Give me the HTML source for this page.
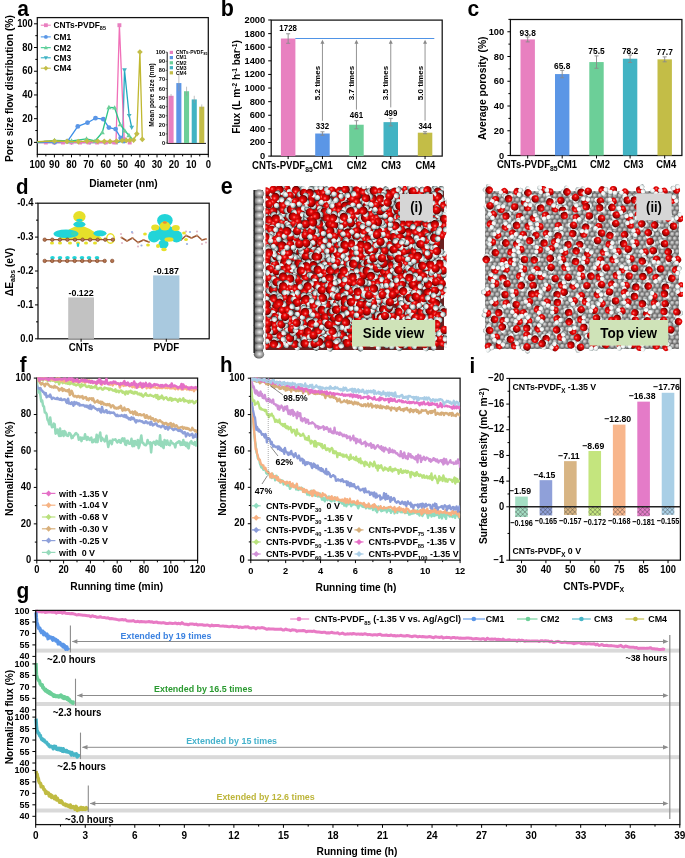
<!DOCTYPE html>
<html><head><meta charset="utf-8"><style>
html,body{margin:0;padding:0;background:#fff;}
svg{display:block;will-change:transform;}
text{font-family:"Liberation Sans",sans-serif;}
</style></head><body>
<svg width="685" height="858" viewBox="0 0 685 858">
<rect width="685" height="858" fill="#fff"/>
<text transform="translate(17.20,15.80) scale(1.0,1.07)" font-size="21" text-anchor="start" font-weight="bold" fill="#000" >a</text>
<rect x="37.30" y="17.60" width="171.00" height="136.80" fill="none" stroke="#111" stroke-width="1.25"/>
<line x1="34.00" y1="142.40" x2="37.30" y2="142.40" stroke="#000" stroke-width="1" />
<text transform="translate(32.80,145.60) scale(1.0,1.07)" font-size="9.4" text-anchor="end" font-weight="bold" fill="#000" >0</text>
<line x1="34.00" y1="118.68" x2="37.30" y2="118.68" stroke="#000" stroke-width="1" />
<text transform="translate(32.80,121.88) scale(1.0,1.07)" font-size="9.4" text-anchor="end" font-weight="bold" fill="#000" >20</text>
<line x1="34.00" y1="94.96" x2="37.30" y2="94.96" stroke="#000" stroke-width="1" />
<text transform="translate(32.80,98.16) scale(1.0,1.07)" font-size="9.4" text-anchor="end" font-weight="bold" fill="#000" >40</text>
<line x1="34.00" y1="71.24" x2="37.30" y2="71.24" stroke="#000" stroke-width="1" />
<text transform="translate(32.80,74.44) scale(1.0,1.07)" font-size="9.4" text-anchor="end" font-weight="bold" fill="#000" >60</text>
<line x1="34.00" y1="47.52" x2="37.30" y2="47.52" stroke="#000" stroke-width="1" />
<text transform="translate(32.80,50.72) scale(1.0,1.07)" font-size="9.4" text-anchor="end" font-weight="bold" fill="#000" >80</text>
<line x1="34.00" y1="23.80" x2="37.30" y2="23.80" stroke="#000" stroke-width="1" />
<text transform="translate(32.80,27.00) scale(1.0,1.07)" font-size="9.4" text-anchor="end" font-weight="bold" fill="#000" >100</text>
<line x1="35.30" y1="130.54" x2="37.30" y2="130.54" stroke="#000" stroke-width="1" />
<line x1="35.30" y1="106.82" x2="37.30" y2="106.82" stroke="#000" stroke-width="1" />
<line x1="35.30" y1="83.10" x2="37.30" y2="83.10" stroke="#000" stroke-width="1" />
<line x1="35.30" y1="59.38" x2="37.30" y2="59.38" stroke="#000" stroke-width="1" />
<line x1="35.30" y1="35.66" x2="37.30" y2="35.66" stroke="#000" stroke-width="1" />
<line x1="37.30" y1="154.40" x2="37.30" y2="157.40" stroke="#000" stroke-width="1" />
<text transform="translate(37.30,168.10) scale(1.0,1.07)" font-size="9.5" text-anchor="middle" font-weight="bold" fill="#000" >100</text>
<line x1="54.40" y1="154.40" x2="54.40" y2="157.40" stroke="#000" stroke-width="1" />
<text transform="translate(54.40,168.10) scale(1.0,1.07)" font-size="9.5" text-anchor="middle" font-weight="bold" fill="#000" >90</text>
<line x1="71.50" y1="154.40" x2="71.50" y2="157.40" stroke="#000" stroke-width="1" />
<text transform="translate(71.50,168.10) scale(1.0,1.07)" font-size="9.5" text-anchor="middle" font-weight="bold" fill="#000" >80</text>
<line x1="88.60" y1="154.40" x2="88.60" y2="157.40" stroke="#000" stroke-width="1" />
<text transform="translate(88.60,168.10) scale(1.0,1.07)" font-size="9.5" text-anchor="middle" font-weight="bold" fill="#000" >70</text>
<line x1="105.70" y1="154.40" x2="105.70" y2="157.40" stroke="#000" stroke-width="1" />
<text transform="translate(105.70,168.10) scale(1.0,1.07)" font-size="9.5" text-anchor="middle" font-weight="bold" fill="#000" >60</text>
<line x1="122.80" y1="154.40" x2="122.80" y2="157.40" stroke="#000" stroke-width="1" />
<text transform="translate(122.80,168.10) scale(1.0,1.07)" font-size="9.5" text-anchor="middle" font-weight="bold" fill="#000" >50</text>
<line x1="139.90" y1="154.40" x2="139.90" y2="157.40" stroke="#000" stroke-width="1" />
<text transform="translate(139.90,168.10) scale(1.0,1.07)" font-size="9.5" text-anchor="middle" font-weight="bold" fill="#000" >40</text>
<line x1="157.00" y1="154.40" x2="157.00" y2="157.40" stroke="#000" stroke-width="1" />
<text transform="translate(157.00,168.10) scale(1.0,1.07)" font-size="9.5" text-anchor="middle" font-weight="bold" fill="#000" >30</text>
<line x1="174.10" y1="154.40" x2="174.10" y2="157.40" stroke="#000" stroke-width="1" />
<text transform="translate(174.10,168.10) scale(1.0,1.07)" font-size="9.5" text-anchor="middle" font-weight="bold" fill="#000" >20</text>
<line x1="191.20" y1="154.40" x2="191.20" y2="157.40" stroke="#000" stroke-width="1" />
<text transform="translate(191.20,168.10) scale(1.0,1.07)" font-size="9.5" text-anchor="middle" font-weight="bold" fill="#000" >10</text>
<line x1="208.30" y1="154.40" x2="208.30" y2="157.40" stroke="#000" stroke-width="1" />
<text transform="translate(208.30,168.10) scale(1.0,1.07)" font-size="9.5" text-anchor="middle" font-weight="bold" fill="#000" >0</text>
<line x1="45.85" y1="154.40" x2="45.85" y2="156.40" stroke="#000" stroke-width="1" />
<line x1="62.95" y1="154.40" x2="62.95" y2="156.40" stroke="#000" stroke-width="1" />
<line x1="80.05" y1="154.40" x2="80.05" y2="156.40" stroke="#000" stroke-width="1" />
<line x1="97.15" y1="154.40" x2="97.15" y2="156.40" stroke="#000" stroke-width="1" />
<line x1="114.25" y1="154.40" x2="114.25" y2="156.40" stroke="#000" stroke-width="1" />
<line x1="131.35" y1="154.40" x2="131.35" y2="156.40" stroke="#000" stroke-width="1" />
<line x1="148.45" y1="154.40" x2="148.45" y2="156.40" stroke="#000" stroke-width="1" />
<line x1="165.55" y1="154.40" x2="165.55" y2="156.40" stroke="#000" stroke-width="1" />
<line x1="182.65" y1="154.40" x2="182.65" y2="156.40" stroke="#000" stroke-width="1" />
<line x1="199.75" y1="154.40" x2="199.75" y2="156.40" stroke="#000" stroke-width="1" />
<text transform="translate(123.40,187.10) scale(1.0,1.07)" font-size="10.2" text-anchor="middle" font-weight="bold" fill="#000" >Diameter (nm)</text>
<text x="0" y="0" font-size="10.3" text-anchor="middle" font-weight="bold" fill="#000" transform="translate(12.90,88.60) rotate(-90)">Pore size flow distribution (%)</text>
<line x1="40.80" y1="25.20" x2="50.80" y2="25.20" stroke="#f070b8" stroke-width="1" />
<rect x="44.00" y="23.30" width="3.80" height="3.80" fill="#e880c0" />
<text transform="translate(53.40,28.20) scale(1.0,1.07)" font-size="8.4" text-anchor="start" font-weight="bold" fill="#000" >CNTs-PVDF<tspan dy="2" font-size="5.5">85</tspan></text>
<line x1="40.80" y1="36.90" x2="50.80" y2="36.90" stroke="#3b8ee8" stroke-width="1" />
<circle cx="45.90" cy="36.90" r="1.90" fill="#5b96e6"/>
<text transform="translate(53.40,39.90) scale(1.0,1.07)" font-size="8.4" text-anchor="start" font-weight="bold" fill="#000" >CM1</text>
<line x1="40.80" y1="47.70" x2="50.80" y2="47.70" stroke="#2bc589" stroke-width="1" />
<polygon points="45.90,45.61 43.81,49.22 47.99,49.22" fill="#6ccf98"/>
<text transform="translate(53.40,50.70) scale(1.0,1.07)" font-size="8.4" text-anchor="start" font-weight="bold" fill="#000" >CM2</text>
<line x1="40.80" y1="57.80" x2="50.80" y2="57.80" stroke="#22a8c0" stroke-width="1" />
<polygon points="45.90,59.89 43.81,56.28 47.99,56.28" fill="#42b3c3"/>
<text transform="translate(53.40,60.80) scale(1.0,1.07)" font-size="8.4" text-anchor="start" font-weight="bold" fill="#000" >CM3</text>
<line x1="40.80" y1="68.20" x2="50.80" y2="68.20" stroke="#c0b830" stroke-width="1" />
<polygon points="45.90,65.73 43.43,68.20 45.90,70.67 48.37,68.20" fill="#c3bd47"/>
<text transform="translate(53.40,71.20) scale(1.0,1.07)" font-size="8.4" text-anchor="start" font-weight="bold" fill="#000" >CM4</text>
<polyline points="37.30,142.70 54.50,142.70 71.60,142.70 90.00,142.70 105.00,142.70 117.00,142.50 122.60,141.00 124.50,70.10 129.20,115.70 131.70,127.50" fill="none" stroke="#22a8c0" stroke-width="1.3" stroke-linejoin="round" />
<polygon points="54.50,145.10 52.10,140.95 56.90,140.95" fill="#42b3c3"/>
<polygon points="71.60,145.10 69.20,140.95 74.00,140.95" fill="#42b3c3"/>
<polygon points="90.00,145.10 87.60,140.95 92.40,140.95" fill="#42b3c3"/>
<polygon points="105.00,145.10 102.60,140.95 107.40,140.95" fill="#42b3c3"/>
<polygon points="117.00,144.90 114.60,140.75 119.40,140.75" fill="#42b3c3"/>
<polygon points="122.60,143.40 120.20,139.25 125.00,139.25" fill="#42b3c3"/>
<polygon points="124.50,72.50 122.10,68.35 126.90,68.35" fill="#42b3c3"/>
<polygon points="129.20,118.10 126.80,113.95 131.60,113.95" fill="#42b3c3"/>
<polygon points="131.70,129.90 129.30,125.75 134.10,125.75" fill="#42b3c3"/>
<polyline points="37.30,142.50 45.85,142.50 54.40,142.50 62.95,142.50 71.50,142.50 80.05,142.50 88.60,142.50 97.15,142.50 105.70,142.50 114.25,142.50 116.00,142.20 119.40,25.20 124.20,139.30 129.70,142.50" fill="none" stroke="#f070b8" stroke-width="1.3" stroke-linejoin="round" />
<rect x="43.89" y="140.54" width="3.91" height="3.91" fill="#e880c0" />
<rect x="52.45" y="140.54" width="3.91" height="3.91" fill="#e880c0" />
<rect x="60.99" y="140.54" width="3.91" height="3.91" fill="#e880c0" />
<rect x="69.55" y="140.54" width="3.91" height="3.91" fill="#e880c0" />
<rect x="78.09" y="140.54" width="3.91" height="3.91" fill="#e880c0" />
<rect x="86.64" y="140.54" width="3.91" height="3.91" fill="#e880c0" />
<rect x="95.20" y="140.54" width="3.91" height="3.91" fill="#e880c0" />
<rect x="103.75" y="140.54" width="3.91" height="3.91" fill="#e880c0" />
<rect x="112.30" y="140.54" width="3.91" height="3.91" fill="#e880c0" />
<rect x="114.05" y="140.24" width="3.91" height="3.91" fill="#e880c0" />
<rect x="117.45" y="23.25" width="3.91" height="3.91" fill="#e880c0" />
<rect x="122.25" y="137.34" width="3.91" height="3.91" fill="#e880c0" />
<rect x="127.74" y="140.54" width="3.91" height="3.91" fill="#e880c0" />
<polyline points="37.30,142.20 54.50,142.20 67.60,141.20 77.80,126.40 87.50,122.70 95.50,118.20 103.30,119.20 108.90,127.60 115.60,129.10 120.70,138.00 124.00,141.20" fill="none" stroke="#3b8ee8" stroke-width="1.3" stroke-linejoin="round" />
<circle cx="54.50" cy="142.20" r="2.42" fill="#5b96e6"/>
<circle cx="67.60" cy="141.20" r="2.42" fill="#5b96e6"/>
<circle cx="77.80" cy="126.40" r="2.42" fill="#5b96e6"/>
<circle cx="87.50" cy="122.70" r="2.42" fill="#5b96e6"/>
<circle cx="95.50" cy="118.20" r="2.42" fill="#5b96e6"/>
<circle cx="103.30" cy="119.20" r="2.42" fill="#5b96e6"/>
<circle cx="108.90" cy="127.60" r="2.42" fill="#5b96e6"/>
<circle cx="115.60" cy="129.10" r="2.42" fill="#5b96e6"/>
<circle cx="120.70" cy="138.00" r="2.42" fill="#5b96e6"/>
<circle cx="124.00" cy="141.20" r="2.42" fill="#5b96e6"/>
<polyline points="37.30,142.20 54.50,140.30 71.60,140.80 86.50,138.80 95.00,141.00 102.30,132.50 108.90,107.40 114.60,107.70 120.20,124.50 124.80,130.70 128.90,135.30 131.50,139.00" fill="none" stroke="#2bc589" stroke-width="1.3" stroke-linejoin="round" />
<polygon points="54.50,137.77 51.97,142.14 57.03,142.14" fill="#6ccf98"/>
<polygon points="71.60,138.27 69.07,142.64 74.13,142.64" fill="#6ccf98"/>
<polygon points="86.50,136.27 83.97,140.64 89.03,140.64" fill="#6ccf98"/>
<polygon points="95.00,138.47 92.47,142.84 97.53,142.84" fill="#6ccf98"/>
<polygon points="102.30,129.97 99.77,134.34 104.83,134.34" fill="#6ccf98"/>
<polygon points="108.90,104.87 106.37,109.24 111.43,109.24" fill="#6ccf98"/>
<polygon points="114.60,105.17 112.07,109.54 117.13,109.54" fill="#6ccf98"/>
<polygon points="120.20,121.97 117.67,126.34 122.73,126.34" fill="#6ccf98"/>
<polygon points="124.80,128.17 122.27,132.54 127.33,132.54" fill="#6ccf98"/>
<polygon points="128.90,132.77 126.37,137.14 131.43,137.14" fill="#6ccf98"/>
<polygon points="131.50,136.47 128.97,140.84 134.03,140.84" fill="#6ccf98"/>
<polyline points="37.30,141.60 54.50,141.00 67.00,141.40 78.30,141.60 87.00,141.20 97.70,141.20 104.30,141.40 110.00,141.40 116.60,141.20 122.20,140.60 126.30,140.40 129.90,140.20 133.60,140.10 136.80,133.80 139.90,52.00 142.30,139.30" fill="none" stroke="#c0b830" stroke-width="1.3" stroke-linejoin="round" />
<polygon points="54.50,138.16 51.66,141.00 54.50,143.84 57.34,141.00" fill="#c3bd47"/>
<polygon points="67.00,138.56 64.16,141.40 67.00,144.24 69.84,141.40" fill="#c3bd47"/>
<polygon points="78.30,138.76 75.46,141.60 78.30,144.44 81.14,141.60" fill="#c3bd47"/>
<polygon points="87.00,138.36 84.16,141.20 87.00,144.04 89.84,141.20" fill="#c3bd47"/>
<polygon points="97.70,138.36 94.86,141.20 97.70,144.04 100.54,141.20" fill="#c3bd47"/>
<polygon points="104.30,138.56 101.46,141.40 104.30,144.24 107.14,141.40" fill="#c3bd47"/>
<polygon points="110.00,138.56 107.16,141.40 110.00,144.24 112.84,141.40" fill="#c3bd47"/>
<polygon points="116.60,138.36 113.76,141.20 116.60,144.04 119.44,141.20" fill="#c3bd47"/>
<polygon points="122.20,137.76 119.36,140.60 122.20,143.44 125.04,140.60" fill="#c3bd47"/>
<polygon points="126.30,137.56 123.46,140.40 126.30,143.24 129.14,140.40" fill="#c3bd47"/>
<polygon points="129.90,137.36 127.06,140.20 129.90,143.04 132.74,140.20" fill="#c3bd47"/>
<polygon points="133.60,137.26 130.76,140.10 133.60,142.94 136.44,140.10" fill="#c3bd47"/>
<polygon points="136.80,130.96 133.96,133.80 136.80,136.64 139.64,133.80" fill="#c3bd47"/>
<polygon points="139.90,49.16 137.06,52.00 139.90,54.84 142.74,52.00" fill="#c3bd47"/>
<polygon points="142.30,136.46 139.46,139.30 142.30,142.14 145.14,139.30" fill="#c3bd47"/>
<line x1="167.20" y1="52.20" x2="167.20" y2="143.40" stroke="#1a1a1a" stroke-width="1.0" />
<line x1="167.20" y1="143.40" x2="206.00" y2="143.40" stroke="#1a1a1a" stroke-width="1.0" />
<line x1="165.60" y1="143.00" x2="167.20" y2="143.00" stroke="#111" stroke-width="0.6" />
<text transform="translate(165.00,145.00) scale(1.0,1.07)" font-size="5.6" text-anchor="end" font-weight="bold" fill="#000" >0</text>
<line x1="165.60" y1="133.92" x2="167.20" y2="133.92" stroke="#111" stroke-width="0.6" />
<text transform="translate(165.00,135.92) scale(1.0,1.07)" font-size="5.6" text-anchor="end" font-weight="bold" fill="#000" >10</text>
<line x1="165.60" y1="124.84" x2="167.20" y2="124.84" stroke="#111" stroke-width="0.6" />
<text transform="translate(165.00,126.84) scale(1.0,1.07)" font-size="5.6" text-anchor="end" font-weight="bold" fill="#000" >20</text>
<line x1="165.60" y1="115.76" x2="167.20" y2="115.76" stroke="#111" stroke-width="0.6" />
<text transform="translate(165.00,117.76) scale(1.0,1.07)" font-size="5.6" text-anchor="end" font-weight="bold" fill="#000" >30</text>
<line x1="165.60" y1="106.68" x2="167.20" y2="106.68" stroke="#111" stroke-width="0.6" />
<text transform="translate(165.00,108.68) scale(1.0,1.07)" font-size="5.6" text-anchor="end" font-weight="bold" fill="#000" >40</text>
<line x1="165.60" y1="97.60" x2="167.20" y2="97.60" stroke="#111" stroke-width="0.6" />
<text transform="translate(165.00,99.60) scale(1.0,1.07)" font-size="5.6" text-anchor="end" font-weight="bold" fill="#000" >50</text>
<line x1="165.60" y1="88.52" x2="167.20" y2="88.52" stroke="#111" stroke-width="0.6" />
<text transform="translate(165.00,90.52) scale(1.0,1.07)" font-size="5.6" text-anchor="end" font-weight="bold" fill="#000" >60</text>
<line x1="165.60" y1="79.44" x2="167.20" y2="79.44" stroke="#111" stroke-width="0.6" />
<text transform="translate(165.00,81.44) scale(1.0,1.07)" font-size="5.6" text-anchor="end" font-weight="bold" fill="#000" >70</text>
<line x1="165.60" y1="70.36" x2="167.20" y2="70.36" stroke="#111" stroke-width="0.6" />
<text transform="translate(165.00,72.36) scale(1.0,1.07)" font-size="5.6" text-anchor="end" font-weight="bold" fill="#000" >80</text>
<line x1="165.60" y1="61.28" x2="167.20" y2="61.28" stroke="#111" stroke-width="0.6" />
<text transform="translate(165.00,63.28) scale(1.0,1.07)" font-size="5.6" text-anchor="end" font-weight="bold" fill="#000" >90</text>
<line x1="165.60" y1="52.20" x2="167.20" y2="52.20" stroke="#111" stroke-width="0.6" />
<text transform="translate(165.00,54.20) scale(1.0,1.07)" font-size="5.6" text-anchor="end" font-weight="bold" fill="#000" >100</text>
<text x="0" y="0" font-size="6.6" text-anchor="middle" font-weight="bold" fill="#000" transform="translate(154.30,95.00) rotate(-90)">Mean pore size (nm)</text>
<rect x="168.50" y="95.78" width="5.10" height="47.22" fill="#e880c0" />
<line x1="171.05" y1="93.97" x2="171.05" y2="97.60" stroke="#999" stroke-width="0.6" />
<rect x="176.30" y="83.07" width="5.10" height="59.93" fill="#5b96e6" />
<line x1="178.85" y1="74.90" x2="178.85" y2="91.24" stroke="#999" stroke-width="0.6" />
<rect x="184.00" y="91.24" width="5.10" height="51.76" fill="#6ccf98" />
<line x1="186.55" y1="86.70" x2="186.55" y2="95.78" stroke="#999" stroke-width="0.6" />
<rect x="191.70" y="99.42" width="5.10" height="43.58" fill="#42b3c3" />
<line x1="194.25" y1="95.78" x2="194.25" y2="103.05" stroke="#999" stroke-width="0.6" />
<rect x="199.20" y="106.68" width="5.10" height="36.32" fill="#c3bd47" />
<line x1="201.75" y1="104.41" x2="201.75" y2="108.95" stroke="#999" stroke-width="0.6" />
<rect x="169.70" y="50.80" width="3.30" height="3.20" fill="#e880c0" />
<text transform="translate(175.90,54.20) scale(1.0,1.07)" font-size="5.0" text-anchor="start" font-weight="bold" fill="#000" >CNTs-PVDF<tspan dy="1" font-size="3.5">85</tspan></text>
<rect x="169.70" y="56.00" width="3.30" height="3.20" fill="#5b96e6" />
<text transform="translate(175.90,59.40) scale(1.0,1.07)" font-size="5.0" text-anchor="start" font-weight="bold" fill="#000" >CM1</text>
<rect x="169.70" y="61.20" width="3.30" height="3.20" fill="#6ccf98" />
<text transform="translate(175.90,64.60) scale(1.0,1.07)" font-size="5.0" text-anchor="start" font-weight="bold" fill="#000" >CM2</text>
<rect x="169.70" y="66.10" width="3.30" height="3.20" fill="#42b3c3" />
<text transform="translate(175.90,69.50) scale(1.0,1.07)" font-size="5.0" text-anchor="start" font-weight="bold" fill="#000" >CM3</text>
<rect x="169.70" y="71.20" width="3.30" height="3.20" fill="#c3bd47" />
<text transform="translate(175.90,74.60) scale(1.0,1.07)" font-size="5.0" text-anchor="start" font-weight="bold" fill="#000" >CM4</text>
<text transform="translate(220.80,15.80) scale(1.0,1.07)" font-size="21.5" text-anchor="start" font-weight="bold" fill="#000" >b</text>
<rect x="271.20" y="20.10" width="171.00" height="136.00" fill="none" stroke="#111" stroke-width="1.25"/>
<line x1="268.20" y1="156.10" x2="271.20" y2="156.10" stroke="#000" stroke-width="1" />
<text transform="translate(265.20,159.10) scale(1.0,1.07)" font-size="9.3" text-anchor="end" font-weight="bold" fill="#000" >0</text>
<line x1="268.20" y1="142.49" x2="271.20" y2="142.49" stroke="#000" stroke-width="1" />
<text transform="translate(265.20,145.49) scale(1.0,1.07)" font-size="9.3" text-anchor="end" font-weight="bold" fill="#000" >200</text>
<line x1="268.20" y1="128.88" x2="271.20" y2="128.88" stroke="#000" stroke-width="1" />
<text transform="translate(265.20,131.88) scale(1.0,1.07)" font-size="9.3" text-anchor="end" font-weight="bold" fill="#000" >400</text>
<line x1="268.20" y1="115.27" x2="271.20" y2="115.27" stroke="#000" stroke-width="1" />
<text transform="translate(265.20,118.27) scale(1.0,1.07)" font-size="9.3" text-anchor="end" font-weight="bold" fill="#000" >600</text>
<line x1="268.20" y1="101.66" x2="271.20" y2="101.66" stroke="#000" stroke-width="1" />
<text transform="translate(265.20,104.66) scale(1.0,1.07)" font-size="9.3" text-anchor="end" font-weight="bold" fill="#000" >800</text>
<line x1="268.20" y1="88.05" x2="271.20" y2="88.05" stroke="#000" stroke-width="1" />
<text transform="translate(265.20,91.05) scale(1.0,1.07)" font-size="9.3" text-anchor="end" font-weight="bold" fill="#000" >1000</text>
<line x1="268.20" y1="74.44" x2="271.20" y2="74.44" stroke="#000" stroke-width="1" />
<text transform="translate(265.20,77.44) scale(1.0,1.07)" font-size="9.3" text-anchor="end" font-weight="bold" fill="#000" >1200</text>
<line x1="268.20" y1="60.83" x2="271.20" y2="60.83" stroke="#000" stroke-width="1" />
<text transform="translate(265.20,63.83) scale(1.0,1.07)" font-size="9.3" text-anchor="end" font-weight="bold" fill="#000" >1400</text>
<line x1="268.20" y1="47.22" x2="271.20" y2="47.22" stroke="#000" stroke-width="1" />
<text transform="translate(265.20,50.22) scale(1.0,1.07)" font-size="9.3" text-anchor="end" font-weight="bold" fill="#000" >1600</text>
<line x1="268.20" y1="33.61" x2="271.20" y2="33.61" stroke="#000" stroke-width="1" />
<text transform="translate(265.20,36.61) scale(1.0,1.07)" font-size="9.3" text-anchor="end" font-weight="bold" fill="#000" >1800</text>
<line x1="268.20" y1="20.00" x2="271.20" y2="20.00" stroke="#000" stroke-width="1" />
<text transform="translate(265.20,23.00) scale(1.0,1.07)" font-size="9.3" text-anchor="end" font-weight="bold" fill="#000" >2000</text>
<rect x="280.90" y="38.51" width="14.50" height="117.59" fill="#e880c0" />
<line x1="288.15" y1="33.75" x2="288.15" y2="43.27" stroke="#8a8a8a" stroke-width="0.9" />
<line x1="286.15" y1="33.75" x2="290.15" y2="33.75" stroke="#8a8a8a" stroke-width="0.9" />
<line x1="286.15" y1="43.27" x2="290.15" y2="43.27" stroke="#8a8a8a" stroke-width="0.9" />
<text transform="translate(288.15,31.15) scale(1.0,1.07)" font-size="7.9" text-anchor="middle" font-weight="bold" fill="#000" >1728</text>
<line x1="288.15" y1="156.10" x2="288.15" y2="159.10" stroke="#000" stroke-width="1" />
<rect x="315.20" y="133.51" width="14.50" height="22.59" fill="#5b96e6" />
<line x1="322.45" y1="131.81" x2="322.45" y2="135.21" stroke="#8a8a8a" stroke-width="0.9" />
<line x1="320.45" y1="131.81" x2="324.45" y2="131.81" stroke="#8a8a8a" stroke-width="0.9" />
<line x1="320.45" y1="135.21" x2="324.45" y2="135.21" stroke="#8a8a8a" stroke-width="0.9" />
<text transform="translate(322.45,129.21) scale(1.0,1.07)" font-size="7.9" text-anchor="middle" font-weight="bold" fill="#000" >332</text>
<line x1="322.45" y1="156.10" x2="322.45" y2="159.10" stroke="#000" stroke-width="1" />
<rect x="349.20" y="124.73" width="14.50" height="31.37" fill="#6ccf98" />
<line x1="356.45" y1="120.65" x2="356.45" y2="128.81" stroke="#8a8a8a" stroke-width="0.9" />
<line x1="354.45" y1="120.65" x2="358.45" y2="120.65" stroke="#8a8a8a" stroke-width="0.9" />
<line x1="354.45" y1="128.81" x2="358.45" y2="128.81" stroke="#8a8a8a" stroke-width="0.9" />
<text transform="translate(356.45,118.05) scale(1.0,1.07)" font-size="7.9" text-anchor="middle" font-weight="bold" fill="#000" >461</text>
<line x1="356.45" y1="156.10" x2="356.45" y2="159.10" stroke="#000" stroke-width="1" />
<rect x="383.50" y="122.14" width="14.50" height="33.96" fill="#42b3c3" />
<line x1="390.75" y1="118.40" x2="390.75" y2="125.89" stroke="#8a8a8a" stroke-width="0.9" />
<line x1="388.75" y1="118.40" x2="392.75" y2="118.40" stroke="#8a8a8a" stroke-width="0.9" />
<line x1="388.75" y1="125.89" x2="392.75" y2="125.89" stroke="#8a8a8a" stroke-width="0.9" />
<text transform="translate(390.75,115.80) scale(1.0,1.07)" font-size="7.9" text-anchor="middle" font-weight="bold" fill="#000" >499</text>
<line x1="390.75" y1="156.10" x2="390.75" y2="159.10" stroke="#000" stroke-width="1" />
<rect x="417.80" y="132.69" width="14.50" height="23.41" fill="#c3bd47" />
<line x1="425.05" y1="131.67" x2="425.05" y2="133.71" stroke="#8a8a8a" stroke-width="0.9" />
<line x1="423.05" y1="131.67" x2="427.05" y2="131.67" stroke="#8a8a8a" stroke-width="0.9" />
<line x1="423.05" y1="133.71" x2="427.05" y2="133.71" stroke="#8a8a8a" stroke-width="0.9" />
<text transform="translate(425.05,129.07) scale(1.0,1.07)" font-size="7.9" text-anchor="middle" font-weight="bold" fill="#000" >344</text>
<line x1="425.05" y1="156.10" x2="425.05" y2="159.10" stroke="#000" stroke-width="1" />
<line x1="295.30" y1="38.51" x2="434.30" y2="38.51" stroke="#4f93e6" stroke-width="1" />
<line x1="322.45" y1="42.71" x2="322.45" y2="120.81" stroke="#888" stroke-width="0.9" />
<polygon points="322.45,39.71 320.45,43.71 324.45,43.71" fill="#888"/>
<text x="0" y="0" font-size="8.0" text-anchor="middle" font-weight="bold" fill="#000" transform="translate(319.95,83.00) rotate(-90)">5.2 times</text>
<line x1="356.45" y1="42.71" x2="356.45" y2="109.65" stroke="#888" stroke-width="0.9" />
<polygon points="356.45,39.71 354.45,43.71 358.45,43.71" fill="#888"/>
<text x="0" y="0" font-size="8.0" text-anchor="middle" font-weight="bold" fill="#000" transform="translate(353.95,83.00) rotate(-90)">3.7 times</text>
<line x1="390.75" y1="42.71" x2="390.75" y2="107.40" stroke="#888" stroke-width="0.9" />
<polygon points="390.75,39.71 388.75,43.71 392.75,43.71" fill="#888"/>
<text x="0" y="0" font-size="8.0" text-anchor="middle" font-weight="bold" fill="#000" transform="translate(388.25,83.00) rotate(-90)">3.5 times</text>
<line x1="425.05" y1="42.71" x2="425.05" y2="120.67" stroke="#888" stroke-width="0.9" />
<polygon points="425.05,39.71 423.05,43.71 427.05,43.71" fill="#888"/>
<text x="0" y="0" font-size="8.0" text-anchor="middle" font-weight="bold" fill="#000" transform="translate(422.55,83.00) rotate(-90)">5.0 times</text>
<text transform="translate(312.80,169.00) scale(1.0,1.07)" font-size="9.6" text-anchor="end" font-weight="bold" fill="#000" >CNTs-PVDF<tspan dy="2.5" font-size="6.8">85</tspan></text>
<text transform="translate(322.75,169.00) scale(1.0,1.07)" font-size="9.4" text-anchor="middle" font-weight="bold" fill="#000" >CM1</text>
<text transform="translate(356.75,169.00) scale(1.0,1.07)" font-size="9.4" text-anchor="middle" font-weight="bold" fill="#000" >CM2</text>
<text transform="translate(391.05,169.00) scale(1.0,1.07)" font-size="9.4" text-anchor="middle" font-weight="bold" fill="#000" >CM3</text>
<text transform="translate(425.35,169.00) scale(1.0,1.07)" font-size="9.4" text-anchor="middle" font-weight="bold" fill="#000" >CM4</text>
<text x="0" y="0" font-size="10.2" text-anchor="middle" font-weight="bold" fill="#000" transform="translate(240.40,87.00) rotate(-90)">Flux (L m<tspan dy="-3" font-size="6.5">-2</tspan><tspan dy="3"> h</tspan><tspan dy="-3" font-size="6.5">-1</tspan><tspan dy="3"> bar</tspan><tspan dy="-3" font-size="6.5">-1</tspan><tspan dy="3">)</tspan></text>
<text transform="translate(467.60,15.90) scale(1.0,1.07)" font-size="21" text-anchor="start" font-weight="bold" fill="#000" >c</text>
<rect x="510.40" y="19.50" width="171.50" height="136.00" fill="none" stroke="#111" stroke-width="1.25"/>
<line x1="507.40" y1="155.50" x2="510.40" y2="155.50" stroke="#000" stroke-width="1" />
<text transform="translate(504.20,158.50) scale(1.0,1.07)" font-size="9.3" text-anchor="end" font-weight="bold" fill="#000" >0</text>
<line x1="507.40" y1="130.75" x2="510.40" y2="130.75" stroke="#000" stroke-width="1" />
<text transform="translate(504.20,133.75) scale(1.0,1.07)" font-size="9.3" text-anchor="end" font-weight="bold" fill="#000" >20</text>
<line x1="507.40" y1="106.00" x2="510.40" y2="106.00" stroke="#000" stroke-width="1" />
<text transform="translate(504.20,109.00) scale(1.0,1.07)" font-size="9.3" text-anchor="end" font-weight="bold" fill="#000" >40</text>
<line x1="507.40" y1="81.25" x2="510.40" y2="81.25" stroke="#000" stroke-width="1" />
<text transform="translate(504.20,84.25) scale(1.0,1.07)" font-size="9.3" text-anchor="end" font-weight="bold" fill="#000" >60</text>
<line x1="507.40" y1="56.50" x2="510.40" y2="56.50" stroke="#000" stroke-width="1" />
<text transform="translate(504.20,59.50) scale(1.0,1.07)" font-size="9.3" text-anchor="end" font-weight="bold" fill="#000" >80</text>
<line x1="507.40" y1="31.75" x2="510.40" y2="31.75" stroke="#000" stroke-width="1" />
<text transform="translate(504.20,34.75) scale(1.0,1.07)" font-size="9.3" text-anchor="end" font-weight="bold" fill="#000" >100</text>
<line x1="508.40" y1="143.12" x2="510.40" y2="143.12" stroke="#000" stroke-width="1" />
<line x1="508.40" y1="118.38" x2="510.40" y2="118.38" stroke="#000" stroke-width="1" />
<line x1="508.40" y1="93.62" x2="510.40" y2="93.62" stroke="#000" stroke-width="1" />
<line x1="508.40" y1="68.88" x2="510.40" y2="68.88" stroke="#000" stroke-width="1" />
<line x1="508.40" y1="44.12" x2="510.40" y2="44.12" stroke="#000" stroke-width="1" />
<line x1="508.40" y1="19.38" x2="510.40" y2="19.38" stroke="#000" stroke-width="1" />
<rect x="520.50" y="39.42" width="14.40" height="116.08" fill="#e880c0" />
<line x1="527.70" y1="36.95" x2="527.70" y2="41.90" stroke="#8a8a8a" stroke-width="0.9" />
<line x1="525.70" y1="36.95" x2="529.70" y2="36.95" stroke="#8a8a8a" stroke-width="0.9" />
<line x1="525.70" y1="41.90" x2="529.70" y2="41.90" stroke="#8a8a8a" stroke-width="0.9" />
<text transform="translate(527.70,35.55) scale(1.0,1.07)" font-size="8.4" text-anchor="middle" font-weight="bold" fill="#000" >93.8</text>
<line x1="527.70" y1="155.50" x2="527.70" y2="158.50" stroke="#000" stroke-width="1" />
<rect x="555.00" y="74.07" width="14.40" height="81.43" fill="#5b96e6" />
<line x1="562.20" y1="70.36" x2="562.20" y2="77.78" stroke="#8a8a8a" stroke-width="0.9" />
<line x1="560.20" y1="70.36" x2="564.20" y2="70.36" stroke="#8a8a8a" stroke-width="0.9" />
<line x1="560.20" y1="77.78" x2="564.20" y2="77.78" stroke="#8a8a8a" stroke-width="0.9" />
<text transform="translate(562.20,68.96) scale(1.0,1.07)" font-size="8.4" text-anchor="middle" font-weight="bold" fill="#000" >65.8</text>
<line x1="562.20" y1="155.50" x2="562.20" y2="158.50" stroke="#000" stroke-width="1" />
<rect x="589.30" y="62.07" width="14.40" height="93.43" fill="#6ccf98" />
<line x1="596.50" y1="55.88" x2="596.50" y2="68.26" stroke="#8a8a8a" stroke-width="0.9" />
<line x1="594.50" y1="55.88" x2="598.50" y2="55.88" stroke="#8a8a8a" stroke-width="0.9" />
<line x1="594.50" y1="68.26" x2="598.50" y2="68.26" stroke="#8a8a8a" stroke-width="0.9" />
<text transform="translate(596.50,54.48) scale(1.0,1.07)" font-size="8.4" text-anchor="middle" font-weight="bold" fill="#000" >75.5</text>
<line x1="596.50" y1="155.50" x2="596.50" y2="158.50" stroke="#000" stroke-width="1" />
<rect x="622.90" y="58.73" width="14.40" height="96.77" fill="#42b3c3" />
<line x1="630.10" y1="55.01" x2="630.10" y2="62.44" stroke="#8a8a8a" stroke-width="0.9" />
<line x1="628.10" y1="55.01" x2="632.10" y2="55.01" stroke="#8a8a8a" stroke-width="0.9" />
<line x1="628.10" y1="62.44" x2="632.10" y2="62.44" stroke="#8a8a8a" stroke-width="0.9" />
<text transform="translate(630.10,53.61) scale(1.0,1.07)" font-size="8.4" text-anchor="middle" font-weight="bold" fill="#000" >78.2</text>
<line x1="630.10" y1="155.50" x2="630.10" y2="158.50" stroke="#000" stroke-width="1" />
<rect x="657.50" y="59.35" width="14.40" height="96.15" fill="#c3bd47" />
<line x1="664.70" y1="56.87" x2="664.70" y2="61.82" stroke="#8a8a8a" stroke-width="0.9" />
<line x1="662.70" y1="56.87" x2="666.70" y2="56.87" stroke="#8a8a8a" stroke-width="0.9" />
<line x1="662.70" y1="61.82" x2="666.70" y2="61.82" stroke="#8a8a8a" stroke-width="0.9" />
<text transform="translate(664.70,55.47) scale(1.0,1.07)" font-size="8.4" text-anchor="middle" font-weight="bold" fill="#000" >77.7</text>
<line x1="664.70" y1="155.50" x2="664.70" y2="158.50" stroke="#000" stroke-width="1" />
<text transform="translate(557.60,168.40) scale(1.0,1.07)" font-size="9.6" text-anchor="end" font-weight="bold" fill="#000" >CNTs-PVDF<tspan dy="2.5" font-size="6.8">85</tspan></text>
<text transform="translate(567.10,168.40) scale(1.0,1.07)" font-size="9.4" text-anchor="middle" font-weight="bold" fill="#000" >CM1</text>
<text transform="translate(600.00,168.40) scale(1.0,1.07)" font-size="9.4" text-anchor="middle" font-weight="bold" fill="#000" >CM2</text>
<text transform="translate(633.50,168.40) scale(1.0,1.07)" font-size="9.4" text-anchor="middle" font-weight="bold" fill="#000" >CM3</text>
<text transform="translate(666.20,168.40) scale(1.0,1.07)" font-size="9.4" text-anchor="middle" font-weight="bold" fill="#000" >CM4</text>
<text x="0" y="0" font-size="10.4" text-anchor="middle" font-weight="bold" fill="#000" transform="translate(485.80,88.20) rotate(-90)">Average porosity (%)</text>
<text transform="translate(16.00,193.50) scale(1.0,1.07)" font-size="20.5" text-anchor="start" font-weight="bold" fill="#000" >d</text>
<rect x="38.00" y="203.20" width="171.20" height="135.60" fill="none" stroke="#111" stroke-width="1.25"/>
<line x1="35.00" y1="203.20" x2="38.00" y2="203.20" stroke="#000" stroke-width="1" />
<text transform="translate(33.40,206.20) scale(1.0,1.07)" font-size="9.4" text-anchor="end" font-weight="bold" fill="#000" >-0.4</text>
<line x1="35.00" y1="237.10" x2="38.00" y2="237.10" stroke="#000" stroke-width="1" />
<text transform="translate(33.40,240.10) scale(1.0,1.07)" font-size="9.4" text-anchor="end" font-weight="bold" fill="#000" >-0.3</text>
<line x1="35.00" y1="271.00" x2="38.00" y2="271.00" stroke="#000" stroke-width="1" />
<text transform="translate(33.40,274.00) scale(1.0,1.07)" font-size="9.4" text-anchor="end" font-weight="bold" fill="#000" >-0.2</text>
<line x1="35.00" y1="304.90" x2="38.00" y2="304.90" stroke="#000" stroke-width="1" />
<text transform="translate(33.40,307.90) scale(1.0,1.07)" font-size="9.4" text-anchor="end" font-weight="bold" fill="#000" >-0.1</text>
<line x1="35.00" y1="338.80" x2="38.00" y2="338.80" stroke="#000" stroke-width="1" />
<text transform="translate(33.40,341.80) scale(1.0,1.07)" font-size="9.4" text-anchor="end" font-weight="bold" fill="#000" >0.0</text>
<line x1="36.00" y1="220.15" x2="38.00" y2="220.15" stroke="#000" stroke-width="1" />
<line x1="36.00" y1="254.05" x2="38.00" y2="254.05" stroke="#000" stroke-width="1" />
<line x1="36.00" y1="287.95" x2="38.00" y2="287.95" stroke="#000" stroke-width="1" />
<line x1="36.00" y1="321.85" x2="38.00" y2="321.85" stroke="#000" stroke-width="1" />
<rect x="68.20" y="297.44" width="25.80" height="41.36" fill="#c2c2c2" />
<rect x="153.10" y="275.41" width="26.30" height="63.39" fill="#a9c9df" />
<text transform="translate(81.10,296.24) scale(1.0,1.07)" font-size="8.9" text-anchor="middle" font-weight="bold" fill="#000" >-0.122</text>
<text transform="translate(166.30,274.21) scale(1.0,1.07)" font-size="8.9" text-anchor="middle" font-weight="bold" fill="#000" >-0.187</text>
<line x1="81.10" y1="338.80" x2="81.10" y2="341.80" stroke="#000" stroke-width="1" />
<line x1="166.30" y1="338.80" x2="166.30" y2="341.80" stroke="#000" stroke-width="1" />
<text transform="translate(81.10,351.20) scale(1.0,1.07)" font-size="9.7" text-anchor="middle" font-weight="bold" fill="#000" >CNTs</text>
<text transform="translate(166.30,351.20) scale(1.0,1.07)" font-size="9.7" text-anchor="middle" font-weight="bold" fill="#000" >PVDF</text>
<text x="0" y="0" font-size="10.2" text-anchor="middle" font-weight="bold" fill="#000" transform="translate(12.50,272.00) rotate(-90)">ΔE<tspan dy="2.5" font-size="7">abs</tspan><tspan dy="-2.5"> (eV)</tspan></text>
<path d="M58,239.5 Q66,230 75,226.5 L84,226.5 Q94,230 103,239.5 Z" fill="#e6e02a"/>
<ellipse cx="66" cy="233.8" rx="12.5" ry="4.3" fill="#22d4d8"/>
<ellipse cx="74" cy="233.5" rx="3" ry="2.2" fill="#3ad8b0"/>
<ellipse cx="100" cy="233.3" rx="6.5" ry="3" fill="#22d4d8"/>
<ellipse cx="79.4" cy="224.3" rx="6" ry="3" fill="#22d4d8"/>
<ellipse cx="79.4" cy="216.6" rx="6.2" ry="5.6" fill="#e6e02a"/>
<ellipse cx="79.4" cy="220.3" rx="3.2" ry="1.6" fill="#22d4d8"/>
<ellipse cx="110.5" cy="238.5" rx="3.8" ry="4.8" fill="none" stroke="#e6e02a" stroke-width="1.5"/>
<ellipse cx="52" cy="243" rx="2" ry="1.6" fill="#e6e02a"/>
<ellipse cx="60" cy="243" rx="2" ry="1.6" fill="#e6e02a"/>
<ellipse cx="70" cy="243" rx="2" ry="1.6" fill="#e6e02a"/>
<ellipse cx="78" cy="243" rx="2" ry="1.6" fill="#e6e02a"/>
<ellipse cx="86" cy="243" rx="2" ry="1.6" fill="#e6e02a"/>
<ellipse cx="95" cy="243" rx="2" ry="1.6" fill="#e6e02a"/>
<ellipse cx="78" cy="245" rx="1.3" ry="2" fill="#22d4d8"/>
<line x1="44.70" y1="239.70" x2="112.80" y2="239.70" stroke="#9a5530" stroke-width="1.2" />
<circle cx="44.70" cy="239.7" r="1.75" fill="#b27350" stroke="#7a3a1a" stroke-width="0.6"/>
<circle cx="52.27" cy="239.7" r="1.75" fill="#b27350" stroke="#7a3a1a" stroke-width="0.6"/>
<circle cx="59.84" cy="239.7" r="1.75" fill="#b27350" stroke="#7a3a1a" stroke-width="0.6"/>
<circle cx="67.41" cy="239.7" r="1.75" fill="#b27350" stroke="#7a3a1a" stroke-width="0.6"/>
<circle cx="74.98" cy="239.7" r="1.75" fill="#b27350" stroke="#7a3a1a" stroke-width="0.6"/>
<circle cx="82.55" cy="239.7" r="1.75" fill="#b27350" stroke="#7a3a1a" stroke-width="0.6"/>
<circle cx="90.12" cy="239.7" r="1.75" fill="#b27350" stroke="#7a3a1a" stroke-width="0.6"/>
<circle cx="97.69" cy="239.7" r="1.75" fill="#b27350" stroke="#7a3a1a" stroke-width="0.6"/>
<circle cx="105.26" cy="239.7" r="1.75" fill="#b27350" stroke="#7a3a1a" stroke-width="0.6"/>
<circle cx="112.83" cy="239.7" r="1.75" fill="#b27350" stroke="#7a3a1a" stroke-width="0.6"/>
<ellipse cx="52.5" cy="257.8" rx="2.3" ry="1.8" fill="#22d4d8"/>
<ellipse cx="60" cy="257.8" rx="2.3" ry="1.8" fill="#22d4d8"/>
<ellipse cx="67.5" cy="257.8" rx="2.3" ry="1.8" fill="#22d4d8"/>
<ellipse cx="74.5" cy="257.8" rx="2.3" ry="1.8" fill="#22d4d8"/>
<ellipse cx="82" cy="257.8" rx="2.3" ry="1.8" fill="#22d4d8"/>
<ellipse cx="89" cy="257.8" rx="2.3" ry="1.8" fill="#22d4d8"/>
<ellipse cx="97" cy="257.8" rx="2.3" ry="1.8" fill="#22d4d8"/>
<line x1="44.70" y1="260.90" x2="104.70" y2="260.90" stroke="#9a5530" stroke-width="1.2" />
<circle cx="44.70" cy="260.9" r="1.75" fill="#b27350" stroke="#7a3a1a" stroke-width="0.6"/>
<circle cx="52.20" cy="260.9" r="1.75" fill="#b27350" stroke="#7a3a1a" stroke-width="0.6"/>
<circle cx="59.70" cy="260.9" r="1.75" fill="#b27350" stroke="#7a3a1a" stroke-width="0.6"/>
<circle cx="67.20" cy="260.9" r="1.75" fill="#b27350" stroke="#7a3a1a" stroke-width="0.6"/>
<circle cx="74.70" cy="260.9" r="1.75" fill="#b27350" stroke="#7a3a1a" stroke-width="0.6"/>
<circle cx="82.20" cy="260.9" r="1.75" fill="#b27350" stroke="#7a3a1a" stroke-width="0.6"/>
<circle cx="89.70" cy="260.9" r="1.75" fill="#b27350" stroke="#7a3a1a" stroke-width="0.6"/>
<circle cx="97.20" cy="260.9" r="1.75" fill="#b27350" stroke="#7a3a1a" stroke-width="0.6"/>
<circle cx="104.70" cy="260.9" r="1.75" fill="#b27350" stroke="#7a3a1a" stroke-width="0.6"/>
<circle cx="112.20" cy="260.9" r="1.75" fill="#b27350" stroke="#7a3a1a" stroke-width="0.6"/>
<polyline points="121.50,237.50 127.00,241.00 132.50,238.00 138.00,242.50 143.50,240.00 149.00,242.00" fill="none" stroke="#9a5530" stroke-width="1.5" stroke-linejoin="round" />
<polyline points="181.00,240.00 186.00,235.50 191.50,238.00 197.00,235.50 202.00,240.00 206.00,239.00" fill="none" stroke="#9a5530" stroke-width="1.5" stroke-linejoin="round" />
<circle cx="121.5" cy="237.5" r="1.1" fill="#c48a6a"/>
<circle cx="127" cy="241" r="1.1" fill="#c48a6a"/>
<circle cx="132.5" cy="238" r="1.1" fill="#c48a6a"/>
<circle cx="138" cy="242.5" r="1.1" fill="#c48a6a"/>
<circle cx="143.5" cy="240" r="1.1" fill="#c48a6a"/>
<circle cx="149" cy="242" r="1.1" fill="#c48a6a"/>
<circle cx="181" cy="240" r="1.1" fill="#c48a6a"/>
<circle cx="186" cy="235.5" r="1.1" fill="#c48a6a"/>
<circle cx="191.5" cy="238" r="1.1" fill="#c48a6a"/>
<circle cx="197" cy="235.5" r="1.1" fill="#c48a6a"/>
<circle cx="202" cy="240" r="1.1" fill="#c48a6a"/>
<circle cx="206" cy="239" r="1.1" fill="#c48a6a"/>
<circle cx="121" cy="234" r="1.1" fill="#e0b8c8"/>
<circle cx="122" cy="243" r="1.1" fill="#e0b8c8"/>
<circle cx="132.5" cy="233" r="1.1" fill="#e0b8c8"/>
<circle cx="138" cy="246.5" r="1.1" fill="#e0b8c8"/>
<circle cx="186" cy="231.5" r="1.1" fill="#e0b8c8"/>
<circle cx="197" cy="231.5" r="1.1" fill="#e0b8c8"/>
<circle cx="202" cy="244" r="1.1" fill="#e0b8c8"/>
<circle cx="206" cy="242.5" r="1.1" fill="#e0b8c8"/>
<circle cx="132" cy="232" r="1.1" fill="#9ab0e0"/>
<circle cx="141.5" cy="245.5" r="1.1" fill="#9ab0e0"/>
<circle cx="190" cy="232" r="1.1" fill="#9ab0e0"/>
<circle cx="187" cy="244" r="1.1" fill="#9ab0e0"/>
<ellipse cx="154" cy="236.5" rx="6" ry="6" fill="#22d4d8"/>
<ellipse cx="176.5" cy="236.5" rx="6" ry="6" fill="#22d4d8"/>
<ellipse cx="165" cy="233" rx="10" ry="8" fill="#22d4d8"/>
<ellipse cx="163.5" cy="244" rx="5" ry="4.5" fill="#22d4d8"/>
<ellipse cx="164.9" cy="220.5" rx="7.8" ry="6.6" fill="#22d4d8"/>
<ellipse cx="164.9" cy="226" rx="5.3" ry="4.6" fill="#e6e02a"/>
<ellipse cx="164.9" cy="222.5" rx="2" ry="1.2" fill="#f08a30"/>
<ellipse cx="155.2" cy="227.5" rx="4" ry="3" fill="#e6e02a"/>
<ellipse cx="175.8" cy="227.9" rx="4" ry="3" fill="#e6e02a"/>
<ellipse cx="169" cy="239.5" rx="4.5" ry="2.2" fill="#e6e02a"/>
<ellipse cx="164" cy="249.5" rx="2.8" ry="1.8" fill="#e6e02a"/>
<ellipse cx="158" cy="246" rx="2" ry="2" fill="#e6e02a"/>
<ellipse cx="145" cy="234" rx="1.9" ry="1.6" fill="#e6e02a"/>
<ellipse cx="148" cy="245" rx="1.9" ry="1.6" fill="#e6e02a"/>
<ellipse cx="184" cy="233" rx="1.9" ry="1.6" fill="#e6e02a"/>
<ellipse cx="186" cy="239.5" rx="1.9" ry="1.6" fill="#e6e02a"/>
<text transform="translate(220.80,194.40) scale(1.0,1.07)" font-size="21.5" text-anchor="start" font-weight="bold" fill="#000" >e</text>
<defs>
<radialGradient id="gO" cx="38%" cy="35%" r="65%"><stop offset="0" stop-color="#ff8080"/><stop offset="0.3" stop-color="#ea0808"/><stop offset="0.75" stop-color="#b00000"/><stop offset="1" stop-color="#500000"/></radialGradient>
<radialGradient id="gH" cx="38%" cy="35%" r="65%"><stop offset="0" stop-color="#ffffff"/><stop offset="0.4" stop-color="#e4ecec"/><stop offset="0.8" stop-color="#98a8a8"/><stop offset="1" stop-color="#3a4848"/></radialGradient>
<radialGradient id="gC" cx="55%" cy="45%" r="62%"><stop offset="0" stop-color="#f2f2f2"/><stop offset="0.35" stop-color="#b4b4b4"/><stop offset="0.8" stop-color="#6a6a6a"/><stop offset="1" stop-color="#2a2a2a"/></radialGradient>
<radialGradient id="gG" cx="40%" cy="38%" r="65%"><stop offset="0" stop-color="#e2e2e2"/><stop offset="0.5" stop-color="#a6a6a6"/><stop offset="1" stop-color="#5e5e5e"/></radialGradient>
<g id="w1"><circle cx="-3.2" cy="2.3" r="2.9" fill="url(#gH)"/><circle cx="3.2" cy="2.3" r="2.9" fill="url(#gH)"/><circle cx="0" cy="-0.7" r="4.2" fill="url(#gO)"/></g>
<g id="w2"><circle cx="0" cy="-0.7" r="4.2" fill="url(#gO)"/><circle cx="-3.2" cy="2.3" r="2.8" fill="url(#gH)"/><circle cx="3.2" cy="2.3" r="2.8" fill="url(#gH)"/></g>
<g id="w3"><circle cx="0" cy="-0.6" r="3.7" fill="url(#gO)"/><circle cx="-2.3" cy="2.3" r="2.4" fill="url(#gH2)"/><circle cx="2.3" cy="2.3" r="2.4" fill="url(#gH2)"/></g>
<g id="w4"><circle cx="-2.5" cy="2.4" r="2.5" fill="url(#gH2)"/><circle cx="2.5" cy="2.4" r="2.5" fill="url(#gH2)"/><circle cx="0" cy="-0.6" r="3.7" fill="url(#gO)"/></g>
<radialGradient id="gH2" cx="40%" cy="38%" r="65%"><stop offset="0" stop-color="#ffffff"/><stop offset="0.55" stop-color="#eef2f2"/><stop offset="0.9" stop-color="#b0bcbc"/><stop offset="1" stop-color="#6a7878"/></radialGradient>
<pattern id="pG" width="5.0" height="8.6" patternUnits="userSpaceOnUse"><rect width="5.0" height="8.6" fill="#6a6a6a"/><circle cx="2.5" cy="2.15" r="2.45" fill="url(#gG)"/><circle cx="0" cy="6.45" r="2.45" fill="url(#gG)"/><circle cx="5.0" cy="6.45" r="2.45" fill="url(#gG)"/></pattern>
<clipPath id="cE1"><rect x="265.6" y="186" width="181" height="168"/></clipPath>
<clipPath id="cE2"><rect x="481" y="184" width="202" height="170"/></clipPath>
</defs>
<rect x="253.50" y="190.00" width="9.50" height="163.00" fill="#555" />
<ellipse cx="259" cy="193.8" rx="5.2" ry="4.2" fill="url(#gC)"/>
<ellipse cx="259" cy="201.1" rx="5.2" ry="4.2" fill="url(#gC)"/>
<ellipse cx="259" cy="208.4" rx="5.2" ry="4.2" fill="url(#gC)"/>
<ellipse cx="259" cy="215.7" rx="5.2" ry="4.2" fill="url(#gC)"/>
<ellipse cx="259" cy="223.0" rx="5.2" ry="4.2" fill="url(#gC)"/>
<ellipse cx="259" cy="230.3" rx="5.2" ry="4.2" fill="url(#gC)"/>
<ellipse cx="259" cy="237.6" rx="5.2" ry="4.2" fill="url(#gC)"/>
<ellipse cx="259" cy="244.9" rx="5.2" ry="4.2" fill="url(#gC)"/>
<ellipse cx="259" cy="252.2" rx="5.2" ry="4.2" fill="url(#gC)"/>
<ellipse cx="259" cy="259.5" rx="5.2" ry="4.2" fill="url(#gC)"/>
<ellipse cx="259" cy="266.8" rx="5.2" ry="4.2" fill="url(#gC)"/>
<ellipse cx="259" cy="274.1" rx="5.2" ry="4.2" fill="url(#gC)"/>
<ellipse cx="259" cy="281.4" rx="5.2" ry="4.2" fill="url(#gC)"/>
<ellipse cx="259" cy="288.7" rx="5.2" ry="4.2" fill="url(#gC)"/>
<ellipse cx="259" cy="296.0" rx="5.2" ry="4.2" fill="url(#gC)"/>
<ellipse cx="259" cy="303.3" rx="5.2" ry="4.2" fill="url(#gC)"/>
<ellipse cx="259" cy="310.6" rx="5.2" ry="4.2" fill="url(#gC)"/>
<ellipse cx="259" cy="317.9" rx="5.2" ry="4.2" fill="url(#gC)"/>
<ellipse cx="259" cy="325.2" rx="5.2" ry="4.2" fill="url(#gC)"/>
<ellipse cx="259" cy="332.5" rx="5.2" ry="4.2" fill="url(#gC)"/>
<ellipse cx="259" cy="339.8" rx="5.2" ry="4.2" fill="url(#gC)"/>
<ellipse cx="259" cy="347.1" rx="5.2" ry="4.2" fill="url(#gC)"/>
<ellipse cx="259" cy="354.4" rx="5.2" ry="4.2" fill="url(#gC)"/>
<line x1="254.20" y1="190.00" x2="254.20" y2="353.00" stroke="#111" stroke-width="1.0" />
<g clip-path="url(#cE1)">
<rect x="265.50" y="190.00" width="178.50" height="160.00" fill="#6a2020" />
<use href="#w1" transform="translate(370.4,218.0) rotate(105)"/>
<use href="#w1" transform="translate(316.8,210.0) rotate(200)"/>
<use href="#w2" transform="translate(346.4,277.3) rotate(116)"/>
<use href="#w1" transform="translate(265.8,284.7) rotate(306)"/>
<use href="#w1" transform="translate(300.0,282.7) rotate(160)"/>
<use href="#w1" transform="translate(323.6,317.1) rotate(109)"/>
<use href="#w1" transform="translate(323.8,283.3) rotate(207)"/>
<use href="#w2" transform="translate(304.2,230.2) rotate(32)"/>
<use href="#w2" transform="translate(444.4,257.7) rotate(117)"/>
<use href="#w2" transform="translate(319.8,204.4) rotate(302)"/>
<use href="#w1" transform="translate(417.8,272.0) rotate(74)"/>
<use href="#w1" transform="translate(426.1,331.7) rotate(328)"/>
<use href="#w1" transform="translate(354.8,321.9) rotate(17)"/>
<use href="#w2" transform="translate(330.4,258.1) rotate(179)"/>
<use href="#w1" transform="translate(297.2,257.9) rotate(278)"/>
<use href="#w1" transform="translate(290.3,238.1) rotate(359)"/>
<use href="#w2" transform="translate(392.9,218.5) rotate(186)"/>
<use href="#w1" transform="translate(360.1,336.5) rotate(140)"/>
<use href="#w1" transform="translate(437.3,296.0) rotate(214)"/>
<use href="#w2" transform="translate(385.7,231.4) rotate(341)"/>
<use href="#w1" transform="translate(266.8,198.2) rotate(189)"/>
<use href="#w1" transform="translate(377.7,277.5) rotate(135)"/>
<use href="#w1" transform="translate(306.8,317.5) rotate(202)"/>
<use href="#w2" transform="translate(313.7,290.8) rotate(317)"/>
<use href="#w1" transform="translate(383.4,270.2) rotate(175)"/>
<use href="#w2" transform="translate(391.2,231.9) rotate(225)"/>
<use href="#w1" transform="translate(297.8,263.0) rotate(124)"/>
<use href="#w1" transform="translate(297.3,338.0) rotate(294)"/>
<use href="#w2" transform="translate(342.3,331.5) rotate(115)"/>
<use href="#w1" transform="translate(362.1,270.7) rotate(297)"/>
<use href="#w2" transform="translate(366.7,331.4) rotate(40)"/>
<use href="#w2" transform="translate(387.5,276.5) rotate(248)"/>
<use href="#w2" transform="translate(273.4,203.7) rotate(356)"/>
<use href="#w1" transform="translate(424.0,231.6) rotate(152)"/>
<use href="#w1" transform="translate(355.7,190.3) rotate(104)"/>
<use href="#w1" transform="translate(265.5,344.3) rotate(182)"/>
<use href="#w2" transform="translate(415.2,196.2) rotate(66)"/>
<use href="#w1" transform="translate(319.4,223.3) rotate(217)"/>
<use href="#w2" transform="translate(314.2,252.3) rotate(358)"/>
<use href="#w1" transform="translate(382.4,302.8) rotate(15)"/>
<use href="#w1" transform="translate(390.4,335.5) rotate(284)"/>
<use href="#w1" transform="translate(367.6,335.8) rotate(249)"/>
<use href="#w2" transform="translate(383.9,324.7) rotate(110)"/>
<use href="#w2" transform="translate(371.1,212.0) rotate(211)"/>
<use href="#w1" transform="translate(288.8,303.1) rotate(71)"/>
<use href="#w1" transform="translate(428.0,291.2) rotate(199)"/>
<use href="#w1" transform="translate(338.9,271.1) rotate(233)"/>
<use href="#w1" transform="translate(350.3,282.8) rotate(359)"/>
<use href="#w1" transform="translate(357.4,317.0) rotate(148)"/>
<use href="#w2" transform="translate(322.4,251.6) rotate(56)"/>
<use href="#w1" transform="translate(346.6,258.2) rotate(38)"/>
<use href="#w1" transform="translate(434.0,230.4) rotate(61)"/>
<use href="#w2" transform="translate(356.1,283.2) rotate(296)"/>
<use href="#w1" transform="translate(297.2,237.5) rotate(290)"/>
<use href="#w2" transform="translate(430.4,243.0) rotate(4)"/>
<use href="#w2" transform="translate(362.6,238.8) rotate(116)"/>
<use href="#w1" transform="translate(387.5,244.3) rotate(127)"/>
<use href="#w1" transform="translate(328.7,224.3) rotate(96)"/>
<use href="#w1" transform="translate(371.6,317.9) rotate(325)"/>
<use href="#w1" transform="translate(353.7,297.8) rotate(126)"/>
<use href="#w1" transform="translate(283.8,262.2) rotate(139)"/>
<use href="#w1" transform="translate(404.7,258.7) rotate(321)"/>
<use href="#w1" transform="translate(374.6,250.0) rotate(345)"/>
<use href="#w1" transform="translate(352.3,256.9) rotate(223)"/>
<use href="#w2" transform="translate(357.0,218.3) rotate(16)"/>
<use href="#w1" transform="translate(401.2,196.6) rotate(308)"/>
<use href="#w2" transform="translate(298.8,317.6) rotate(324)"/>
<use href="#w2" transform="translate(357.8,330.0) rotate(109)"/>
<use href="#w1" transform="translate(283.2,251.0) rotate(346)"/>
<use href="#w1" transform="translate(273.6,190.5) rotate(342)"/>
<use href="#w2" transform="translate(290.4,204.4) rotate(140)"/>
<use href="#w1" transform="translate(348.8,317.0) rotate(80)"/>
<use href="#w1" transform="translate(298.1,218.1) rotate(315)"/>
<use href="#w1" transform="translate(343.5,335.1) rotate(285)"/>
<use href="#w1" transform="translate(299.8,252.4) rotate(62)"/>
<use href="#w2" transform="translate(428.7,210.9) rotate(67)"/>
<use href="#w1" transform="translate(406.3,272.3) rotate(105)"/>
<use href="#w1" transform="translate(297.2,297.6) rotate(41)"/>
<use href="#w1" transform="translate(340.8,276.0) rotate(139)"/>
<use href="#w1" transform="translate(314.3,344.5) rotate(24)"/>
<use href="#w1" transform="translate(275.1,336.7) rotate(297)"/>
<use href="#w1" transform="translate(338.0,239.0) rotate(88)"/>
<use href="#w1" transform="translate(295.4,278.8) rotate(102)"/>
<use href="#w2" transform="translate(375.7,298.6) rotate(13)"/>
<use href="#w1" transform="translate(396.8,209.5) rotate(123)"/>
<use href="#w1" transform="translate(392.7,265.2) rotate(254)"/>
<use href="#w2" transform="translate(321.2,302.0) rotate(97)"/>
<use href="#w1" transform="translate(376.2,269.1) rotate(46)"/>
<use href="#w2" transform="translate(407.5,263.5) rotate(301)"/>
<use href="#w1" transform="translate(405.6,250.7) rotate(57)"/>
<use href="#w1" transform="translate(409.1,238.9) rotate(260)"/>
<use href="#w1" transform="translate(398.6,265.2) rotate(345)"/>
<use href="#w1" transform="translate(273.5,212.1) rotate(342)"/>
<use href="#w1" transform="translate(333.3,318.6) rotate(82)"/>
<use href="#w2" transform="translate(267.8,289.8) rotate(47)"/>
<use href="#w2" transform="translate(283.6,330.8) rotate(94)"/>
<use href="#w1" transform="translate(361.0,244.0) rotate(212)"/>
<use href="#w2" transform="translate(288.2,342.2) rotate(89)"/>
<use href="#w2" transform="translate(428.3,270.2) rotate(77)"/>
<use href="#w1" transform="translate(390.8,324.0) rotate(44)"/>
<use href="#w1" transform="translate(279.5,343.8) rotate(195)"/>
<use href="#w1" transform="translate(295.6,344.0) rotate(278)"/>
<use href="#w1" transform="translate(362.7,265.7) rotate(237)"/>
<use href="#w1" transform="translate(322.5,264.3) rotate(112)"/>
<use href="#w1" transform="translate(404.7,243.6) rotate(31)"/>
<use href="#w1" transform="translate(305.3,205.6) rotate(306)"/>
<use href="#w1" transform="translate(274.5,343.4) rotate(239)"/>
<use href="#w1" transform="translate(388.0,192.7) rotate(202)"/>
<use href="#w1" transform="translate(307.2,269.7) rotate(180)"/>
<use href="#w1" transform="translate(274.0,310.5) rotate(24)"/>
<use href="#w1" transform="translate(337.6,205.5) rotate(82)"/>
<use href="#w1" transform="translate(377.2,263.7) rotate(258)"/>
<use href="#w2" transform="translate(442.1,224.1) rotate(145)"/>
<use href="#w2" transform="translate(301.0,211.0) rotate(279)"/>
<use href="#w1" transform="translate(330.7,296.5) rotate(310)"/>
<use href="#w1" transform="translate(281.6,290.5) rotate(100)"/>
<use href="#w2" transform="translate(365.1,256.8) rotate(245)"/>
<use href="#w1" transform="translate(443.4,218.6) rotate(127)"/>
<use href="#w2" transform="translate(405.6,205.3) rotate(237)"/>
<use href="#w2" transform="translate(299.2,311.2) rotate(89)"/>
<use href="#w2" transform="translate(412.1,289.3) rotate(127)"/>
<use href="#w1" transform="translate(265.9,259.0) rotate(65)"/>
<use href="#w2" transform="translate(380.5,192.4) rotate(329)"/>
<use href="#w1" transform="translate(306.5,336.0) rotate(257)"/>
<use href="#w1" transform="translate(305.5,236.0) rotate(14)"/>
<use href="#w1" transform="translate(411.4,271.4) rotate(71)"/>
<use href="#w1" transform="translate(275.4,304.2) rotate(137)"/>
<use href="#w2" transform="translate(400.1,316.1) rotate(112)"/>
<use href="#w2" transform="translate(437.9,277.2) rotate(65)"/>
<use href="#w2" transform="translate(305.6,275.6) rotate(205)"/>
<use href="#w1" transform="translate(366.2,205.9) rotate(92)"/>
<use href="#w1" transform="translate(321.5,237.3) rotate(246)"/>
<use href="#w2" transform="translate(286.3,189.5) rotate(0)"/>
<use href="#w1" transform="translate(345.5,249.3) rotate(280)"/>
<use href="#w2" transform="translate(405.2,310.2) rotate(15)"/>
<use href="#w1" transform="translate(290.4,256.2) rotate(219)"/>
<use href="#w1" transform="translate(283.2,195.9) rotate(88)"/>
<use href="#w1" transform="translate(362.6,324.2) rotate(285)"/>
<use href="#w2" transform="translate(289.3,289.5) rotate(329)"/>
<use href="#w2" transform="translate(414.6,263.0) rotate(31)"/>
<use href="#w2" transform="translate(429.9,276.9) rotate(142)"/>
<use href="#w1" transform="translate(340.5,191.2) rotate(298)"/>
<use href="#w2" transform="translate(265.2,295.4) rotate(32)"/>
<use href="#w2" transform="translate(266.2,225.5) rotate(153)"/>
<use href="#w2" transform="translate(291.8,285.6) rotate(249)"/>
<use href="#w2" transform="translate(402.6,277.0) rotate(299)"/>
<use href="#w1" transform="translate(398.0,297.8) rotate(163)"/>
<use href="#w1" transform="translate(436.5,302.9) rotate(251)"/>
<use href="#w2" transform="translate(436.9,256.7) rotate(184)"/>
<use href="#w2" transform="translate(366.0,224.9) rotate(46)"/>
<use href="#w2" transform="translate(376.0,310.1) rotate(16)"/>
<use href="#w1" transform="translate(400.5,217.2) rotate(290)"/>
<use href="#w2" transform="translate(417.6,278.2) rotate(197)"/>
<use href="#w1" transform="translate(428.6,322.3) rotate(230)"/>
<use href="#w1" transform="translate(267.9,204.2) rotate(90)"/>
<use href="#w1" transform="translate(390.2,255.7) rotate(129)"/>
<use href="#w1" transform="translate(298.1,196.3) rotate(73)"/>
<use href="#w2" transform="translate(392.1,316.7) rotate(49)"/>
<use href="#w1" transform="translate(375.0,329.9) rotate(241)"/>
<use href="#w1" transform="translate(411.6,284.9) rotate(87)"/>
<use href="#w2" transform="translate(398.3,302.3) rotate(160)"/>
<use href="#w1" transform="translate(422.1,210.7) rotate(127)"/>
<use href="#w1" transform="translate(314.3,243.3) rotate(318)"/>
<use href="#w1" transform="translate(444.3,311.6) rotate(203)"/>
<use href="#w1" transform="translate(267.3,304.8) rotate(294)"/>
<use href="#w1" transform="translate(369.8,238.8) rotate(274)"/>
<use href="#w1" transform="translate(418.9,329.5) rotate(240)"/>
<use href="#w2" transform="translate(360.9,297.9) rotate(166)"/>
<use href="#w1" transform="translate(358.0,211.0) rotate(299)"/>
<use href="#w1" transform="translate(282.2,269.8) rotate(104)"/>
<use href="#w1" transform="translate(314.0,278.6) rotate(74)"/>
<use href="#w1" transform="translate(329.0,289.5) rotate(101)"/>
<use href="#w1" transform="translate(413.4,331.6) rotate(253)"/>
<use href="#w1" transform="translate(350.3,330.3) rotate(41)"/>
<use href="#w1" transform="translate(365.2,303.7) rotate(169)"/>
<use href="#w1" transform="translate(272.7,276.4) rotate(61)"/>
<use href="#w2" transform="translate(367.5,291.3) rotate(4)"/>
<use href="#w1" transform="translate(283.0,245.4) rotate(270)"/>
<use href="#w2" transform="translate(443.6,342.4) rotate(258)"/>
<use href="#w1" transform="translate(402.3,223.2) rotate(203)"/>
<use href="#w1" transform="translate(378.3,231.0) rotate(176)"/>
<use href="#w1" transform="translate(312.3,310.2) rotate(68)"/>
<use href="#w2" transform="translate(377.3,219.3) rotate(3)"/>
<use href="#w2" transform="translate(441.3,337.4) rotate(232)"/>
<use href="#w2" transform="translate(305.6,303.2) rotate(337)"/>
<use href="#w1" transform="translate(321.8,338.4) rotate(91)"/>
<use href="#w1" transform="translate(359.6,305.4) rotate(50)"/>
<use href="#w2" transform="translate(376.9,343.8) rotate(279)"/>
<use href="#w1" transform="translate(273.9,316.7) rotate(107)"/>
<use href="#w2" transform="translate(353.9,251.4) rotate(230)"/>
<use href="#w1" transform="translate(364.0,275.5) rotate(334)"/>
<use href="#w2" transform="translate(289.6,272.3) rotate(282)"/>
<use href="#w1" transform="translate(373.5,198.3) rotate(267)"/>
<use href="#w2" transform="translate(435.8,331.3) rotate(66)"/>
<use href="#w1" transform="translate(272.1,289.2) rotate(115)"/>
<use href="#w1" transform="translate(344.1,290.1) rotate(198)"/>
<use href="#w1" transform="translate(425.6,344.4) rotate(299)"/>
<use href="#w1" transform="translate(356.9,197.2) rotate(15)"/>
<use href="#w2" transform="translate(352.8,269.9) rotate(226)"/>
<use href="#w2" transform="translate(373.0,242.9) rotate(254)"/>
<use href="#w1" transform="translate(402.4,285.6) rotate(340)"/>
<use href="#w1" transform="translate(423.6,323.8) rotate(180)"/>
<use href="#w1" transform="translate(394.9,276.9) rotate(108)"/>
<use href="#w2" transform="translate(372.6,303.7) rotate(29)"/>
<use href="#w1" transform="translate(358.1,225.9) rotate(59)"/>
<use href="#w1" transform="translate(266.8,263.1) rotate(349)"/>
<use href="#w1" transform="translate(276.2,271.8) rotate(14)"/>
<use href="#w2" transform="translate(434.5,343.9) rotate(69)"/>
<use href="#w2" transform="translate(275.0,265.4) rotate(1)"/>
<use href="#w2" transform="translate(437.5,203.9) rotate(308)"/>
<use href="#w1" transform="translate(398.0,311.0) rotate(153)"/>
<use href="#w1" transform="translate(422.1,315.6) rotate(238)"/>
<use href="#w1" transform="translate(425.9,239.2) rotate(152)"/>
<use href="#w2" transform="translate(429.8,250.4) rotate(158)"/>
<use href="#w2" transform="translate(389.3,272.2) rotate(297)"/>
<use href="#w1" transform="translate(305.1,256.9) rotate(59)"/>
<use href="#w1" transform="translate(289.9,298.1) rotate(160)"/>
<use href="#w1" transform="translate(392.8,236.7) rotate(125)"/>
<use href="#w1" transform="translate(441.4,284.3) rotate(31)"/>
<use href="#w2" transform="translate(342.1,282.5) rotate(166)"/>
<use href="#w2" transform="translate(283.4,222.8) rotate(327)"/>
<use href="#w2" transform="translate(320.1,232.0) rotate(351)"/>
<use href="#w2" transform="translate(275.1,322.9) rotate(223)"/>
<use href="#w2" transform="translate(368.9,230.3) rotate(22)"/>
<use href="#w1" transform="translate(397.3,289.2) rotate(219)"/>
<use href="#w2" transform="translate(442.2,290.3) rotate(206)"/>
<use href="#w2" transform="translate(412.4,205.7) rotate(173)"/>
<use href="#w1" transform="translate(315.3,284.9) rotate(108)"/>
<use href="#w1" transform="translate(365.4,315.9) rotate(319)"/>
<use href="#w2" transform="translate(386.2,236.7) rotate(68)"/>
<use href="#w1" transform="translate(267.1,316.3) rotate(161)"/>
<use href="#w1" transform="translate(296.7,189.6) rotate(238)"/>
<use href="#w1" transform="translate(439.8,263.0) rotate(209)"/>
<use href="#w1" transform="translate(430.2,263.6) rotate(191)"/>
<use href="#w1" transform="translate(278.7,230.1) rotate(143)"/>
<use href="#w2" transform="translate(387.1,341.8) rotate(65)"/>
<use href="#w1" transform="translate(421.5,310.1) rotate(197)"/>
<use href="#w1" transform="translate(330.3,344.7) rotate(310)"/>
<use href="#w1" transform="translate(273.9,331.5) rotate(34)"/>
<use href="#w1" transform="translate(269.1,269.1) rotate(91)"/>
<use href="#w1" transform="translate(408.0,231.6) rotate(199)"/>
<use href="#w1" transform="translate(345.5,205.1) rotate(206)"/>
<use href="#w1" transform="translate(437.8,190.9) rotate(185)"/>
<use href="#w1" transform="translate(381.5,203.3) rotate(29)"/>
<use href="#w1" transform="translate(267.2,324.7) rotate(26)"/>
<use href="#w1" transform="translate(290.6,338.4) rotate(311)"/>
<use href="#w2" transform="translate(427.2,223.2) rotate(257)"/>
<use href="#w2" transform="translate(410.5,243.2) rotate(41)"/>
<use href="#w1" transform="translate(410.3,222.9) rotate(260)"/>
<use href="#w1" transform="translate(328.2,304.7) rotate(299)"/>
<use href="#w2" transform="translate(372.2,285.2) rotate(62)"/>
<use href="#w2" transform="translate(433.8,216.0) rotate(203)"/>
<use href="#w2" transform="translate(380.7,289.5) rotate(49)"/>
<use href="#w1" transform="translate(383.3,264.4) rotate(21)"/>
<use href="#w1" transform="translate(421.6,265.3) rotate(134)"/>
<use href="#w1" transform="translate(304.8,289.9) rotate(214)"/>
<use href="#w2" transform="translate(337.6,230.9) rotate(108)"/>
<use href="#w2" transform="translate(328.3,335.2) rotate(153)"/>
<use href="#w2" transform="translate(338.4,243.2) rotate(224)"/>
<use href="#w2" transform="translate(275.4,236.7) rotate(203)"/>
<use href="#w1" transform="translate(334.8,225.7) rotate(313)"/>
<use href="#w1" transform="translate(319.9,341.9) rotate(268)"/>
<use href="#w2" transform="translate(379.6,282.4) rotate(275)"/>
<use href="#w1" transform="translate(366.8,198.3) rotate(297)"/>
<use href="#w2" transform="translate(328.2,263.4) rotate(134)"/>
<use href="#w2" transform="translate(380.8,330.3) rotate(341)"/>
<use href="#w2" transform="translate(420.3,236.7) rotate(16)"/>
<use href="#w1" transform="translate(344.1,309.1) rotate(36)"/>
<use href="#w1" transform="translate(421.8,303.3) rotate(289)"/>
<use href="#w2" transform="translate(432.7,317.5) rotate(333)"/>
<use href="#w1" transform="translate(295.8,302.8) rotate(92)"/>
<use href="#w2" transform="translate(312.7,296.1) rotate(161)"/>
<use href="#w1" transform="translate(352.9,276.3) rotate(209)"/>
<use href="#w1" transform="translate(350.8,223.8) rotate(8)"/>
<use href="#w1" transform="translate(346.8,322.3) rotate(288)"/>
<use href="#w1" transform="translate(428.4,203.7) rotate(200)"/>
<use href="#w1" transform="translate(421.0,284.1) rotate(247)"/>
<use href="#w2" transform="translate(323.7,276.0) rotate(52)"/>
<use href="#w2" transform="translate(318.6,190.2) rotate(194)"/>
<use href="#w2" transform="translate(291.9,322.8) rotate(291)"/>
<use href="#w1" transform="translate(403.0,335.2) rotate(5)"/>
<use href="#w1" transform="translate(296.5,231.6) rotate(54)"/>
<use href="#w2" transform="translate(333.0,290.9) rotate(314)"/>
<use href="#w1" transform="translate(376.9,235.6) rotate(13)"/>
<use href="#w2" transform="translate(354.6,343.0) rotate(295)"/>
<use href="#w1" transform="translate(382.7,308.9) rotate(141)"/>
<use href="#w2" transform="translate(435.4,243.7) rotate(57)"/>
<use href="#w2" transform="translate(344.8,262.4) rotate(142)"/>
<use href="#w1" transform="translate(341.9,196.7) rotate(220)"/>
<use href="#w1" transform="translate(303.1,192.6) rotate(119)"/>
<use href="#w1" transform="translate(361.6,282.6) rotate(322)"/>
<use href="#w1" transform="translate(401.4,230.9) rotate(16)"/>
<use href="#w1" transform="translate(309.6,216.3) rotate(130)"/>
<use href="#w1" transform="translate(283.4,275.8) rotate(208)"/>
<use href="#w1" transform="translate(364.5,217.3) rotate(127)"/>
<use href="#w1" transform="translate(305.4,311.3) rotate(208)"/>
<use href="#w1" transform="translate(266.4,229.0) rotate(7)"/>
<use href="#w1" transform="translate(428.6,256.4) rotate(355)"/>
<use href="#w2" transform="translate(422.2,199.0) rotate(52)"/>
<use href="#w1" transform="translate(394.6,198.1) rotate(98)"/>
<use href="#w1" transform="translate(326.8,216.5) rotate(180)"/>
<use href="#w1" transform="translate(411.4,345.0) rotate(205)"/>
<use href="#w2" transform="translate(274.8,224.3) rotate(345)"/>
<use href="#w1" transform="translate(444.4,330.7) rotate(12)"/>
<use href="#w2" transform="translate(335.4,324.8) rotate(278)"/>
<use href="#w2" transform="translate(445.0,205.1) rotate(279)"/>
<use href="#w1" transform="translate(274.5,297.8) rotate(228)"/>
<use href="#w2" transform="translate(348.6,291.0) rotate(101)"/>
<use href="#w2" transform="translate(272.2,230.4) rotate(314)"/>
<use href="#w1" transform="translate(411.7,216.7) rotate(245)"/>
<use href="#w2" transform="translate(281.5,335.7) rotate(275)"/>
<use href="#w2" transform="translate(418.9,191.7) rotate(183)"/>
<use href="#w1" transform="translate(367.9,249.7) rotate(126)"/>
<use href="#w1" transform="translate(433.8,237.2) rotate(146)"/>
<use href="#w1" transform="translate(286.8,216.2) rotate(121)"/>
<use href="#w1" transform="translate(387.0,283.3) rotate(356)"/>
<use href="#w1" transform="translate(367.1,262.5) rotate(132)"/>
<use href="#w1" transform="translate(265.4,191.5) rotate(85)"/>
<use href="#w1" transform="translate(336.6,303.8) rotate(49)"/>
<use href="#w1" transform="translate(424.3,298.5) rotate(314)"/>
<use href="#w1" transform="translate(305.8,265.5) rotate(160)"/>
<use href="#w1" transform="translate(355.6,236.1) rotate(109)"/>
<use href="#w1" transform="translate(408.6,318.6) rotate(24)"/>
<use href="#w2" transform="translate(401.6,251.4) rotate(111)"/>
<use href="#w2" transform="translate(322.9,190.3) rotate(198)"/>
<use href="#w2" transform="translate(412.1,310.0) rotate(123)"/>
<use href="#w1" transform="translate(348.0,231.9) rotate(210)"/>
<use href="#w1" transform="translate(434.6,282.2) rotate(64)"/>
<use href="#w1" transform="translate(351.6,338.4) rotate(355)"/>
<use href="#w1" transform="translate(289.6,252.2) rotate(279)"/>
<use href="#w1" transform="translate(330.9,231.6) rotate(313)"/>
<use href="#w2" transform="translate(404.9,304.7) rotate(174)"/>
<use href="#w1" transform="translate(408.5,297.9) rotate(99)"/>
<use href="#w1" transform="translate(305.7,225.1) rotate(8)"/>
<use href="#w2" transform="translate(416.7,343.7) rotate(96)"/>
<use href="#w1" transform="translate(320.9,290.4) rotate(79)"/>
<use href="#w2" transform="translate(358.8,250.8) rotate(72)"/>
<use href="#w2" transform="translate(268.1,243.1) rotate(311)"/>
<use href="#w2" transform="translate(350.6,216.9) rotate(71)"/>
<use href="#w2" transform="translate(415.7,304.2) rotate(347)"/>
<use href="#w2" transform="translate(303.4,324.4) rotate(29)"/>
<use href="#w1" transform="translate(312.3,231.6) rotate(315)"/>
<use href="#w1" transform="translate(338.0,297.6) rotate(49)"/>
<use href="#w2" transform="translate(324.3,269.5) rotate(193)"/>
<use href="#w2" transform="translate(372.3,335.1) rotate(230)"/>
<use href="#w1" transform="translate(414.6,318.1) rotate(76)"/>
<use href="#w2" transform="translate(336.0,337.1) rotate(270)"/>
<use href="#w2" transform="translate(283.0,296.2) rotate(146)"/>
<use href="#w1" transform="translate(428.9,310.1) rotate(122)"/>
<use href="#w1" transform="translate(324.3,211.2) rotate(149)"/>
<use href="#w1" transform="translate(351.6,203.7) rotate(225)"/>
<use href="#w1" transform="translate(380.7,316.4) rotate(178)"/>
<use href="#w1" transform="translate(275.5,256.3) rotate(93)"/>
<use href="#w2" transform="translate(326.1,330.2) rotate(5)"/>
<use href="#w2" transform="translate(326.7,203.3) rotate(203)"/>
<use href="#w2" transform="translate(411.6,258.4) rotate(20)"/>
<use href="#w1" transform="translate(396.1,225.5) rotate(261)"/>
<use href="#w1" transform="translate(379.8,211.7) rotate(34)"/>
<use href="#w2" transform="translate(333.4,237.2) rotate(51)"/>
<use href="#w2" transform="translate(355.6,232.2) rotate(32)"/>
<use href="#w1" transform="translate(366.3,270.2) rotate(152)"/>
<use href="#w1" transform="translate(435.2,223.6) rotate(212)"/>
<use href="#w2" transform="translate(363.8,190.3) rotate(237)"/>
<use href="#w2" transform="translate(332.1,209.6) rotate(119)"/>
<use href="#w2" transform="translate(343.0,223.9) rotate(93)"/>
<use href="#w2" transform="translate(272.9,251.4) rotate(275)"/>
<use href="#w2" transform="translate(304.3,249.4) rotate(111)"/>
<use href="#w1" transform="translate(417.2,225.8) rotate(352)"/>
<use href="#w1" transform="translate(309.1,212.2) rotate(100)"/>
<use href="#w1" transform="translate(385.7,251.2) rotate(339)"/>
<use href="#w1" transform="translate(376.4,323.0) rotate(3)"/>
<use href="#w2" transform="translate(290.8,316.8) rotate(236)"/>
<use href="#w2" transform="translate(350.3,312.1) rotate(130)"/>
<use href="#w2" transform="translate(388.8,288.7) rotate(82)"/>
<use href="#w1" transform="translate(291.5,329.9) rotate(32)"/>
<use href="#w1" transform="translate(310.9,197.8) rotate(48)"/>
<use href="#w1" transform="translate(338.7,317.2) rotate(181)"/>
<use href="#w2" transform="translate(313.3,239.1) rotate(65)"/>
<use href="#w1" transform="translate(344.3,302.2) rotate(132)"/>
<use href="#w2" transform="translate(273.9,242.9) rotate(64)"/>
<use href="#w1" transform="translate(283.5,310.9) rotate(332)"/>
<use href="#w2" transform="translate(356.5,203.5) rotate(10)"/>
<use href="#w2" transform="translate(358.6,256.1) rotate(87)"/>
<use href="#w2" transform="translate(366.8,322.3) rotate(180)"/>
<use href="#w2" transform="translate(429.4,305.1) rotate(124)"/>
<use href="#w1" transform="translate(307.3,330.6) rotate(166)"/>
<use href="#w1" transform="translate(437.5,251.7) rotate(325)"/>
<use href="#w1" transform="translate(381.2,198.6) rotate(264)"/>
<use href="#w1" transform="translate(409.9,277.2) rotate(232)"/>
<use href="#w1" transform="translate(346.2,189.9) rotate(311)"/>
<use href="#w1" transform="translate(351.2,242.8) rotate(203)"/>
<use href="#w2" transform="translate(406.4,331.3) rotate(331)"/>
<use href="#w1" transform="translate(391.1,331.3) rotate(226)"/>
<use href="#w1" transform="translate(265.0,212.3) rotate(91)"/>
<use href="#w1" transform="translate(321.4,309.2) rotate(156)"/>
<use href="#w2" transform="translate(361.8,344.9) rotate(73)"/>
<use href="#w1" transform="translate(371.4,275.5) rotate(231)"/>
<use href="#w1" transform="translate(389.5,197.2) rotate(358)"/>
<use href="#w1" transform="translate(419.1,217.8) rotate(205)"/>
<use href="#w2" transform="translate(340.7,210.7) rotate(311)"/>
<use href="#w2" transform="translate(402.6,189.3) rotate(96)"/>
<use href="#w1" transform="translate(317.0,216.2) rotate(296)"/>
<use href="#w1" transform="translate(345.9,342.8) rotate(119)"/>
<use href="#w1" transform="translate(318.7,256.9) rotate(321)"/>
<use href="#w1" transform="translate(310.2,192.7) rotate(246)"/>
<use href="#w1" transform="translate(330.4,311.6) rotate(163)"/>
<use href="#w1" transform="translate(284.3,210.4) rotate(318)"/>
<use href="#w1" transform="translate(313.7,223.0) rotate(318)"/>
<use href="#w2" transform="translate(289.4,309.1) rotate(281)"/>
<use href="#w2" transform="translate(387.2,211.0) rotate(66)"/>
<use href="#w1" transform="translate(327.7,243.3) rotate(358)"/>
<use href="#w1" transform="translate(373.4,259.0) rotate(9)"/>
<use href="#w1" transform="translate(306.3,243.9) rotate(351)"/>
<use href="#w1" transform="translate(388.1,203.2) rotate(328)"/>
<use href="#w1" transform="translate(368.1,245.8) rotate(265)"/>
<use href="#w2" transform="translate(316.0,316.9) rotate(61)"/>
<use href="#w1" transform="translate(298.9,244.8) rotate(32)"/>
<use href="#w2" transform="translate(280.7,235.8) rotate(331)"/>
<use href="#w2" transform="translate(339.5,256.7) rotate(318)"/>
<use href="#w1" transform="translate(311.0,203.8) rotate(12)"/>
<use href="#w2" transform="translate(332.5,285.2) rotate(285)"/>
<use href="#w1" transform="translate(382.5,295.7) rotate(14)"/>
<use href="#w1" transform="translate(392.7,249.7) rotate(83)"/>
<use href="#w1" transform="translate(442.7,271.1) rotate(38)"/>
<use href="#w1" transform="translate(435.7,269.3) rotate(357)"/>
<use href="#w1" transform="translate(413.3,338.1) rotate(316)"/>
<use href="#w1" transform="translate(380.9,338.5) rotate(175)"/>
<use href="#w1" transform="translate(427.6,283.6) rotate(154)"/>
<use href="#w1" transform="translate(333.6,217.5) rotate(247)"/>
<use href="#w1" transform="translate(280.2,189.3) rotate(266)"/>
<use href="#w1" transform="translate(368.4,296.0) rotate(40)"/>
<use href="#w2" transform="translate(442.4,231.7) rotate(179)"/>
<use href="#w1" transform="translate(290.3,209.1) rotate(126)"/>
<use href="#w2" transform="translate(295.9,202.6) rotate(348)"/>
<use href="#w1" transform="translate(303.9,199.0) rotate(263)"/>
<use href="#w1" transform="translate(381.3,258.5) rotate(64)"/>
<use href="#w1" transform="translate(392.4,295.8) rotate(25)"/>
<use href="#w1" transform="translate(307.7,285.5) rotate(183)"/>
<use href="#w1" transform="translate(305.9,298.4) rotate(200)"/>
<use href="#w2" transform="translate(395.4,344.8) rotate(4)"/>
<use href="#w1" transform="translate(314.0,264.8) rotate(235)"/>
<use href="#w2" transform="translate(313.9,303.7) rotate(198)"/>
<use href="#w2" transform="translate(387.2,222.9) rotate(354)"/>
<use href="#w1" transform="translate(276.2,196.9) rotate(258)"/>
<use href="#w1" transform="translate(335.4,309.4) rotate(115)"/>
<use href="#w1" transform="translate(267.0,330.4) rotate(350)"/>
<use href="#w1" transform="translate(300.3,270.1) rotate(139)"/>
<use href="#w2" transform="translate(321.0,198.9) rotate(51)"/>
<use href="#w2" transform="translate(400.1,238.3) rotate(2)"/>
<use href="#w1" transform="translate(281.8,324.8) rotate(333)"/>
<use href="#w1" transform="translate(318.7,329.6) rotate(220)"/>
<use href="#w1" transform="translate(402.8,210.1) rotate(87)"/>
<use href="#w2" transform="translate(424.4,215.9) rotate(42)"/>
<use href="#w2" transform="translate(417.6,288.8) rotate(282)"/>
<use href="#w2" transform="translate(297.5,223.1) rotate(18)"/>
<use href="#w2" transform="translate(414.7,324.5) rotate(117)"/>
<use href="#w1" transform="translate(350.7,210.6) rotate(198)"/>
<use href="#w1" transform="translate(388.9,308.7) rotate(350)"/>
<use href="#w2" transform="translate(425.2,249.7) rotate(269)"/>
<use href="#w1" transform="translate(268.6,218.9) rotate(184)"/>
<use href="#w1" transform="translate(380.6,242.6) rotate(358)"/>
<use href="#w2" transform="translate(289.3,265.6) rotate(227)"/>
<use href="#w2" transform="translate(395.4,284.1) rotate(136)"/>
<use href="#w1" transform="translate(419.4,337.3) rotate(142)"/>
<use href="#w2" transform="translate(337.3,345.2) rotate(221)"/>
<use href="#w2" transform="translate(291.1,222.7) rotate(116)"/>
<use href="#w1" transform="translate(343.9,269.9) rotate(196)"/>
<use href="#w1" transform="translate(265.8,236.1) rotate(221)"/>
<use href="#w1" transform="translate(378.4,222.6) rotate(327)"/>
<use href="#w1" transform="translate(438.9,196.3) rotate(260)"/>
<use href="#w1" transform="translate(398.5,325.0) rotate(172)"/>
<use href="#w2" transform="translate(374.7,206.0) rotate(51)"/>
<use href="#w1" transform="translate(311.6,322.9) rotate(190)"/>
<use href="#w2" transform="translate(398.0,243.7) rotate(190)"/>
<use href="#w1" transform="translate(275.8,282.2) rotate(86)"/>
<use href="#w1" transform="translate(290.7,278.9) rotate(296)"/>
<use href="#w2" transform="translate(436.0,311.7) rotate(231)"/>
<use href="#w2" transform="translate(337.4,196.4) rotate(322)"/>
<use href="#w1" transform="translate(384.9,316.6) rotate(16)"/>
<use href="#w2" transform="translate(439.6,316.0) rotate(300)"/>
<use href="#w1" transform="translate(366.2,312.1) rotate(44)"/>
<use href="#w1" transform="translate(397.7,258.8) rotate(91)"/>
<use href="#w2" transform="translate(282.5,256.6) rotate(128)"/>
<use href="#w1" transform="translate(357.7,291.0) rotate(188)"/>
<use href="#w1" transform="translate(284.6,317.4) rotate(32)"/>
<use href="#w2" transform="translate(290.3,245.5) rotate(359)"/>
<use href="#w1" transform="translate(317.4,269.1) rotate(162)"/>
<use href="#w2" transform="translate(395.4,191.9) rotate(287)"/>
<use href="#w2" transform="translate(289.1,196.3) rotate(54)"/>
<use href="#w1" transform="translate(373.2,190.1) rotate(132)"/>
<use href="#w1" transform="translate(409.2,196.0) rotate(86)"/>
<use href="#w1" transform="translate(303.9,343.1) rotate(122)"/>
<use href="#w1" transform="translate(436.7,211.0) rotate(6)"/>
<use href="#w1" transform="translate(344.1,216.3) rotate(205)"/>
<use href="#w2" transform="translate(346.4,236.1) rotate(64)"/>
<use href="#w1" transform="translate(411.8,191.3) rotate(99)"/>
<use href="#w2" transform="translate(358.4,312.0) rotate(87)"/>
<use href="#w2" transform="translate(372.6,223.6) rotate(33)"/>
<use href="#w1" transform="translate(421.2,204.2) rotate(309)"/>
<use href="#w2" transform="translate(299.3,330.7) rotate(152)"/>
<use href="#w1" transform="translate(330.0,276.8) rotate(222)"/>
<use href="#w1" transform="translate(266.6,311.7) rotate(16)"/>
<use href="#w2" transform="translate(266.6,276.7) rotate(132)"/>
<use href="#w1" transform="translate(414.9,296.6) rotate(106)"/>
<use href="#w2" transform="translate(415.2,249.8) rotate(233)"/>
<use href="#w1" transform="translate(407.6,322.5) rotate(127)"/>
<use href="#w2" transform="translate(283.3,203.0) rotate(208)"/>
<use href="#w2" transform="translate(267.7,337.5) rotate(69)"/>
<use href="#w1" transform="translate(287.9,230.9) rotate(256)"/>
<use href="#w1" transform="translate(280.0,302.3) rotate(240)"/>
<use href="#w2" transform="translate(320.0,324.1) rotate(25)"/>
<use href="#w1" transform="translate(352.6,263.3) rotate(137)"/>
<use href="#w2" transform="translate(337.1,252.2) rotate(179)"/>
<use href="#w1" transform="translate(333.2,331.0) rotate(273)"/>
<use href="#w1" transform="translate(269.2,252.0) rotate(213)"/>
<use href="#w2" transform="translate(350.9,196.8) rotate(166)"/>
<use href="#w1" transform="translate(292.3,216.0) rotate(149)"/>
<use href="#w1" transform="translate(427.9,190.8) rotate(321)"/>
<use href="#w1" transform="translate(330.1,269.5) rotate(177)"/>
<use href="#w2" transform="translate(297.0,288.7) rotate(297)"/>
<use href="#w1" transform="translate(326.8,197.1) rotate(267)"/>
<use href="#w2" transform="translate(423.2,277.1) rotate(15)"/>
<use href="#w2" transform="translate(415.2,229.9) rotate(199)"/>
<use href="#w1" transform="translate(364.1,210.7) rotate(277)"/>
<use href="#w1" transform="translate(327.9,325.1) rotate(79)"/>
<use href="#w1" transform="translate(323.5,298.0) rotate(294)"/>
<use href="#w2" transform="translate(389.0,216.1) rotate(32)"/>
<use href="#w1" transform="translate(345.4,298.8) rotate(203)"/>
<use href="#w2" transform="translate(397.2,329.5) rotate(245)"/>
<use href="#w1" transform="translate(430.7,196.7) rotate(174)"/>
<use href="#w1" transform="translate(418.7,255.6) rotate(249)"/>
<use href="#w2" transform="translate(364.2,229.8) rotate(210)"/>
<use href="#w2" transform="translate(396.5,335.9) rotate(294)"/>
<use href="#w1" transform="translate(389.3,302.7) rotate(52)"/>
<use href="#w1" transform="translate(403.2,290.5) rotate(187)"/>
<use href="#w1" transform="translate(434.9,291.3) rotate(356)"/>
<use href="#w1" transform="translate(397.6,270.0) rotate(94)"/>
<use href="#w2" transform="translate(440.0,236.0) rotate(92)"/>
<use href="#w1" transform="translate(275.9,217.7) rotate(200)"/>
<use href="#w1" transform="translate(344.1,244.2) rotate(151)"/>
<use href="#w2" transform="translate(329.8,249.0) rotate(110)"/>
<use href="#w2" transform="translate(322.1,242.7) rotate(289)"/>
<use href="#w1" transform="translate(419.6,244.1) rotate(93)"/>
<use href="#w1" transform="translate(313.3,336.2) rotate(19)"/>
<use href="#w1" transform="translate(435.7,323.5) rotate(135)"/>
<use href="#w1" transform="translate(283.1,285.4) rotate(176)"/>
<use href="#w2" transform="translate(438.1,337.6) rotate(132)"/>
<use href="#w2" transform="translate(335.8,262.8) rotate(72)"/>
<use href="#w1" transform="translate(429.0,338.4) rotate(200)"/>
<use href="#w1" transform="translate(350.3,301.9) rotate(113)"/>
<use href="#w1" transform="translate(315.2,256.0) rotate(147)"/>
<use href="#w1" transform="translate(398.7,205.5) rotate(116)"/>
<use href="#w1" transform="translate(374.6,288.8) rotate(287)"/>
<use href="#w2" transform="translate(369.1,341.7) rotate(256)"/>
<use href="#w1" transform="translate(412.2,211.1) rotate(213)"/>
<use href="#w1" transform="translate(401.4,344.8) rotate(337)"/>
<use href="#w1" transform="translate(297.2,323.3) rotate(316)"/>
<use href="#w2" transform="translate(431.2,298.6) rotate(156)"/>
<use href="#w2" transform="translate(331.7,191.3) rotate(18)"/>
</g>
<g clip-path="url(#cE2)">
<rect x="485.00" y="191.00" width="194.00" height="158.00" fill="url(#pG)" />
<use href="#w4" transform="translate(488.7,189.7) rotate(132)"/>
<use href="#w3" transform="translate(504.0,192.2) rotate(40)"/>
<use href="#w3" transform="translate(517.7,191.7) rotate(287)"/>
<use href="#w4" transform="translate(527.5,192.4) rotate(137)"/>
<use href="#w3" transform="translate(542.4,189.8) rotate(81)"/>
<use href="#w3" transform="translate(549.4,192.1) rotate(79)"/>
<use href="#w4" transform="translate(566.5,191.6) rotate(132)"/>
<use href="#w4" transform="translate(580.9,191.7) rotate(170)"/>
<use href="#w4" transform="translate(588.0,191.8) rotate(18)"/>
<use href="#w3" transform="translate(602.7,190.2) rotate(301)"/>
<use href="#w3" transform="translate(613.2,190.3) rotate(11)"/>
<use href="#w3" transform="translate(624.6,192.6) rotate(42)"/>
<use href="#w3" transform="translate(640.3,189.6) rotate(256)"/>
<use href="#w3" transform="translate(655.8,190.6) rotate(42)"/>
<use href="#w3" transform="translate(663.5,191.6) rotate(63)"/>
<use href="#w3" transform="translate(676.1,189.4) rotate(158)"/>
<use href="#w3" transform="translate(495.3,200.3) rotate(24)"/>
<use href="#w4" transform="translate(508.5,198.1) rotate(169)"/>
<use href="#w3" transform="translate(524.8,201.4) rotate(200)"/>
<use href="#w4" transform="translate(534.6,199.0) rotate(80)"/>
<use href="#w4" transform="translate(550.1,201.3) rotate(203)"/>
<use href="#w4" transform="translate(561.1,201.1) rotate(346)"/>
<use href="#w4" transform="translate(575.1,198.0) rotate(40)"/>
<use href="#w3" transform="translate(585.1,201.2) rotate(189)"/>
<use href="#w4" transform="translate(599.9,201.3) rotate(61)"/>
<use href="#w3" transform="translate(612.5,201.5) rotate(76)"/>
<use href="#w4" transform="translate(626.6,200.2) rotate(96)"/>
<use href="#w4" transform="translate(634.3,199.4) rotate(166)"/>
<use href="#w3" transform="translate(648.2,198.3) rotate(27)"/>
<use href="#w3" transform="translate(660.7,197.9) rotate(114)"/>
<use href="#w3" transform="translate(673.2,199.8) rotate(239)"/>
<use href="#w4" transform="translate(489.6,206.3) rotate(43)"/>
<use href="#w3" transform="translate(501.0,208.8) rotate(173)"/>
<use href="#w4" transform="translate(514.7,207.6) rotate(4)"/>
<use href="#w3" transform="translate(527.7,206.9) rotate(185)"/>
<use href="#w4" transform="translate(540.5,207.5) rotate(169)"/>
<use href="#w3" transform="translate(555.2,208.1) rotate(193)"/>
<use href="#w4" transform="translate(562.6,209.7) rotate(180)"/>
<use href="#w3" transform="translate(575.8,208.3) rotate(234)"/>
<use href="#w4" transform="translate(586.9,206.9) rotate(289)"/>
<use href="#w4" transform="translate(600.4,207.7) rotate(267)"/>
<use href="#w4" transform="translate(611.5,207.0) rotate(132)"/>
<use href="#w3" transform="translate(621.9,209.7) rotate(65)"/>
<use href="#w4" transform="translate(638.4,206.3) rotate(215)"/>
<use href="#w3" transform="translate(651.9,209.4) rotate(30)"/>
<use href="#w3" transform="translate(666.5,207.1) rotate(13)"/>
<use href="#w3" transform="translate(492.8,214.9) rotate(51)"/>
<use href="#w4" transform="translate(506.7,216.0) rotate(270)"/>
<use href="#w3" transform="translate(519.8,217.1) rotate(338)"/>
<use href="#w3" transform="translate(534.1,217.9) rotate(244)"/>
<use href="#w3" transform="translate(545.8,215.8) rotate(341)"/>
<use href="#w4" transform="translate(564.1,215.0) rotate(172)"/>
<use href="#w3" transform="translate(576.5,218.1) rotate(341)"/>
<use href="#w4" transform="translate(589.4,216.6) rotate(357)"/>
<use href="#w4" transform="translate(600.9,218.6) rotate(78)"/>
<use href="#w4" transform="translate(615.6,215.2) rotate(73)"/>
<use href="#w3" transform="translate(629.1,217.5) rotate(164)"/>
<use href="#w3" transform="translate(638.5,215.4) rotate(346)"/>
<use href="#w3" transform="translate(649.5,216.1) rotate(147)"/>
<use href="#w3" transform="translate(669.1,218.0) rotate(241)"/>
<use href="#w3" transform="translate(679.6,217.9) rotate(135)"/>
<use href="#w3" transform="translate(490.9,224.2) rotate(298)"/>
<use href="#w3" transform="translate(505.8,226.5) rotate(219)"/>
<use href="#w4" transform="translate(516.3,224.8) rotate(163)"/>
<use href="#w3" transform="translate(528.9,226.1) rotate(256)"/>
<use href="#w3" transform="translate(539.3,226.7) rotate(87)"/>
<use href="#w3" transform="translate(558.6,226.4) rotate(346)"/>
<use href="#w4" transform="translate(573.1,225.8) rotate(49)"/>
<use href="#w4" transform="translate(586.0,226.5) rotate(209)"/>
<use href="#w3" transform="translate(598.6,227.2) rotate(20)"/>
<use href="#w4" transform="translate(615.2,223.9) rotate(60)"/>
<use href="#w3" transform="translate(630.0,224.4) rotate(163)"/>
<use href="#w4" transform="translate(642.2,224.2) rotate(320)"/>
<use href="#w4" transform="translate(655.2,225.4) rotate(310)"/>
<use href="#w4" transform="translate(672.8,226.2) rotate(97)"/>
<use href="#w3" transform="translate(497.3,234.7) rotate(147)"/>
<use href="#w3" transform="translate(513.0,233.6) rotate(329)"/>
<use href="#w3" transform="translate(523.2,235.3) rotate(6)"/>
<use href="#w4" transform="translate(535.2,235.3) rotate(104)"/>
<use href="#w3" transform="translate(547.0,234.0) rotate(313)"/>
<use href="#w4" transform="translate(558.2,235.2) rotate(191)"/>
<use href="#w4" transform="translate(573.4,233.8) rotate(291)"/>
<use href="#w3" transform="translate(583.8,233.4) rotate(185)"/>
<use href="#w4" transform="translate(600.9,233.2) rotate(88)"/>
<use href="#w4" transform="translate(610.2,234.8) rotate(211)"/>
<use href="#w4" transform="translate(625.0,235.2) rotate(324)"/>
<use href="#w3" transform="translate(636.3,232.2) rotate(69)"/>
<use href="#w4" transform="translate(648.7,233.1) rotate(323)"/>
<use href="#w4" transform="translate(665.2,232.9) rotate(65)"/>
<use href="#w3" transform="translate(491.8,242.2) rotate(92)"/>
<use href="#w4" transform="translate(505.3,242.6) rotate(132)"/>
<use href="#w3" transform="translate(517.3,243.9) rotate(244)"/>
<use href="#w4" transform="translate(530.4,240.6) rotate(267)"/>
<use href="#w4" transform="translate(543.9,242.4) rotate(170)"/>
<use href="#w3" transform="translate(555.3,242.0) rotate(288)"/>
<use href="#w4" transform="translate(567.9,244.0) rotate(171)"/>
<use href="#w4" transform="translate(580.3,244.3) rotate(255)"/>
<use href="#w4" transform="translate(597.0,240.9) rotate(65)"/>
<use href="#w3" transform="translate(609.8,244.4) rotate(283)"/>
<use href="#w4" transform="translate(623.3,243.1) rotate(155)"/>
<use href="#w3" transform="translate(635.2,243.3) rotate(75)"/>
<use href="#w4" transform="translate(650.4,242.1) rotate(346)"/>
<use href="#w4" transform="translate(663.9,243.9) rotate(84)"/>
<use href="#w4" transform="translate(494.9,252.2) rotate(129)"/>
<use href="#w3" transform="translate(511.6,252.2) rotate(276)"/>
<use href="#w3" transform="translate(520.3,249.7) rotate(80)"/>
<use href="#w3" transform="translate(538.7,249.8) rotate(96)"/>
<use href="#w3" transform="translate(550.8,249.4) rotate(49)"/>
<use href="#w3" transform="translate(564.3,251.8) rotate(151)"/>
<use href="#w4" transform="translate(576.4,250.4) rotate(210)"/>
<use href="#w3" transform="translate(588.1,253.1) rotate(208)"/>
<use href="#w3" transform="translate(604.1,251.9) rotate(254)"/>
<use href="#w3" transform="translate(617.4,252.0) rotate(63)"/>
<use href="#w4" transform="translate(628.2,249.8) rotate(6)"/>
<use href="#w3" transform="translate(644.5,252.4) rotate(58)"/>
<use href="#w4" transform="translate(653.5,251.3) rotate(346)"/>
<use href="#w4" transform="translate(668.8,252.2) rotate(301)"/>
<use href="#w4" transform="translate(486.7,259.0) rotate(228)"/>
<use href="#w3" transform="translate(503.9,261.6) rotate(348)"/>
<use href="#w3" transform="translate(512.1,261.6) rotate(276)"/>
<use href="#w4" transform="translate(523.8,259.6) rotate(92)"/>
<use href="#w4" transform="translate(534.6,259.4) rotate(216)"/>
<use href="#w4" transform="translate(550.7,258.9) rotate(315)"/>
<use href="#w3" transform="translate(562.1,259.6) rotate(71)"/>
<use href="#w4" transform="translate(575.7,260.9) rotate(193)"/>
<use href="#w3" transform="translate(585.5,260.8) rotate(98)"/>
<use href="#w3" transform="translate(600.6,260.5) rotate(2)"/>
<use href="#w3" transform="translate(613.7,259.3) rotate(251)"/>
<use href="#w3" transform="translate(630.4,259.0) rotate(83)"/>
<use href="#w4" transform="translate(642.9,260.9) rotate(256)"/>
<use href="#w3" transform="translate(656.5,260.1) rotate(7)"/>
<use href="#w4" transform="translate(669.5,258.9) rotate(336)"/>
<use href="#w3" transform="translate(677.0,260.0) rotate(54)"/>
<use href="#w3" transform="translate(495.1,269.6) rotate(188)"/>
<use href="#w3" transform="translate(505.7,269.0) rotate(150)"/>
<use href="#w3" transform="translate(523.0,269.2) rotate(93)"/>
<use href="#w3" transform="translate(536.5,270.2) rotate(30)"/>
<use href="#w4" transform="translate(550.7,268.0) rotate(33)"/>
<use href="#w3" transform="translate(565.5,267.1) rotate(251)"/>
<use href="#w4" transform="translate(581.6,268.5) rotate(285)"/>
<use href="#w3" transform="translate(597.6,266.9) rotate(123)"/>
<use href="#w4" transform="translate(605.7,268.1) rotate(68)"/>
<use href="#w3" transform="translate(622.9,269.1) rotate(202)"/>
<use href="#w4" transform="translate(634.2,268.7) rotate(55)"/>
<use href="#w4" transform="translate(648.5,269.6) rotate(139)"/>
<use href="#w4" transform="translate(660.0,269.1) rotate(83)"/>
<use href="#w3" transform="translate(676.3,270.0) rotate(289)"/>
<use href="#w3" transform="translate(491.8,277.6) rotate(211)"/>
<use href="#w4" transform="translate(503.6,277.8) rotate(255)"/>
<use href="#w3" transform="translate(520.3,276.1) rotate(285)"/>
<use href="#w4" transform="translate(531.1,278.3) rotate(34)"/>
<use href="#w3" transform="translate(541.2,275.9) rotate(203)"/>
<use href="#w4" transform="translate(554.6,278.9) rotate(69)"/>
<use href="#w4" transform="translate(567.8,277.8) rotate(39)"/>
<use href="#w3" transform="translate(581.1,276.3) rotate(87)"/>
<use href="#w4" transform="translate(590.6,275.6) rotate(152)"/>
<use href="#w3" transform="translate(599.8,276.8) rotate(261)"/>
<use href="#w3" transform="translate(617.0,275.2) rotate(261)"/>
<use href="#w4" transform="translate(628.5,275.9) rotate(105)"/>
<use href="#w4" transform="translate(643.5,276.3) rotate(249)"/>
<use href="#w3" transform="translate(656.5,278.2) rotate(325)"/>
<use href="#w4" transform="translate(671.2,278.2) rotate(112)"/>
<use href="#w3" transform="translate(495.0,283.7) rotate(94)"/>
<use href="#w4" transform="translate(506.4,283.9) rotate(81)"/>
<use href="#w4" transform="translate(521.8,285.9) rotate(298)"/>
<use href="#w4" transform="translate(533.4,286.0) rotate(345)"/>
<use href="#w3" transform="translate(547.0,287.6) rotate(111)"/>
<use href="#w3" transform="translate(562.2,284.9) rotate(260)"/>
<use href="#w3" transform="translate(573.6,285.5) rotate(219)"/>
<use href="#w4" transform="translate(586.7,286.3) rotate(18)"/>
<use href="#w4" transform="translate(601.0,285.0) rotate(54)"/>
<use href="#w3" transform="translate(612.3,284.7) rotate(316)"/>
<use href="#w3" transform="translate(625.6,285.7) rotate(71)"/>
<use href="#w4" transform="translate(635.8,286.4) rotate(182)"/>
<use href="#w4" transform="translate(647.7,285.8) rotate(131)"/>
<use href="#w4" transform="translate(665.5,286.6) rotate(191)"/>
<use href="#w3" transform="translate(680.8,286.5) rotate(38)"/>
<use href="#w3" transform="translate(486.7,292.3) rotate(139)"/>
<use href="#w4" transform="translate(504.4,294.7) rotate(91)"/>
<use href="#w3" transform="translate(514.5,292.9) rotate(80)"/>
<use href="#w4" transform="translate(531.6,293.4) rotate(172)"/>
<use href="#w3" transform="translate(538.3,293.6) rotate(277)"/>
<use href="#w4" transform="translate(556.8,294.0) rotate(161)"/>
<use href="#w4" transform="translate(564.4,292.8) rotate(336)"/>
<use href="#w3" transform="translate(580.9,296.2) rotate(38)"/>
<use href="#w3" transform="translate(597.9,294.1) rotate(229)"/>
<use href="#w4" transform="translate(609.4,292.6) rotate(13)"/>
<use href="#w3" transform="translate(624.9,293.0) rotate(327)"/>
<use href="#w4" transform="translate(634.3,295.8) rotate(168)"/>
<use href="#w3" transform="translate(653.3,296.1) rotate(108)"/>
<use href="#w4" transform="translate(665.1,293.7) rotate(270)"/>
<use href="#w3" transform="translate(680.5,292.7) rotate(157)"/>
<use href="#w3" transform="translate(494.6,302.3) rotate(142)"/>
<use href="#w3" transform="translate(506.4,303.9) rotate(347)"/>
<use href="#w4" transform="translate(515.5,304.4) rotate(104)"/>
<use href="#w3" transform="translate(529.0,302.1) rotate(49)"/>
<use href="#w3" transform="translate(546.9,302.7) rotate(25)"/>
<use href="#w4" transform="translate(557.5,301.8) rotate(191)"/>
<use href="#w3" transform="translate(573.7,301.2) rotate(61)"/>
<use href="#w3" transform="translate(586.1,301.6) rotate(275)"/>
<use href="#w3" transform="translate(601.4,303.3) rotate(122)"/>
<use href="#w4" transform="translate(614.9,301.1) rotate(87)"/>
<use href="#w3" transform="translate(627.4,302.7) rotate(42)"/>
<use href="#w4" transform="translate(643.1,303.7) rotate(267)"/>
<use href="#w3" transform="translate(654.9,303.6) rotate(326)"/>
<use href="#w4" transform="translate(665.4,304.4) rotate(344)"/>
<use href="#w3" transform="translate(486.9,313.3) rotate(104)"/>
<use href="#w4" transform="translate(499.4,312.6) rotate(258)"/>
<use href="#w3" transform="translate(515.5,312.4) rotate(47)"/>
<use href="#w3" transform="translate(523.6,313.3) rotate(345)"/>
<use href="#w3" transform="translate(538.1,309.6) rotate(293)"/>
<use href="#w3" transform="translate(554.4,310.3) rotate(89)"/>
<use href="#w4" transform="translate(568.5,312.0) rotate(169)"/>
<use href="#w4" transform="translate(580.6,310.0) rotate(53)"/>
<use href="#w3" transform="translate(593.7,309.8) rotate(116)"/>
<use href="#w3" transform="translate(609.2,310.1) rotate(268)"/>
<use href="#w3" transform="translate(621.3,311.4) rotate(68)"/>
<use href="#w4" transform="translate(635.5,313.0) rotate(296)"/>
<use href="#w3" transform="translate(647.0,312.8) rotate(207)"/>
<use href="#w4" transform="translate(664.6,311.4) rotate(275)"/>
<use href="#w4" transform="translate(677.3,312.6) rotate(324)"/>
<use href="#w4" transform="translate(493.9,319.2) rotate(118)"/>
<use href="#w3" transform="translate(503.9,321.0) rotate(295)"/>
<use href="#w3" transform="translate(518.7,321.2) rotate(132)"/>
<use href="#w3" transform="translate(528.1,320.6) rotate(127)"/>
<use href="#w3" transform="translate(541.3,318.4) rotate(40)"/>
<use href="#w3" transform="translate(557.6,319.4) rotate(327)"/>
<use href="#w4" transform="translate(569.6,321.4) rotate(229)"/>
<use href="#w3" transform="translate(581.5,319.5) rotate(272)"/>
<use href="#w4" transform="translate(596.9,318.6) rotate(331)"/>
<use href="#w4" transform="translate(611.8,321.1) rotate(357)"/>
<use href="#w4" transform="translate(617.8,318.5) rotate(272)"/>
<use href="#w4" transform="translate(634.7,320.1) rotate(91)"/>
<use href="#w4" transform="translate(646.7,320.4) rotate(137)"/>
<use href="#w4" transform="translate(663.2,320.9) rotate(48)"/>
<use href="#w4" transform="translate(678.0,321.3) rotate(121)"/>
<use href="#w4" transform="translate(489.0,330.0) rotate(124)"/>
<use href="#w4" transform="translate(502.8,327.3) rotate(305)"/>
<use href="#w4" transform="translate(516.2,329.4) rotate(50)"/>
<use href="#w4" transform="translate(527.4,328.0) rotate(268)"/>
<use href="#w3" transform="translate(538.6,328.4) rotate(235)"/>
<use href="#w4" transform="translate(557.1,330.3) rotate(313)"/>
<use href="#w3" transform="translate(572.6,330.6) rotate(164)"/>
<use href="#w4" transform="translate(584.4,327.6) rotate(282)"/>
<use href="#w3" transform="translate(595.8,327.5) rotate(313)"/>
<use href="#w3" transform="translate(615.6,327.9) rotate(123)"/>
<use href="#w3" transform="translate(629.5,330.2) rotate(36)"/>
<use href="#w4" transform="translate(643.0,327.0) rotate(9)"/>
<use href="#w3" transform="translate(656.8,329.1) rotate(82)"/>
<use href="#w4" transform="translate(670.5,330.5) rotate(24)"/>
<use href="#w3" transform="translate(495.8,337.4) rotate(71)"/>
<use href="#w4" transform="translate(510.1,338.9) rotate(145)"/>
<use href="#w3" transform="translate(527.1,335.6) rotate(343)"/>
<use href="#w4" transform="translate(535.4,338.8) rotate(228)"/>
<use href="#w4" transform="translate(545.9,338.1) rotate(169)"/>
<use href="#w3" transform="translate(561.3,337.0) rotate(264)"/>
<use href="#w4" transform="translate(578.0,338.2) rotate(315)"/>
<use href="#w4" transform="translate(590.4,336.2) rotate(38)"/>
<use href="#w4" transform="translate(603.3,336.0) rotate(299)"/>
<use href="#w3" transform="translate(616.6,337.8) rotate(174)"/>
<use href="#w4" transform="translate(628.7,337.6) rotate(317)"/>
<use href="#w3" transform="translate(641.2,335.5) rotate(75)"/>
<use href="#w4" transform="translate(650.7,336.6) rotate(131)"/>
<use href="#w3" transform="translate(662.5,337.2) rotate(251)"/>
<use href="#w3" transform="translate(488.9,346.9) rotate(329)"/>
<use href="#w3" transform="translate(499.6,345.0) rotate(213)"/>
<use href="#w3" transform="translate(515.2,345.6) rotate(258)"/>
<use href="#w4" transform="translate(526.7,347.5) rotate(33)"/>
<use href="#w4" transform="translate(542.7,343.9) rotate(295)"/>
<use href="#w3" transform="translate(554.6,347.2) rotate(128)"/>
<use href="#w4" transform="translate(571.6,344.9) rotate(268)"/>
<use href="#w4" transform="translate(579.9,347.4) rotate(79)"/>
<use href="#w3" transform="translate(593.6,346.1) rotate(357)"/>
<use href="#w4" transform="translate(605.2,344.4) rotate(137)"/>
<use href="#w3" transform="translate(620.3,345.3) rotate(335)"/>
<use href="#w3" transform="translate(632.3,344.7) rotate(109)"/>
<use href="#w3" transform="translate(640.4,347.2) rotate(264)"/>
<use href="#w4" transform="translate(656.4,345.3) rotate(197)"/>
<use href="#w3" transform="translate(666.6,347.0) rotate(241)"/>
</g>
<rect x="400.00" y="194.00" width="32.90" height="26.70" fill="#d6d6d6" />
<text transform="translate(416.40,212.30) scale(1.0,1.07)" font-size="13" text-anchor="middle" font-weight="bold" fill="#000" >(i)</text>
<rect x="352.00" y="320.00" width="83.20" height="26.60" fill="#cfe3b8" />
<text transform="translate(393.60,337.80) scale(1.0,1.07)" font-size="13.5" text-anchor="middle" font-weight="bold" fill="#000" >Side view</text>
<rect x="636.30" y="193.50" width="35.30" height="26.80" fill="#d6d6d6" />
<text transform="translate(654.00,212.00) scale(1.0,1.07)" font-size="13" text-anchor="middle" font-weight="bold" fill="#000" >(ii)</text>
<rect x="589.30" y="320.00" width="78.90" height="25.60" fill="#cfe3b8" />
<text transform="translate(628.70,337.50) scale(1.0,1.07)" font-size="13.5" text-anchor="middle" font-weight="bold" fill="#000" >Top view</text>
<text transform="translate(19.80,372.00) scale(1.0,1.07)" font-size="20.5" text-anchor="start" font-weight="bold" fill="#000" >f</text>
<rect x="36.80" y="378.10" width="160.80" height="182.20" fill="none" stroke="#111" stroke-width="1.25"/>
<defs><clipPath id="cf"><rect x="37.3" y="377.3" width="159.8" height="183"/></clipPath><clipPath id="ch"><rect x="251.3" y="377.4" width="208.8" height="182.7"/></clipPath></defs>
<g clip-path="url(#cf)">
<polyline points="36.80,378.76 37.69,392.81 38.59,388.74 39.48,388.47 40.37,395.02 41.27,401.52 42.16,400.43 43.05,405.82 43.95,406.30 44.84,412.60 45.73,412.53 46.63,414.18 47.52,419.88 48.41,421.12 49.31,424.29 50.20,417.55 51.09,423.69 51.99,427.28 52.88,426.95 53.77,423.63 54.67,424.06 55.56,433.76 56.45,432.76 57.35,429.48 58.24,433.30 59.13,435.96 60.03,428.46 60.92,435.93 61.81,433.06 62.71,431.36 63.60,436.09 64.49,431.08 65.39,431.86 66.28,435.24 67.17,435.55 68.07,436.01 68.96,432.91 69.85,433.15 70.75,434.42 71.64,438.17 72.53,437.91 73.43,435.80 74.32,435.49 75.21,433.77 76.11,433.08 77.00,434.15 77.89,434.83 78.79,439.78 79.68,437.79 80.57,437.47 81.47,441.13 82.36,437.74 83.25,438.67 84.15,438.73 85.04,434.31 85.93,437.96 86.83,439.88 87.72,437.06 88.61,438.01 89.51,439.89 90.40,438.99 91.29,437.59 92.19,442.17 93.08,441.97 93.97,439.70 94.87,439.43 95.76,442.04 96.65,434.65 97.55,442.12 98.44,435.91 99.33,436.08 100.23,432.46 101.12,440.94 102.01,437.73 102.91,439.10 103.80,439.93 104.69,441.41 105.59,439.29 106.48,435.80 107.37,441.86 108.27,447.03 109.16,443.02 110.05,440.71 110.95,441.69 111.84,444.10 112.73,439.63 113.63,439.84 114.52,439.86 115.41,439.29 116.31,440.87 117.20,442.53 118.09,441.22 118.99,440.06 119.88,442.14 120.77,442.72 121.67,439.50 122.56,438.21 123.45,441.21 124.35,438.51 125.24,444.47 126.13,445.00 127.03,440.83 127.92,440.77 128.81,443.47 129.71,443.80 130.60,443.37 131.49,438.79 132.39,446.22 133.28,441.13 134.17,446.07 135.07,441.00 135.96,444.15 136.85,444.87 137.75,439.96 138.64,448.15 139.53,445.59 140.43,439.71 141.32,435.46 142.21,442.67 143.11,442.68 144.00,444.46 144.89,444.96 145.79,445.29 146.68,443.98 147.57,439.94 148.47,442.91 149.36,443.63 150.25,442.35 151.15,452.43 152.04,443.02 152.93,443.07 153.83,441.76 154.72,443.20 155.61,444.77 156.51,440.74 157.40,441.44 158.29,444.14 159.19,444.67 160.08,435.33 160.97,446.06 161.87,441.75 162.76,446.94 163.65,447.96 164.55,439.90 165.44,443.31 166.33,444.66 167.23,440.42 168.12,443.62 169.01,444.93 169.91,445.21 170.80,440.85 171.69,442.96 172.59,443.06 173.48,443.97 174.37,444.36 175.27,447.40 176.16,443.17 177.05,442.53 177.95,442.65 178.84,441.20 179.73,441.37 180.63,444.98 181.52,442.43 182.41,444.77 183.31,439.92 184.20,444.69 185.09,442.42 185.99,446.05 186.88,442.82 187.77,447.45 188.67,448.40 189.56,443.14 190.45,442.26 191.35,441.16 192.24,443.60 193.13,443.15 194.03,444.55 194.92,442.07 195.81,445.55 196.71,445.14 197.60,437.94" fill="none" stroke="#96dabb" stroke-width="2.5" stroke-linejoin="round" />
<polyline points="36.80,385.25 37.69,388.10 38.59,388.16 39.48,388.87 40.37,387.98 41.27,390.04 42.16,390.74 43.05,391.88 43.95,392.54 44.84,394.46 45.73,392.96 46.63,397.24 47.52,396.14 48.41,395.85 49.31,396.72 50.20,394.63 51.09,396.91 51.99,398.85 52.88,397.66 53.77,397.91 54.67,398.64 55.56,398.79 56.45,398.96 57.35,397.91 58.24,399.20 59.13,398.98 60.03,399.77 60.92,398.57 61.81,400.09 62.71,400.05 63.60,399.38 64.49,399.32 65.39,399.67 66.28,402.12 67.17,402.98 68.07,398.71 68.96,403.50 69.85,402.97 70.75,403.99 71.64,402.32 72.53,402.89 73.43,405.70 74.32,402.06 75.21,404.12 76.11,402.49 77.00,402.89 77.89,404.19 78.79,403.28 79.68,405.54 80.57,404.85 81.47,405.32 82.36,405.19 83.25,404.96 84.15,405.60 85.04,406.52 85.93,405.52 86.83,406.90 87.72,405.81 88.61,407.90 89.51,408.50 90.40,404.91 91.29,409.09 92.19,406.97 93.08,406.27 93.97,407.53 94.87,408.08 95.76,408.90 96.65,409.09 97.55,410.17 98.44,408.90 99.33,408.92 100.23,411.41 101.12,412.52 102.01,406.98 102.91,410.81 103.80,412.04 104.69,412.26 105.59,410.47 106.48,410.18 107.37,412.91 108.27,412.52 109.16,411.78 110.05,413.21 110.95,412.58 111.84,412.75 112.73,412.65 113.63,412.59 114.52,413.83 115.41,414.91 116.31,415.99 117.20,414.85 118.09,416.13 118.99,415.76 119.88,415.79 120.77,415.92 121.67,415.06 122.56,415.99 123.45,416.51 124.35,415.09 125.24,417.08 126.13,415.41 127.03,417.68 127.92,417.49 128.81,419.31 129.71,418.32 130.60,419.65 131.49,417.33 132.39,418.87 133.28,417.77 134.17,418.98 135.07,420.85 135.96,422.52 136.85,420.31 137.75,421.04 138.64,421.13 139.53,420.52 140.43,420.97 141.32,421.61 142.21,421.19 143.11,422.51 144.00,422.97 144.89,422.74 145.79,421.27 146.68,421.96 147.57,423.26 148.47,422.64 149.36,422.62 150.25,424.69 151.15,421.69 152.04,424.37 152.93,425.40 153.83,424.34 154.72,424.44 155.61,423.43 156.51,423.70 157.40,425.78 158.29,426.13 159.19,426.11 160.08,426.34 160.97,427.28 161.87,426.56 162.76,425.30 163.65,425.88 164.55,427.45 165.44,428.69 166.33,426.83 167.23,426.44 168.12,429.55 169.01,427.65 169.91,426.54 170.80,427.46 171.69,428.19 172.59,429.18 173.48,430.00 174.37,429.21 175.27,428.44 176.16,429.21 177.05,429.32 177.95,430.57 178.84,430.92 179.73,429.44 180.63,431.17 181.52,430.58 182.41,432.41 183.31,433.35 184.20,432.34 185.09,432.53 185.99,436.40 186.88,434.38 187.77,433.35 188.67,434.34 189.56,435.67 190.45,434.72 191.35,434.45 192.24,433.78 193.13,437.60 194.03,435.86 194.92,436.89 195.81,434.07 196.71,436.34 197.60,438.27" fill="none" stroke="#8ea0da" stroke-width="2.5" stroke-linejoin="round" />
<polyline points="36.80,380.04 37.69,380.54 38.59,381.04 39.48,381.44 40.37,383.35 41.27,384.51 42.16,383.08 43.05,383.72 43.95,384.35 44.84,386.10 45.73,383.72 46.63,384.08 47.52,383.60 48.41,384.75 49.31,385.66 50.20,386.74 51.09,386.36 51.99,387.25 52.88,386.73 53.77,387.64 54.67,385.88 55.56,387.46 56.45,387.09 57.35,387.81 58.24,388.41 59.13,390.50 60.03,389.02 60.92,389.41 61.81,388.06 62.71,390.86 63.60,389.15 64.49,389.59 65.39,390.69 66.28,391.07 67.17,390.34 68.07,391.40 68.96,389.43 69.85,394.96 70.75,393.70 71.64,390.87 72.53,392.90 73.43,395.87 74.32,396.53 75.21,395.94 76.11,396.40 77.00,397.20 77.89,396.11 78.79,396.09 79.68,397.38 80.57,396.55 81.47,397.23 82.36,396.04 83.25,398.67 84.15,397.58 85.04,397.60 85.93,397.15 86.83,399.59 87.72,398.58 88.61,400.24 89.51,398.31 90.40,398.84 91.29,398.40 92.19,400.21 93.08,398.33 93.97,400.99 94.87,402.54 95.76,401.81 96.65,401.34 97.55,400.35 98.44,402.38 99.33,402.70 100.23,401.69 101.12,404.00 102.01,401.88 102.91,402.61 103.80,404.55 104.69,403.76 105.59,404.70 106.48,405.20 107.37,404.18 108.27,405.11 109.16,404.05 110.05,405.24 110.95,407.34 111.84,405.62 112.73,405.33 113.63,406.03 114.52,408.19 115.41,407.60 116.31,408.56 117.20,407.75 118.09,408.53 118.99,407.02 119.88,407.87 120.77,405.78 121.67,408.23 122.56,410.67 123.45,409.58 124.35,407.67 125.24,410.28 126.13,410.01 127.03,409.42 127.92,409.16 128.81,409.72 129.71,411.33 130.60,412.80 131.49,412.44 132.39,411.52 133.28,414.19 134.17,412.64 135.07,411.40 135.96,414.69 136.85,412.91 137.75,414.88 138.64,415.15 139.53,414.18 140.43,414.25 141.32,415.36 142.21,415.07 143.11,415.12 144.00,414.28 144.89,417.48 145.79,417.83 146.68,415.23 147.57,416.51 148.47,418.44 149.36,417.35 150.25,416.57 151.15,419.03 152.04,418.56 152.93,418.29 153.83,420.24 154.72,421.01 155.61,419.22 156.51,420.37 157.40,420.41 158.29,421.71 159.19,420.47 160.08,420.36 160.97,421.60 161.87,421.87 162.76,423.18 163.65,423.12 164.55,424.11 165.44,422.91 166.33,423.05 167.23,424.20 168.12,425.11 169.01,424.24 169.91,423.60 170.80,423.09 171.69,426.72 172.59,424.94 173.48,423.91 174.37,426.48 175.27,426.31 176.16,425.20 177.05,426.18 177.95,427.58 178.84,428.10 179.73,427.68 180.63,427.35 181.52,427.28 182.41,426.77 183.31,428.78 184.20,427.55 185.09,427.82 185.99,428.77 186.88,427.84 187.77,428.91 188.67,428.52 189.56,429.86 190.45,430.32 191.35,430.16 192.24,427.90 193.13,429.52 194.03,429.85 194.92,431.17 195.81,430.35 196.71,431.98 197.60,430.57" fill="none" stroke="#d9b07c" stroke-width="2.5" stroke-linejoin="round" />
<polyline points="36.80,378.12 37.69,378.72 38.59,377.94 39.48,379.65 40.37,379.79 41.27,378.19 42.16,379.93 43.05,380.35 43.95,378.19 44.84,378.84 45.73,379.11 46.63,379.67 47.52,380.81 48.41,379.58 49.31,380.14 50.20,380.88 51.09,380.26 51.99,380.15 52.88,380.69 53.77,380.11 54.67,380.51 55.56,382.12 56.45,380.83 57.35,381.76 58.24,380.19 59.13,384.27 60.03,382.11 60.92,381.47 61.81,381.19 62.71,383.16 63.60,382.39 64.49,382.17 65.39,383.19 66.28,382.24 67.17,383.60 68.07,383.79 68.96,382.21 69.85,384.12 70.75,383.87 71.64,381.77 72.53,382.72 73.43,384.32 74.32,383.83 75.21,384.92 76.11,385.38 77.00,384.97 77.89,384.02 78.79,384.41 79.68,385.71 80.57,387.15 81.47,384.17 82.36,386.03 83.25,384.87 84.15,385.01 85.04,384.71 85.93,386.49 86.83,386.98 87.72,386.82 88.61,386.03 89.51,386.29 90.40,387.65 91.29,386.38 92.19,387.72 93.08,387.11 93.97,387.45 94.87,386.93 95.76,385.23 96.65,388.21 97.55,389.03 98.44,388.95 99.33,388.04 100.23,388.01 101.12,387.80 102.01,389.33 102.91,389.72 103.80,388.82 104.69,387.58 105.59,388.20 106.48,388.21 107.37,388.78 108.27,388.48 109.16,390.02 110.05,388.65 110.95,389.15 111.84,389.21 112.73,390.49 113.63,390.59 114.52,390.90 115.41,389.26 116.31,391.89 117.20,391.18 118.09,390.73 118.99,392.26 119.88,391.06 120.77,390.40 121.67,390.94 122.56,392.67 123.45,391.76 124.35,392.78 125.24,394.34 126.13,391.43 127.03,391.75 127.92,393.66 128.81,391.62 129.71,391.97 130.60,390.80 131.49,392.58 132.39,391.71 133.28,393.55 134.17,393.62 135.07,391.82 135.96,392.95 136.85,392.31 137.75,394.14 138.64,394.14 139.53,393.50 140.43,395.01 141.32,393.86 142.21,395.88 143.11,396.58 144.00,395.31 144.89,394.51 145.79,393.35 146.68,395.46 147.57,395.31 148.47,395.80 149.36,395.47 150.25,394.75 151.15,395.48 152.04,395.78 152.93,395.94 153.83,396.64 154.72,395.87 155.61,394.99 156.51,397.81 157.40,395.11 158.29,399.14 159.19,398.78 160.08,396.81 160.97,397.95 161.87,395.64 162.76,397.27 163.65,399.33 164.55,398.04 165.44,397.84 166.33,397.34 167.23,399.03 168.12,400.02 169.01,399.95 169.91,398.04 170.80,397.95 171.69,400.72 172.59,398.91 173.48,399.96 174.37,399.33 175.27,398.89 176.16,399.91 177.05,399.87 177.95,401.65 178.84,400.02 179.73,398.74 180.63,400.77 181.52,399.97 182.41,400.01 183.31,398.37 184.20,401.43 185.09,400.00 185.99,401.12 186.88,401.02 187.77,401.10 188.67,402.75 189.56,400.74 190.45,402.06 191.35,401.36 192.24,400.86 193.13,401.94 194.03,403.22 194.92,402.93 195.81,401.50 196.71,401.07 197.60,400.65" fill="none" stroke="#b9e07c" stroke-width="2.5" stroke-linejoin="round" />
<polyline points="36.80,379.17 37.69,377.97 38.59,378.08 39.48,378.87 40.37,378.49 41.27,379.24 42.16,378.31 43.05,378.90 43.95,378.80 44.84,377.37 45.73,379.59 46.63,378.67 47.52,379.39 48.41,379.19 49.31,379.00 50.20,378.99 51.09,378.86 51.99,379.80 52.88,378.63 53.77,380.26 54.67,380.34 55.56,380.14 56.45,378.32 57.35,378.38 58.24,380.03 59.13,377.87 60.03,379.37 60.92,381.08 61.81,379.41 62.71,380.76 63.60,380.96 64.49,381.98 65.39,379.89 66.28,379.71 67.17,381.09 68.07,379.65 68.96,379.90 69.85,379.83 70.75,379.80 71.64,381.14 72.53,380.19 73.43,380.12 74.32,381.17 75.21,380.99 76.11,381.89 77.00,380.66 77.89,381.91 78.79,380.59 79.68,380.98 80.57,381.29 81.47,380.67 82.36,381.56 83.25,379.87 84.15,381.08 85.04,382.56 85.93,382.09 86.83,381.37 87.72,380.21 88.61,382.35 89.51,380.55 90.40,381.84 91.29,380.90 92.19,382.68 93.08,382.94 93.97,382.64 94.87,382.35 95.76,383.34 96.65,383.64 97.55,381.97 98.44,381.76 99.33,382.82 100.23,383.28 101.12,381.96 102.01,384.57 102.91,382.44 103.80,382.95 104.69,382.65 105.59,382.97 106.48,382.50 107.37,382.94 108.27,383.56 109.16,382.87 110.05,384.57 110.95,383.58 111.84,383.52 112.73,385.36 113.63,383.54 114.52,383.68 115.41,383.37 116.31,384.22 117.20,383.24 118.09,383.53 118.99,383.92 119.88,387.53 120.77,384.58 121.67,384.49 122.56,384.76 123.45,385.82 124.35,384.13 125.24,385.42 126.13,385.25 127.03,384.87 127.92,384.24 128.81,385.70 129.71,386.32 130.60,385.11 131.49,385.32 132.39,387.29 133.28,386.20 134.17,385.60 135.07,387.34 135.96,384.73 136.85,386.97 137.75,385.17 138.64,386.91 139.53,386.39 140.43,386.68 141.32,386.44 142.21,387.89 143.11,386.88 144.00,385.53 144.89,385.93 145.79,384.56 146.68,388.17 147.57,385.24 148.47,386.46 149.36,387.80 150.25,387.97 151.15,387.20 152.04,386.69 152.93,387.29 153.83,385.53 154.72,387.03 155.61,387.61 156.51,387.89 157.40,388.15 158.29,387.27 159.19,387.38 160.08,388.03 160.97,387.04 161.87,388.06 162.76,387.92 163.65,386.56 164.55,386.57 165.44,387.98 166.33,386.09 167.23,388.11 168.12,386.70 169.01,387.66 169.91,388.30 170.80,387.98 171.69,388.33 172.59,387.86 173.48,388.18 174.37,388.30 175.27,389.07 176.16,387.87 177.05,387.49 177.95,389.32 178.84,388.44 179.73,387.69 180.63,387.77 181.52,389.33 182.41,386.38 183.31,389.42 184.20,388.10 185.09,388.48 185.99,386.49 186.88,389.49 187.77,387.79 188.67,388.58 189.56,389.88 190.45,389.12 191.35,389.93 192.24,389.04 193.13,389.13 194.03,391.12 194.92,388.83 195.81,389.18 196.71,388.58 197.60,389.52" fill="none" stroke="#f6b384" stroke-width="2.5" stroke-linejoin="round" />
<polyline points="36.80,378.98 37.69,377.40 38.59,377.13 39.48,380.57 40.37,377.16 41.27,377.74 42.16,378.92 43.05,379.55 43.95,378.98 44.84,377.45 45.73,378.42 46.63,377.92 47.52,379.25 48.41,380.31 49.31,379.78 50.20,376.66 51.09,378.05 51.99,378.35 52.88,378.53 53.77,379.22 54.67,379.44 55.56,379.69 56.45,378.95 57.35,379.60 58.24,379.43 59.13,379.07 60.03,378.94 60.92,379.22 61.81,379.45 62.71,379.29 63.60,378.56 64.49,378.53 65.39,378.38 66.28,380.69 67.17,379.61 68.07,379.97 68.96,378.05 69.85,378.47 70.75,379.73 71.64,378.16 72.53,378.85 73.43,381.66 74.32,379.68 75.21,380.21 76.11,380.97 77.00,379.10 77.89,380.05 78.79,382.25 79.68,381.73 80.57,381.10 81.47,379.67 82.36,380.53 83.25,379.96 84.15,381.39 85.04,379.73 85.93,381.48 86.83,380.43 87.72,381.61 88.61,381.74 89.51,381.03 90.40,382.71 91.29,381.48 92.19,381.07 93.08,382.95 93.97,381.79 94.87,381.97 95.76,382.87 96.65,383.85 97.55,380.73 98.44,382.46 99.33,379.01 100.23,379.51 101.12,384.24 102.01,381.43 102.91,382.57 103.80,381.74 104.69,383.77 105.59,381.37 106.48,378.87 107.37,383.75 108.27,384.21 109.16,383.08 110.05,382.88 110.95,382.34 111.84,383.35 112.73,382.98 113.63,381.44 114.52,382.59 115.41,381.92 116.31,383.23 117.20,383.65 118.09,383.50 118.99,383.72 119.88,384.91 120.77,383.16 121.67,383.58 122.56,383.81 123.45,382.56 124.35,381.03 125.24,384.57 126.13,383.01 127.03,384.98 127.92,382.65 128.81,384.00 129.71,385.54 130.60,385.16 131.49,383.23 132.39,384.80 133.28,384.21 134.17,381.50 135.07,385.12 135.96,383.70 136.85,387.71 137.75,386.42 138.64,383.98 139.53,384.37 140.43,382.73 141.32,385.14 142.21,387.14 143.11,383.54 144.00,386.66 144.89,384.98 145.79,382.90 146.68,385.79 147.57,384.76 148.47,386.28 149.36,383.56 150.25,383.89 151.15,386.86 152.04,385.47 152.93,385.78 153.83,384.45 154.72,384.11 155.61,385.10 156.51,384.42 157.40,384.92 158.29,385.10 159.19,385.69 160.08,386.34 160.97,385.06 161.87,386.47 162.76,385.18 163.65,386.52 164.55,385.93 165.44,384.77 166.33,384.74 167.23,385.87 168.12,386.13 169.01,385.93 169.91,385.41 170.80,386.96 171.69,383.42 172.59,386.23 173.48,386.18 174.37,385.51 175.27,385.89 176.16,386.36 177.05,386.84 177.95,387.92 178.84,387.40 179.73,386.64 180.63,387.33 181.52,383.90 182.41,389.06 183.31,384.44 184.20,386.43 185.09,387.28 185.99,386.82 186.88,387.19 187.77,387.53 188.67,389.03 189.56,387.61 190.45,388.49 191.35,387.00 192.24,387.87 193.13,388.17 194.03,387.60 194.92,388.01 195.81,387.06 196.71,387.90 197.60,388.95" fill="none" stroke="#e46fc6" stroke-width="2.5" stroke-linejoin="round" />
</g>
<line x1="33.80" y1="560.30" x2="36.80" y2="560.30" stroke="#000" stroke-width="1" />
<text transform="translate(31.10,563.20) scale(1.0,1.07)" font-size="9.4" text-anchor="end" font-weight="bold" fill="#000" >0</text>
<line x1="33.80" y1="523.86" x2="36.80" y2="523.86" stroke="#000" stroke-width="1" />
<text transform="translate(31.10,526.76) scale(1.0,1.07)" font-size="9.4" text-anchor="end" font-weight="bold" fill="#000" >20</text>
<line x1="33.80" y1="487.42" x2="36.80" y2="487.42" stroke="#000" stroke-width="1" />
<text transform="translate(31.10,490.32) scale(1.0,1.07)" font-size="9.4" text-anchor="end" font-weight="bold" fill="#000" >40</text>
<line x1="33.80" y1="450.98" x2="36.80" y2="450.98" stroke="#000" stroke-width="1" />
<text transform="translate(31.10,453.88) scale(1.0,1.07)" font-size="9.4" text-anchor="end" font-weight="bold" fill="#000" >60</text>
<line x1="33.80" y1="414.54" x2="36.80" y2="414.54" stroke="#000" stroke-width="1" />
<text transform="translate(31.10,417.44) scale(1.0,1.07)" font-size="9.4" text-anchor="end" font-weight="bold" fill="#000" >80</text>
<line x1="33.80" y1="378.10" x2="36.80" y2="378.10" stroke="#000" stroke-width="1" />
<text transform="translate(31.10,381.00) scale(1.0,1.07)" font-size="9.4" text-anchor="end" font-weight="bold" fill="#000" >100</text>
<line x1="34.80" y1="542.08" x2="36.80" y2="542.08" stroke="#000" stroke-width="1" />
<line x1="34.80" y1="505.64" x2="36.80" y2="505.64" stroke="#000" stroke-width="1" />
<line x1="34.80" y1="469.20" x2="36.80" y2="469.20" stroke="#000" stroke-width="1" />
<line x1="34.80" y1="432.76" x2="36.80" y2="432.76" stroke="#000" stroke-width="1" />
<line x1="34.80" y1="396.32" x2="36.80" y2="396.32" stroke="#000" stroke-width="1" />
<line x1="36.80" y1="560.30" x2="36.80" y2="563.50" stroke="#000" stroke-width="1" />
<text transform="translate(36.80,572.80) scale(1.0,1.07)" font-size="9.4" text-anchor="middle" font-weight="bold" fill="#000" >0</text>
<line x1="63.60" y1="560.30" x2="63.60" y2="563.50" stroke="#000" stroke-width="1" />
<text transform="translate(63.60,572.80) scale(1.0,1.07)" font-size="9.4" text-anchor="middle" font-weight="bold" fill="#000" >20</text>
<line x1="90.40" y1="560.30" x2="90.40" y2="563.50" stroke="#000" stroke-width="1" />
<text transform="translate(90.40,572.80) scale(1.0,1.07)" font-size="9.4" text-anchor="middle" font-weight="bold" fill="#000" >40</text>
<line x1="117.20" y1="560.30" x2="117.20" y2="563.50" stroke="#000" stroke-width="1" />
<text transform="translate(117.20,572.80) scale(1.0,1.07)" font-size="9.4" text-anchor="middle" font-weight="bold" fill="#000" >60</text>
<line x1="144.00" y1="560.30" x2="144.00" y2="563.50" stroke="#000" stroke-width="1" />
<text transform="translate(144.00,572.80) scale(1.0,1.07)" font-size="9.4" text-anchor="middle" font-weight="bold" fill="#000" >80</text>
<line x1="170.80" y1="560.30" x2="170.80" y2="563.50" stroke="#000" stroke-width="1" />
<text transform="translate(170.80,572.80) scale(1.0,1.07)" font-size="9.4" text-anchor="middle" font-weight="bold" fill="#000" >100</text>
<line x1="197.60" y1="560.30" x2="197.60" y2="563.50" stroke="#000" stroke-width="1" />
<text transform="translate(197.60,572.80) scale(1.0,1.07)" font-size="9.4" text-anchor="middle" font-weight="bold" fill="#000" >120</text>
<line x1="50.20" y1="560.30" x2="50.20" y2="562.30" stroke="#000" stroke-width="1" />
<line x1="77.00" y1="560.30" x2="77.00" y2="562.30" stroke="#000" stroke-width="1" />
<line x1="103.80" y1="560.30" x2="103.80" y2="562.30" stroke="#000" stroke-width="1" />
<line x1="130.60" y1="560.30" x2="130.60" y2="562.30" stroke="#000" stroke-width="1" />
<line x1="157.40" y1="560.30" x2="157.40" y2="562.30" stroke="#000" stroke-width="1" />
<line x1="184.20" y1="560.30" x2="184.20" y2="562.30" stroke="#000" stroke-width="1" />
<text transform="translate(116.70,589.90) scale(1.0,1.07)" font-size="10.2" text-anchor="middle" font-weight="bold" fill="#000" >Running time (min)</text>
<text x="0" y="0" font-size="10.2" text-anchor="middle" font-weight="bold" fill="#000" transform="translate(12.60,468.70) rotate(-90)">Normalized flux (%)</text>
<line x1="41.90" y1="493.40" x2="55.40" y2="493.40" stroke="#e46fc6" stroke-width="1.2" />
<polygon points="48.60,490.41 45.61,493.40 48.60,496.39 51.59,493.40" fill="#e46fc6"/>
<text transform="translate(59.00,496.60) scale(1.0,1.07)" font-size="8.9" text-anchor="start" font-weight="bold" fill="#000" >with -1.35 V</text>
<line x1="41.90" y1="505.20" x2="55.40" y2="505.20" stroke="#f6b384" stroke-width="1.2" />
<polygon points="48.60,502.21 45.61,505.20 48.60,508.19 51.59,505.20" fill="#f6b384"/>
<text transform="translate(59.00,508.40) scale(1.0,1.07)" font-size="8.9" text-anchor="start" font-weight="bold" fill="#000" >with -1.04 V</text>
<line x1="41.90" y1="517.00" x2="55.40" y2="517.00" stroke="#b9e07c" stroke-width="1.2" />
<polygon points="48.60,514.01 45.61,517.00 48.60,519.99 51.59,517.00" fill="#b9e07c"/>
<text transform="translate(59.00,520.20) scale(1.0,1.07)" font-size="8.9" text-anchor="start" font-weight="bold" fill="#000" >with -0.68 V</text>
<line x1="41.90" y1="528.80" x2="55.40" y2="528.80" stroke="#d9b07c" stroke-width="1.2" />
<polygon points="48.60,525.81 45.61,528.80 48.60,531.79 51.59,528.80" fill="#d9b07c"/>
<text transform="translate(59.00,532.00) scale(1.0,1.07)" font-size="8.9" text-anchor="start" font-weight="bold" fill="#000" >with -0.30 V</text>
<line x1="41.90" y1="540.60" x2="55.40" y2="540.60" stroke="#8ea0da" stroke-width="1.2" />
<polygon points="48.60,537.61 45.61,540.60 48.60,543.59 51.59,540.60" fill="#8ea0da"/>
<text transform="translate(59.00,543.80) scale(1.0,1.07)" font-size="8.9" text-anchor="start" font-weight="bold" fill="#000" >with -0.25 V</text>
<line x1="41.90" y1="552.40" x2="55.40" y2="552.40" stroke="#96dabb" stroke-width="1.2" />
<polygon points="48.60,549.41 45.61,552.40 48.60,555.39 51.59,552.40" fill="#96dabb"/>
<text transform="translate(59.00,555.60) scale(1.0,1.07)" font-size="8.9" text-anchor="start" font-weight="bold" fill="#000" >with&#160; 0 V</text>
<text transform="translate(220.00,372.20) scale(1.0,1.07)" font-size="20.5" text-anchor="start" font-weight="bold" fill="#000" >h</text>
<rect x="250.80" y="378.20" width="209.30" height="181.90" fill="none" stroke="#111" stroke-width="1.25"/>
<g clip-path="url(#ch)">
<polyline points="250.80,390.56 251.50,400.22 252.20,410.20 252.89,419.45 253.59,424.77 254.29,434.51 254.99,441.58 255.68,444.36 256.38,451.82 257.08,453.82 257.78,458.41 258.47,458.25 259.17,459.78 259.87,463.53 260.57,465.40 261.26,467.50 261.96,465.26 262.66,468.06 263.36,469.85 264.05,467.84 264.75,469.66 265.45,469.60 266.15,473.05 266.84,473.80 267.54,472.84 268.24,471.53 268.94,474.01 269.64,475.50 270.33,474.33 271.03,474.59 271.73,478.08 272.43,473.64 273.12,475.54 273.82,477.57 274.52,477.41 275.22,480.36 275.91,477.00 276.61,475.77 277.31,479.37 278.01,479.54 278.70,480.74 279.40,480.78 280.10,482.63 280.80,481.24 281.49,480.26 282.19,482.40 282.89,480.77 283.59,484.59 284.28,483.73 284.98,483.65 285.68,483.95 286.38,482.06 287.08,485.59 287.77,482.93 288.47,485.78 289.17,484.81 289.87,488.89 290.56,488.37 291.26,485.22 291.96,484.63 292.66,485.52 293.35,486.40 294.05,485.29 294.75,486.48 295.45,486.12 296.14,489.49 296.84,485.13 297.54,488.71 298.24,490.05 298.93,489.66 299.63,487.53 300.33,489.12 301.03,489.66 301.72,487.77 302.42,488.41 303.12,489.63 303.82,491.84 304.52,489.72 305.21,491.75 305.91,491.09 306.61,492.05 307.31,494.62 308.00,492.90 308.70,493.01 309.40,495.24 310.10,494.76 310.79,490.80 311.49,493.65 312.19,490.77 312.89,492.99 313.58,494.63 314.28,495.24 314.98,492.04 315.68,495.94 316.37,493.96 317.07,495.69 317.77,496.48 318.47,496.08 319.16,496.32 319.86,493.45 320.56,496.98 321.26,497.08 321.96,499.63 322.65,497.50 323.35,499.74 324.05,498.31 324.75,501.35 325.44,499.22 326.14,496.00 326.84,497.50 327.54,500.21 328.23,498.94 328.93,496.39 329.63,498.98 330.33,500.82 331.02,498.69 331.72,501.40 332.42,499.84 333.12,499.34 333.81,499.85 334.51,501.24 335.21,497.47 335.91,497.97 336.60,499.62 337.30,498.69 338.00,500.55 338.70,500.82 339.40,502.37 340.09,502.31 340.79,501.04 341.49,502.43 342.19,503.78 342.88,503.22 343.58,503.13 344.28,505.57 344.98,504.49 345.67,502.10 346.37,506.41 347.07,503.00 347.77,501.41 348.46,504.31 349.16,502.56 349.86,503.28 350.56,504.57 351.25,506.20 351.95,504.89 352.65,503.87 353.35,504.38 354.04,504.62 354.74,502.86 355.44,503.88 356.14,505.16 356.84,504.16 357.53,506.32 358.23,508.42 358.93,506.36 359.63,504.31 360.32,505.13 361.02,505.35 361.72,505.27 362.42,506.80 363.11,504.06 363.81,506.98 364.51,506.83 365.21,506.06 365.90,508.39 366.60,505.20 367.30,504.91 368.00,506.72 368.69,508.21 369.39,504.97 370.09,508.55 370.79,507.70 371.48,507.78 372.18,506.15 372.88,510.14 373.58,506.23 374.28,506.92 374.97,508.13 375.67,510.56 376.37,506.52 377.07,512.35 377.76,510.08 378.46,506.43 379.16,507.84 379.86,509.64 380.55,510.03 381.25,511.24 381.95,508.21 382.65,510.92 383.34,509.65 384.04,508.47 384.74,510.41 385.44,509.95 386.13,507.89 386.83,512.27 387.53,509.89 388.23,507.84 388.92,510.52 389.62,510.92 390.32,509.91 391.02,512.88 391.72,510.75 392.41,509.99 393.11,511.19 393.81,508.33 394.51,513.48 395.20,510.40 395.90,510.67 396.60,510.55 397.30,512.96 397.99,508.87 398.69,511.09 399.39,510.99 400.09,511.55 400.78,512.29 401.48,512.04 402.18,512.35 402.88,511.87 403.57,509.85 404.27,511.04 404.97,513.24 405.67,512.61 406.36,512.20 407.06,512.94 407.76,511.49 408.46,511.90 409.16,514.74 409.85,512.17 410.55,514.35 411.25,512.89 411.95,513.42 412.64,513.66 413.34,512.00 414.04,513.33 414.74,510.56 415.43,512.66 416.13,511.74 416.83,513.63 417.53,510.25 418.22,514.22 418.92,514.46 419.62,515.63 420.32,511.04 421.01,511.86 421.71,513.98 422.41,516.08 423.11,514.67 423.80,513.58 424.50,512.46 425.20,512.26 425.90,512.64 426.60,513.63 427.29,514.62 427.99,517.88 428.69,512.04 429.39,515.34 430.08,513.81 430.78,512.39 431.48,516.67 432.18,514.65 432.87,513.65 433.57,515.78 434.27,516.08 434.97,512.42 435.66,515.36 436.36,515.04 437.06,512.83 437.76,514.88 438.45,513.02 439.15,517.76 439.85,514.02 440.55,511.95 441.24,516.61 441.94,518.53 442.64,514.34 443.34,512.80 444.04,512.44 444.73,516.88 445.43,517.33 446.13,518.92 446.83,512.84 447.52,512.41 448.22,514.81 448.92,514.70 449.62,516.62 450.31,514.92 451.01,516.33 451.71,515.47 452.41,517.18 453.10,516.41 453.80,515.13 454.50,514.96 455.20,517.98 455.89,512.38 456.59,513.70 457.29,515.63 457.99,514.54 458.68,517.62 459.38,515.06 460.08,513.37" fill="none" stroke="#8fdcbf" stroke-width="2.3" stroke-linejoin="round" />
<polyline points="250.80,392.88 251.50,399.02 252.20,407.75 252.89,415.57 253.59,423.48 254.29,432.86 254.99,438.80 255.68,449.44 256.38,448.87 257.08,453.97 257.78,455.26 258.47,459.46 259.17,459.89 259.87,459.73 260.57,462.97 261.26,464.65 261.96,464.74 262.66,465.42 263.36,465.33 264.05,468.85 264.75,468.42 265.45,467.78 266.15,470.55 266.84,471.15 267.54,471.79 268.24,472.50 268.94,473.07 269.64,473.91 270.33,477.47 271.03,475.06 271.73,473.43 272.43,477.51 273.12,475.86 273.82,477.19 274.52,477.30 275.22,475.88 275.91,477.24 276.61,478.87 277.31,479.95 278.01,477.13 278.70,480.73 279.40,480.10 280.10,479.78 280.80,482.26 281.49,481.40 282.19,481.01 282.89,480.97 283.59,481.96 284.28,481.88 284.98,482.33 285.68,484.24 286.38,483.00 287.08,481.66 287.77,483.21 288.47,482.77 289.17,482.88 289.87,482.01 290.56,486.35 291.26,484.11 291.96,486.31 292.66,483.37 293.35,487.06 294.05,486.87 294.75,487.37 295.45,485.35 296.14,485.40 296.84,483.73 297.54,487.95 298.24,488.88 298.93,488.15 299.63,488.50 300.33,488.79 301.03,487.81 301.72,488.77 302.42,489.34 303.12,491.86 303.82,488.85 304.52,489.59 305.21,492.27 305.91,490.86 306.61,489.96 307.31,491.42 308.00,492.43 308.70,491.88 309.40,493.10 310.10,492.00 310.79,493.95 311.49,490.98 312.19,496.04 312.89,495.52 313.58,490.42 314.28,490.57 314.98,493.19 315.68,491.96 316.37,493.41 317.07,495.56 317.77,492.66 318.47,494.59 319.16,493.62 319.86,494.26 320.56,496.35 321.26,494.90 321.96,496.61 322.65,493.18 323.35,494.99 324.05,495.38 324.75,494.44 325.44,495.04 326.14,496.20 326.84,497.48 327.54,498.43 328.23,497.64 328.93,497.96 329.63,497.30 330.33,499.15 331.02,497.02 331.72,496.11 332.42,499.48 333.12,499.17 333.81,497.81 334.51,497.30 335.21,498.83 335.91,498.22 336.60,500.07 337.30,497.37 338.00,499.92 338.70,499.77 339.40,499.66 340.09,500.39 340.79,499.93 341.49,500.83 342.19,499.45 342.88,499.83 343.58,501.53 344.28,500.75 344.98,498.55 345.67,502.93 346.37,501.51 347.07,499.14 347.77,501.89 348.46,503.02 349.16,501.72 349.86,498.65 350.56,501.70 351.25,502.09 351.95,502.71 352.65,501.33 353.35,502.02 354.04,501.30 354.74,502.50 355.44,503.03 356.14,502.44 356.84,504.08 357.53,500.55 358.23,503.18 358.93,503.67 359.63,502.82 360.32,502.92 361.02,503.15 361.72,503.51 362.42,503.69 363.11,504.38 363.81,502.84 364.51,505.67 365.21,504.43 365.90,507.09 366.60,505.42 367.30,505.39 368.00,506.49 368.69,503.51 369.39,506.72 370.09,507.09 370.79,506.44 371.48,506.35 372.18,505.56 372.88,504.99 373.58,507.59 374.28,504.17 374.97,504.94 375.67,506.46 376.37,507.02 377.07,507.18 377.76,507.88 378.46,509.43 379.16,507.70 379.86,508.14 380.55,506.14 381.25,507.86 381.95,508.25 382.65,508.56 383.34,508.67 384.04,506.99 384.74,507.98 385.44,508.08 386.13,508.43 386.83,508.26 387.53,507.63 388.23,507.42 388.92,507.18 389.62,507.50 390.32,506.61 391.02,507.25 391.72,507.79 392.41,508.47 393.11,509.49 393.81,508.64 394.51,507.05 395.20,512.16 395.90,508.80 396.60,510.11 397.30,508.44 397.99,508.50 398.69,510.02 399.39,507.18 400.09,510.46 400.78,509.49 401.48,508.56 402.18,509.58 402.88,510.49 403.57,509.07 404.27,512.23 404.97,510.54 405.67,512.35 406.36,508.06 407.06,508.80 407.76,508.94 408.46,509.42 409.16,510.97 409.85,511.92 410.55,511.37 411.25,512.08 411.95,510.92 412.64,511.33 413.34,509.84 414.04,511.52 414.74,510.58 415.43,512.44 416.13,510.70 416.83,512.14 417.53,511.45 418.22,511.29 418.92,511.76 419.62,511.24 420.32,510.10 421.01,512.82 421.71,514.44 422.41,509.84 423.11,508.43 423.80,512.52 424.50,509.78 425.20,510.55 425.90,511.81 426.60,513.32 427.29,508.76 427.99,511.38 428.69,513.29 429.39,511.09 430.08,511.36 430.78,512.74 431.48,508.99 432.18,511.34 432.87,511.94 433.57,511.56 434.27,509.26 434.97,508.87 435.66,512.08 436.36,512.93 437.06,510.45 437.76,509.96 438.45,513.02 439.15,513.64 439.85,511.33 440.55,511.29 441.24,512.19 441.94,512.35 442.64,512.73 443.34,512.17 444.04,511.82 444.73,512.46 445.43,510.14 446.13,513.22 446.83,512.59 447.52,512.95 448.22,513.11 448.92,514.04 449.62,513.39 450.31,512.67 451.01,515.03 451.71,512.95 452.41,511.05 453.10,510.93 453.80,513.75 454.50,512.43 455.20,512.85 455.89,511.56 456.59,514.00 457.29,514.36 457.99,511.90 458.68,514.08 459.38,516.95 460.08,513.47" fill="none" stroke="#f7b081" stroke-width="2.3" stroke-linejoin="round" />
<polyline points="250.80,387.23 251.50,397.19 252.20,405.38 252.89,409.69 253.59,413.08 254.29,416.46 254.99,417.41 255.68,423.57 256.38,429.78 257.08,426.88 257.78,428.84 258.47,431.27 259.17,429.47 259.87,431.71 260.57,431.25 261.26,432.98 261.96,434.73 262.66,434.18 263.36,434.06 264.05,435.98 264.75,437.48 265.45,434.02 266.15,435.81 266.84,442.37 267.54,438.06 268.24,438.91 268.94,438.20 269.64,439.14 270.33,441.36 271.03,444.18 271.73,441.97 272.43,444.79 273.12,446.78 273.82,445.30 274.52,445.84 275.22,446.85 275.91,447.07 276.61,446.98 277.31,446.40 278.01,449.14 278.70,446.34 279.40,446.80 280.10,450.10 280.80,448.22 281.49,450.83 282.19,450.32 282.89,451.43 283.59,449.34 284.28,453.81 284.98,447.97 285.68,451.22 286.38,451.66 287.08,452.46 287.77,454.13 288.47,454.95 289.17,452.52 289.87,454.37 290.56,453.01 291.26,450.94 291.96,454.28 292.66,453.70 293.35,455.80 294.05,457.06 294.75,455.68 295.45,453.11 296.14,455.45 296.84,456.40 297.54,458.42 298.24,457.80 298.93,455.54 299.63,457.89 300.33,460.53 301.03,460.02 301.72,458.69 302.42,458.84 303.12,463.28 303.82,460.00 304.52,461.48 305.21,465.15 305.91,464.19 306.61,462.29 307.31,464.01 308.00,462.24 308.70,462.48 309.40,463.35 310.10,464.24 310.79,463.10 311.49,466.60 312.19,468.14 312.89,464.56 313.58,463.46 314.28,466.85 314.98,464.54 315.68,465.43 316.37,468.19 317.07,466.91 317.77,465.50 318.47,469.44 319.16,467.83 319.86,468.26 320.56,470.65 321.26,468.08 321.96,471.06 322.65,469.09 323.35,470.65 324.05,472.40 324.75,472.12 325.44,473.68 326.14,468.84 326.84,474.40 327.54,474.47 328.23,471.84 328.93,472.92 329.63,473.53 330.33,476.67 331.02,477.03 331.72,476.03 332.42,475.83 333.12,475.09 333.81,475.50 334.51,476.71 335.21,476.54 335.91,480.73 336.60,480.83 337.30,480.00 338.00,479.17 338.70,480.49 339.40,480.34 340.09,479.78 340.79,481.21 341.49,480.71 342.19,479.13 342.88,480.37 343.58,482.03 344.28,481.49 344.98,481.29 345.67,482.08 346.37,481.28 347.07,485.21 347.77,481.63 348.46,485.16 349.16,482.88 349.86,486.49 350.56,482.84 351.25,483.44 351.95,486.14 352.65,484.37 353.35,486.36 354.04,484.09 354.74,486.66 355.44,487.35 356.14,488.45 356.84,487.41 357.53,486.72 358.23,486.74 358.93,489.23 359.63,489.09 360.32,490.54 361.02,490.22 361.72,489.61 362.42,489.08 363.11,488.71 363.81,491.20 364.51,492.51 365.21,488.38 365.90,491.22 366.60,492.13 367.30,491.62 368.00,492.25 368.69,491.35 369.39,491.87 370.09,494.95 370.79,493.97 371.48,492.60 372.18,494.35 372.88,493.03 373.58,496.26 374.28,492.44 374.97,494.43 375.67,497.70 376.37,493.67 377.07,497.24 377.76,495.50 378.46,495.76 379.16,495.64 379.86,495.42 380.55,499.71 381.25,497.46 381.95,498.62 382.65,498.23 383.34,497.32 384.04,493.13 384.74,497.94 385.44,499.67 386.13,493.94 386.83,497.28 387.53,498.93 388.23,495.84 388.92,497.46 389.62,497.84 390.32,501.77 391.02,497.16 391.72,500.29 392.41,499.55 393.11,499.55 393.81,497.88 394.51,498.58 395.20,501.43 395.90,501.88 396.60,502.74 397.30,501.84 397.99,501.26 398.69,501.68 399.39,502.42 400.09,503.74 400.78,503.78 401.48,502.32 402.18,501.59 402.88,502.30 403.57,504.15 404.27,502.66 404.97,502.06 405.67,505.34 406.36,505.94 407.06,502.94 407.76,501.40 408.46,503.69 409.16,503.88 409.85,504.48 410.55,502.67 411.25,506.74 411.95,504.43 412.64,505.29 413.34,508.28 414.04,505.37 414.74,504.86 415.43,504.85 416.13,505.34 416.83,505.49 417.53,504.34 418.22,507.51 418.92,506.99 419.62,504.39 420.32,504.39 421.01,503.95 421.71,507.50 422.41,503.61 423.11,504.03 423.80,505.19 424.50,507.32 425.20,504.41 425.90,503.82 426.60,506.24 427.29,505.12 427.99,505.12 428.69,504.60 429.39,504.95 430.08,504.98 430.78,508.16 431.48,506.90 432.18,508.71 432.87,504.68 433.57,505.16 434.27,505.69 434.97,503.52 435.66,507.89 436.36,504.17 437.06,508.00 437.76,509.53 438.45,507.42 439.15,507.57 439.85,507.25 440.55,506.96 441.24,506.25 441.94,506.02 442.64,508.12 443.34,508.85 444.04,506.09 444.73,505.20 445.43,505.80 446.13,506.54 446.83,510.22 447.52,506.43 448.22,508.50 448.92,505.89 449.62,505.44 450.31,508.24 451.01,509.22 451.71,508.32 452.41,507.06 453.10,507.01 453.80,509.54 454.50,507.44 455.20,509.44 455.89,508.97 456.59,506.40 457.29,508.32 457.99,511.67 458.68,509.85 459.38,506.38 460.08,511.12" fill="none" stroke="#8a9bd8" stroke-width="2.3" stroke-linejoin="round" />
<polyline points="250.80,376.55 251.50,390.82 252.20,397.47 252.89,401.07 253.59,401.01 254.29,400.49 254.99,404.74 255.68,403.77 256.38,403.54 257.08,403.40 257.78,401.69 258.47,403.20 259.17,405.68 259.87,408.70 260.57,407.77 261.26,409.44 261.96,408.91 262.66,409.69 263.36,409.88 264.05,409.61 264.75,411.09 265.45,409.92 266.15,410.21 266.84,414.10 267.54,415.02 268.24,414.72 268.94,417.21 269.64,414.40 270.33,415.06 271.03,415.45 271.73,413.67 272.43,415.69 273.12,415.78 273.82,417.67 274.52,419.15 275.22,421.92 275.91,419.91 276.61,419.92 277.31,421.90 278.01,422.12 278.70,421.33 279.40,419.56 280.10,423.17 280.80,423.58 281.49,424.59 282.19,424.08 282.89,425.97 283.59,424.31 284.28,426.46 284.98,423.93 285.68,427.47 286.38,428.17 287.08,426.24 287.77,426.62 288.47,429.33 289.17,427.89 289.87,428.52 290.56,427.06 291.26,430.70 291.96,432.56 292.66,429.96 293.35,429.78 294.05,429.92 294.75,432.01 295.45,434.46 296.14,435.49 296.84,429.31 297.54,433.34 298.24,433.85 298.93,433.49 299.63,433.92 300.33,435.90 301.03,435.71 301.72,435.69 302.42,434.41 303.12,433.60 303.82,435.33 304.52,436.27 305.21,439.25 305.91,439.26 306.61,438.07 307.31,439.99 308.00,440.14 308.70,436.16 309.40,440.73 310.10,440.99 310.79,443.70 311.49,440.73 312.19,441.37 312.89,442.45 313.58,441.72 314.28,446.41 314.98,440.98 315.68,441.42 316.37,446.77 317.07,443.73 317.77,443.21 318.47,443.39 319.16,444.68 319.86,443.50 320.56,444.86 321.26,446.48 321.96,444.04 322.65,448.25 323.35,447.47 324.05,447.78 324.75,445.11 325.44,448.54 326.14,450.13 326.84,449.91 327.54,448.33 328.23,449.03 328.93,448.85 329.63,451.53 330.33,449.45 331.02,449.07 331.72,447.85 332.42,448.76 333.12,453.10 333.81,450.77 334.51,453.31 335.21,451.56 335.91,451.36 336.60,453.04 337.30,457.21 338.00,453.21 338.70,453.55 339.40,454.78 340.09,453.20 340.79,455.17 341.49,455.32 342.19,454.47 342.88,456.55 343.58,454.60 344.28,456.65 344.98,456.49 345.67,455.58 346.37,454.78 347.07,457.34 347.77,456.93 348.46,457.88 349.16,459.94 349.86,458.53 350.56,454.75 351.25,458.74 351.95,457.52 352.65,458.03 353.35,457.33 354.04,459.39 354.74,458.55 355.44,460.16 356.14,456.64 356.84,459.79 357.53,460.76 358.23,458.99 358.93,462.32 359.63,459.87 360.32,458.36 361.02,463.25 361.72,461.27 362.42,463.10 363.11,462.44 363.81,463.06 364.51,466.08 365.21,461.55 365.90,463.59 366.60,462.40 367.30,464.97 368.00,464.81 368.69,465.07 369.39,466.82 370.09,462.31 370.79,463.42 371.48,463.48 372.18,464.78 372.88,466.42 373.58,465.43 374.28,461.75 374.97,463.98 375.67,466.01 376.37,468.18 377.07,465.72 377.76,470.63 378.46,465.46 379.16,468.01 379.86,467.63 380.55,465.75 381.25,465.29 381.95,468.05 382.65,469.27 383.34,470.51 384.04,469.76 384.74,467.33 385.44,467.91 386.13,469.41 386.83,468.55 387.53,469.15 388.23,470.89 388.92,469.62 389.62,467.33 390.32,466.85 391.02,470.46 391.72,469.40 392.41,471.54 393.11,469.00 393.81,470.26 394.51,470.26 395.20,468.52 395.90,469.32 396.60,469.97 397.30,470.04 397.99,469.98 398.69,473.85 399.39,470.62 400.09,472.04 400.78,469.13 401.48,471.63 402.18,472.98 402.88,472.80 403.57,470.59 404.27,472.07 404.97,472.21 405.67,470.56 406.36,471.63 407.06,472.86 407.76,470.87 408.46,471.97 409.16,472.31 409.85,472.59 410.55,477.31 411.25,471.90 411.95,474.18 412.64,472.60 413.34,474.71 414.04,473.85 414.74,475.95 415.43,472.93 416.13,475.52 416.83,472.16 417.53,474.33 418.22,474.11 418.92,475.97 419.62,476.12 420.32,474.50 421.01,475.56 421.71,475.40 422.41,477.64 423.11,476.12 423.80,475.16 424.50,477.71 425.20,477.55 425.90,477.71 426.60,475.93 427.29,477.12 427.99,478.30 428.69,477.41 429.39,476.28 430.08,478.63 430.78,476.54 431.48,473.33 432.18,480.07 432.87,478.55 433.57,477.91 434.27,477.21 434.97,475.63 435.66,477.83 436.36,478.94 437.06,479.95 437.76,483.15 438.45,480.79 439.15,476.04 439.85,480.25 440.55,477.57 441.24,477.83 441.94,479.31 442.64,481.03 443.34,475.31 444.04,477.71 444.73,478.45 445.43,481.42 446.13,478.78 446.83,481.51 447.52,481.77 448.22,479.45 448.92,479.57 449.62,479.23 450.31,479.51 451.01,480.09 451.71,479.73 452.41,481.99 453.10,480.39 453.80,479.30 454.50,477.50 455.20,483.49 455.89,478.51 456.59,481.78 457.29,479.03 457.99,481.79 458.68,481.08 459.38,480.86 460.08,481.10" fill="none" stroke="#b8e27c" stroke-width="2.3" stroke-linejoin="round" />
<polyline points="250.80,378.20 251.50,381.13 252.20,383.28 252.89,387.40 253.59,386.15 254.29,388.58 254.99,392.59 255.68,393.58 256.38,390.40 257.08,391.24 257.78,395.01 258.47,392.64 259.17,395.89 259.87,393.94 260.57,391.54 261.26,395.86 261.96,393.75 262.66,397.82 263.36,397.22 264.05,398.23 264.75,394.80 265.45,397.56 266.15,399.75 266.84,401.15 267.54,400.04 268.24,398.78 268.94,398.63 269.64,401.80 270.33,399.79 271.03,401.52 271.73,402.50 272.43,402.08 273.12,399.51 273.82,403.93 274.52,403.82 275.22,404.45 275.91,405.43 276.61,404.78 277.31,406.06 278.01,408.99 278.70,405.77 279.40,409.72 280.10,407.15 280.80,407.57 281.49,405.48 282.19,406.72 282.89,407.85 283.59,410.88 284.28,409.18 284.98,406.62 285.68,409.13 286.38,409.54 287.08,406.21 287.77,411.17 288.47,413.99 289.17,410.49 289.87,411.58 290.56,414.66 291.26,410.15 291.96,413.54 292.66,409.88 293.35,415.87 294.05,411.98 294.75,413.35 295.45,414.83 296.14,413.96 296.84,418.40 297.54,411.98 298.24,414.81 298.93,416.14 299.63,413.21 300.33,413.40 301.03,420.37 301.72,418.11 302.42,421.29 303.12,419.22 303.82,420.09 304.52,418.11 305.21,420.00 305.91,422.80 306.61,419.53 307.31,421.86 308.00,419.75 308.70,423.83 309.40,423.49 310.10,423.08 310.79,423.28 311.49,423.28 312.19,422.13 312.89,422.76 313.58,423.48 314.28,423.76 314.98,424.95 315.68,427.28 316.37,425.79 317.07,425.97 317.77,426.05 318.47,428.80 319.16,426.92 319.86,427.14 320.56,428.12 321.26,427.54 321.96,427.28 322.65,426.53 323.35,426.20 324.05,429.74 324.75,427.36 325.44,428.97 326.14,429.01 326.84,427.16 327.54,428.09 328.23,429.16 328.93,431.76 329.63,430.69 330.33,428.68 331.02,431.93 331.72,432.46 332.42,432.98 333.12,431.26 333.81,433.41 334.51,427.56 335.21,432.42 335.91,432.49 336.60,433.81 337.30,432.38 338.00,432.79 338.70,434.29 339.40,434.82 340.09,432.48 340.79,434.41 341.49,433.66 342.19,435.15 342.88,436.26 343.58,434.94 344.28,434.66 344.98,436.16 345.67,436.37 346.37,435.22 347.07,438.24 347.77,436.37 348.46,437.55 349.16,437.36 349.86,436.50 350.56,440.43 351.25,438.51 351.95,438.62 352.65,438.51 353.35,435.62 354.04,440.44 354.74,439.32 355.44,438.39 356.14,443.22 356.84,438.96 357.53,439.25 358.23,441.60 358.93,441.39 359.63,442.29 360.32,439.51 361.02,442.88 361.72,444.11 362.42,443.47 363.11,443.65 363.81,442.53 364.51,442.92 365.21,441.58 365.90,446.33 366.60,443.24 367.30,444.39 368.00,444.15 368.69,445.52 369.39,445.39 370.09,444.11 370.79,443.32 371.48,447.83 372.18,444.95 372.88,447.37 373.58,445.01 374.28,446.89 374.97,448.79 375.67,447.92 376.37,446.86 377.07,445.64 377.76,445.09 378.46,445.94 379.16,447.51 379.86,447.27 380.55,448.70 381.25,446.20 381.95,450.01 382.65,450.44 383.34,447.48 384.04,451.52 384.74,449.05 385.44,447.81 386.13,449.39 386.83,449.12 387.53,450.00 388.23,450.09 388.92,452.83 389.62,448.27 390.32,451.63 391.02,452.04 391.72,451.24 392.41,449.73 393.11,452.46 393.81,452.37 394.51,450.75 395.20,451.54 395.90,453.47 396.60,453.54 397.30,453.18 397.99,454.76 398.69,455.48 399.39,455.05 400.09,456.32 400.78,451.06 401.48,455.98 402.18,453.78 402.88,458.07 403.57,455.99 404.27,452.52 404.97,455.65 405.67,458.07 406.36,456.29 407.06,458.46 407.76,459.06 408.46,453.29 409.16,456.64 409.85,455.80 410.55,454.28 411.25,457.58 411.95,456.15 412.64,456.48 413.34,457.96 414.04,457.41 414.74,458.89 415.43,459.47 416.13,456.15 416.83,458.18 417.53,462.41 418.22,454.70 418.92,457.77 419.62,458.08 420.32,455.55 421.01,461.98 421.71,458.10 422.41,459.78 423.11,457.94 423.80,456.74 424.50,458.38 425.20,460.17 425.90,459.19 426.60,457.54 427.29,457.98 427.99,458.35 428.69,458.94 429.39,460.91 430.08,459.08 430.78,461.73 431.48,459.83 432.18,460.62 432.87,459.50 433.57,458.10 434.27,460.03 434.97,459.05 435.66,460.68 436.36,461.37 437.06,459.43 437.76,460.75 438.45,462.65 439.15,460.77 439.85,461.06 440.55,460.23 441.24,460.23 441.94,462.25 442.64,459.99 443.34,464.48 444.04,458.56 444.73,463.43 445.43,460.72 446.13,459.31 446.83,462.21 447.52,464.30 448.22,463.55 448.92,462.13 449.62,461.60 450.31,460.11 451.01,462.67 451.71,462.74 452.41,462.59 453.10,462.42 453.80,464.03 454.50,463.36 455.20,463.65 455.89,461.31 456.59,463.53 457.29,463.39 457.99,459.49 458.68,462.77 459.38,461.79 460.08,467.74" fill="none" stroke="#d08fd6" stroke-width="2.3" stroke-linejoin="round" />
<polyline points="250.80,377.95 251.50,377.86 252.20,378.14 252.89,378.74 253.59,379.50 254.29,380.94 254.99,378.55 255.68,380.20 256.38,381.85 257.08,378.49 257.78,378.87 258.47,381.88 259.17,379.29 259.87,383.34 260.57,380.89 261.26,382.35 261.96,381.62 262.66,381.21 263.36,381.15 264.05,381.78 264.75,382.42 265.45,381.84 266.15,384.08 266.84,382.88 267.54,383.98 268.24,384.95 268.94,383.80 269.64,383.51 270.33,383.86 271.03,383.07 271.73,385.66 272.43,386.55 273.12,385.36 273.82,383.76 274.52,387.80 275.22,386.23 275.91,386.36 276.61,385.93 277.31,387.08 278.01,386.79 278.70,386.46 279.40,388.71 280.10,387.60 280.80,388.88 281.49,387.49 282.19,386.80 282.89,386.66 283.59,389.03 284.28,388.44 284.98,387.04 285.68,390.67 286.38,385.75 287.08,390.13 287.77,387.78 288.47,388.41 289.17,389.77 289.87,388.82 290.56,389.28 291.26,391.66 291.96,388.57 292.66,388.52 293.35,387.38 294.05,390.19 294.75,390.32 295.45,389.79 296.14,391.32 296.84,389.80 297.54,390.11 298.24,391.06 298.93,391.06 299.63,387.49 300.33,389.20 301.03,390.69 301.72,389.41 302.42,390.00 303.12,393.33 303.82,390.08 304.52,390.97 305.21,389.24 305.91,391.51 306.61,391.32 307.31,391.40 308.00,391.65 308.70,394.22 309.40,390.21 310.10,393.26 310.79,390.94 311.49,391.13 312.19,392.24 312.89,393.11 313.58,392.85 314.28,393.88 314.98,393.51 315.68,394.01 316.37,391.33 317.07,393.46 317.77,393.88 318.47,393.19 319.16,393.35 319.86,393.81 320.56,392.23 321.26,391.07 321.96,394.56 322.65,393.73 323.35,394.63 324.05,393.83 324.75,396.20 325.44,398.07 326.14,394.09 326.84,395.42 327.54,395.56 328.23,395.39 328.93,395.22 329.63,397.22 330.33,397.29 331.02,396.48 331.72,396.97 332.42,394.19 333.12,397.21 333.81,397.72 334.51,397.07 335.21,397.83 335.91,398.87 336.60,398.20 337.30,401.41 338.00,400.89 338.70,400.42 339.40,398.70 340.09,400.48 340.79,402.30 341.49,402.45 342.19,402.04 342.88,401.67 343.58,401.45 344.28,400.26 344.98,401.47 345.67,401.78 346.37,402.14 347.07,400.29 347.77,403.32 348.46,402.74 349.16,401.15 349.86,402.98 350.56,402.66 351.25,401.45 351.95,402.32 352.65,403.89 353.35,404.49 354.04,402.70 354.74,401.83 355.44,403.61 356.14,402.98 356.84,402.38 357.53,404.33 358.23,402.79 358.93,404.05 359.63,404.32 360.32,405.16 361.02,404.36 361.72,406.06 362.42,405.70 363.11,406.13 363.81,404.42 364.51,405.04 365.21,404.12 365.90,406.39 366.60,405.23 367.30,404.94 368.00,403.52 368.69,406.48 369.39,405.56 370.09,405.71 370.79,403.69 371.48,403.77 372.18,407.47 372.88,406.06 373.58,405.72 374.28,406.37 374.97,406.46 375.67,405.33 376.37,407.71 377.07,407.10 377.76,405.55 378.46,406.89 379.16,407.29 379.86,408.04 380.55,405.40 381.25,407.52 381.95,408.29 382.65,406.44 383.34,406.66 384.04,407.20 384.74,406.98 385.44,408.24 386.13,408.50 386.83,406.24 387.53,408.18 388.23,406.54 388.92,408.28 389.62,408.63 390.32,407.92 391.02,410.39 391.72,407.39 392.41,408.11 393.11,408.10 393.81,408.61 394.51,407.67 395.20,409.24 395.90,409.30 396.60,410.92 397.30,408.15 397.99,408.56 398.69,409.13 399.39,407.07 400.09,408.48 400.78,410.18 401.48,409.85 402.18,409.31 402.88,409.09 403.57,411.14 404.27,408.62 404.97,409.58 405.67,409.58 406.36,407.79 407.06,407.87 407.76,410.24 408.46,409.87 409.16,410.44 409.85,412.23 410.55,408.88 411.25,411.17 411.95,409.91 412.64,410.58 413.34,412.16 414.04,409.85 414.74,410.71 415.43,409.94 416.13,409.39 416.83,411.88 417.53,410.28 418.22,410.74 418.92,413.36 419.62,411.86 420.32,412.63 421.01,412.56 421.71,410.01 422.41,410.33 423.11,410.88 423.80,410.47 424.50,410.72 425.20,410.53 425.90,410.06 426.60,411.21 427.29,413.18 427.99,413.70 428.69,411.84 429.39,412.40 430.08,411.12 430.78,413.12 431.48,411.03 432.18,412.77 432.87,410.86 433.57,411.59 434.27,411.04 434.97,409.79 435.66,414.93 436.36,413.30 437.06,413.77 437.76,412.83 438.45,413.85 439.15,414.49 439.85,413.96 440.55,412.97 441.24,414.78 441.94,412.51 442.64,413.32 443.34,412.85 444.04,415.15 444.73,413.48 445.43,412.92 446.13,413.44 446.83,413.02 447.52,414.09 448.22,413.89 448.92,415.02 449.62,413.09 450.31,413.60 451.01,413.03 451.71,415.78 452.41,412.85 453.10,414.04 453.80,415.53 454.50,415.56 455.20,415.45 455.89,415.99 456.59,414.24 457.29,413.47 457.99,414.43 458.68,414.48 459.38,414.39 460.08,416.44" fill="none" stroke="#d6ad79" stroke-width="2.3" stroke-linejoin="round" />
<polyline points="250.80,379.63 251.50,378.42 252.20,379.34 252.89,378.53 253.59,378.88 254.29,378.88 254.99,379.10 255.68,378.86 256.38,377.20 257.08,379.37 257.78,379.74 258.47,380.00 259.17,379.23 259.87,380.39 260.57,379.49 261.26,381.30 261.96,381.36 262.66,381.22 263.36,380.61 264.05,378.84 264.75,382.15 265.45,381.20 266.15,380.55 266.84,381.63 267.54,381.90 268.24,380.83 268.94,379.80 269.64,380.73 270.33,382.17 271.03,382.88 271.73,383.85 272.43,382.74 273.12,381.59 273.82,382.15 274.52,383.11 275.22,383.86 275.91,383.68 276.61,383.12 277.31,383.05 278.01,382.10 278.70,384.75 279.40,381.94 280.10,381.93 280.80,385.44 281.49,384.38 282.19,383.28 282.89,383.83 283.59,384.14 284.28,383.86 284.98,384.48 285.68,383.64 286.38,385.69 287.08,385.91 287.77,385.03 288.47,385.46 289.17,386.01 289.87,385.03 290.56,387.67 291.26,384.32 291.96,385.56 292.66,387.20 293.35,387.52 294.05,388.07 294.75,386.55 295.45,389.07 296.14,387.73 296.84,386.93 297.54,388.22 298.24,386.30 298.93,387.95 299.63,388.98 300.33,389.40 301.03,388.17 301.72,388.48 302.42,388.10 303.12,389.47 303.82,391.52 304.52,388.84 305.21,388.97 305.91,388.35 306.61,388.64 307.31,389.43 308.00,390.06 308.70,390.71 309.40,390.18 310.10,392.87 310.79,389.90 311.49,392.20 312.19,389.49 312.89,391.42 313.58,392.66 314.28,391.62 314.98,390.76 315.68,392.50 316.37,391.66 317.07,391.97 317.77,391.98 318.47,390.96 319.16,390.73 319.86,393.05 320.56,392.64 321.26,389.18 321.96,391.78 322.65,392.05 323.35,392.42 324.05,392.02 324.75,391.61 325.44,392.78 326.14,393.97 326.84,391.53 327.54,394.03 328.23,393.13 328.93,393.89 329.63,392.66 330.33,392.42 331.02,393.41 331.72,394.32 332.42,393.55 333.12,393.15 333.81,393.16 334.51,395.27 335.21,393.80 335.91,394.11 336.60,393.78 337.30,393.54 338.00,394.28 338.70,393.96 339.40,394.44 340.09,394.64 340.79,394.84 341.49,394.58 342.19,393.65 342.88,394.66 343.58,395.75 344.28,395.67 344.98,394.50 345.67,395.77 346.37,395.22 347.07,394.65 347.77,395.47 348.46,394.62 349.16,394.63 349.86,396.43 350.56,394.48 351.25,394.41 351.95,395.49 352.65,397.28 353.35,394.43 354.04,396.38 354.74,395.25 355.44,396.72 356.14,395.32 356.84,396.69 357.53,395.19 358.23,397.82 358.93,395.94 359.63,397.04 360.32,395.90 361.02,398.31 361.72,397.55 362.42,397.68 363.11,398.00 363.81,396.92 364.51,397.16 365.21,397.13 365.90,397.10 366.60,397.11 367.30,396.51 368.00,398.90 368.69,396.24 369.39,397.93 370.09,397.41 370.79,397.97 371.48,397.80 372.18,398.84 372.88,399.51 373.58,398.51 374.28,396.91 374.97,399.07 375.67,399.57 376.37,399.82 377.07,399.69 377.76,399.30 378.46,398.85 379.16,400.51 379.86,397.48 380.55,400.12 381.25,398.35 381.95,398.02 382.65,398.59 383.34,398.91 384.04,400.22 384.74,400.39 385.44,398.92 386.13,399.78 386.83,399.22 387.53,398.96 388.23,398.99 388.92,402.33 389.62,400.26 390.32,398.40 391.02,400.71 391.72,398.71 392.41,401.01 393.11,400.01 393.81,400.48 394.51,398.80 395.20,400.98 395.90,401.71 396.60,401.68 397.30,401.79 397.99,400.61 398.69,400.36 399.39,400.22 400.09,401.27 400.78,400.81 401.48,400.52 402.18,402.27 402.88,400.94 403.57,402.08 404.27,402.27 404.97,402.03 405.67,401.46 406.36,402.38 407.06,402.60 407.76,402.90 408.46,402.22 409.16,401.79 409.85,403.29 410.55,402.17 411.25,402.08 411.95,402.96 412.64,402.17 413.34,401.83 414.04,402.40 414.74,403.31 415.43,402.91 416.13,403.00 416.83,401.66 417.53,402.27 418.22,403.49 418.92,403.11 419.62,405.31 420.32,402.89 421.01,404.23 421.71,402.66 422.41,404.42 423.11,403.02 423.80,401.80 424.50,403.18 425.20,404.49 425.90,404.23 426.60,404.02 427.29,403.39 427.99,402.44 428.69,404.81 429.39,405.07 430.08,403.39 430.78,404.90 431.48,404.59 432.18,403.01 432.87,404.23 433.57,403.99 434.27,403.67 434.97,404.56 435.66,404.80 436.36,404.21 437.06,403.82 437.76,407.15 438.45,406.92 439.15,405.77 439.85,406.18 440.55,403.03 441.24,405.20 441.94,407.25 442.64,405.40 443.34,403.93 444.04,405.22 444.73,406.37 445.43,405.72 446.13,406.18 446.83,405.75 447.52,406.58 448.22,406.41 448.92,406.34 449.62,406.77 450.31,406.78 451.01,407.55 451.71,406.98 452.41,408.69 453.10,406.98 453.80,405.34 454.50,408.27 455.20,405.65 455.89,406.17 456.59,408.32 457.29,407.59 457.99,407.51 458.68,405.16 459.38,408.54 460.08,406.52" fill="none" stroke="#e66fc6" stroke-width="2.3" stroke-linejoin="round" />
<polyline points="250.80,378.51 251.50,377.59 252.20,379.90 252.89,377.48 253.59,380.30 254.29,379.80 254.99,378.55 255.68,378.51 256.38,380.60 257.08,381.33 257.78,379.84 258.47,379.22 259.17,379.47 259.87,380.10 260.57,379.62 261.26,379.58 261.96,380.34 262.66,379.48 263.36,380.69 264.05,379.06 264.75,379.02 265.45,380.98 266.15,381.61 266.84,381.85 267.54,381.61 268.24,379.70 268.94,381.43 269.64,382.28 270.33,381.49 271.03,382.70 271.73,380.49 272.43,380.18 273.12,380.47 273.82,379.97 274.52,382.52 275.22,382.79 275.91,382.17 276.61,381.60 277.31,381.80 278.01,384.35 278.70,382.80 279.40,381.88 280.10,382.95 280.80,382.53 281.49,384.59 282.19,384.84 282.89,382.51 283.59,382.49 284.28,382.05 284.98,384.80 285.68,383.29 286.38,384.10 287.08,383.02 287.77,382.67 288.47,384.30 289.17,384.26 289.87,383.29 290.56,385.45 291.26,383.66 291.96,384.97 292.66,382.79 293.35,384.28 294.05,384.19 294.75,383.41 295.45,384.59 296.14,387.11 296.84,385.33 297.54,384.53 298.24,384.35 298.93,384.64 299.63,384.30 300.33,384.21 301.03,386.14 301.72,384.33 302.42,385.03 303.12,386.02 303.82,385.48 304.52,386.34 305.21,383.39 305.91,386.45 306.61,385.52 307.31,386.31 308.00,386.27 308.70,387.62 309.40,386.34 310.10,385.06 310.79,385.59 311.49,387.06 312.19,384.79 312.89,388.33 313.58,388.20 314.28,387.22 314.98,387.18 315.68,386.14 316.37,385.32 317.07,386.80 317.77,387.38 318.47,387.86 319.16,386.71 319.86,389.39 320.56,386.84 321.26,389.04 321.96,388.09 322.65,387.42 323.35,388.44 324.05,388.41 324.75,388.42 325.44,389.10 326.14,387.62 326.84,388.24 327.54,388.55 328.23,387.70 328.93,388.66 329.63,389.00 330.33,386.29 331.02,387.28 331.72,388.48 332.42,388.17 333.12,388.61 333.81,387.89 334.51,388.86 335.21,386.92 335.91,388.39 336.60,387.90 337.30,387.39 338.00,388.44 338.70,389.05 339.40,389.43 340.09,388.85 340.79,390.27 341.49,389.16 342.19,389.50 342.88,390.75 343.58,387.50 344.28,390.07 344.98,388.53 345.67,387.61 346.37,388.71 347.07,390.76 347.77,390.62 348.46,390.14 349.16,390.43 349.86,389.47 350.56,389.73 351.25,388.88 351.95,391.21 352.65,388.77 353.35,392.34 354.04,391.48 354.74,388.84 355.44,389.61 356.14,392.32 356.84,390.92 357.53,390.80 358.23,389.31 358.93,392.50 359.63,390.15 360.32,391.71 361.02,391.56 361.72,391.90 362.42,389.67 363.11,389.93 363.81,391.38 364.51,393.26 365.21,392.16 365.90,392.33 366.60,390.71 367.30,393.67 368.00,391.68 368.69,390.84 369.39,391.50 370.09,392.24 370.79,390.76 371.48,392.33 372.18,391.61 372.88,392.16 373.58,390.22 374.28,394.08 374.97,390.99 375.67,392.86 376.37,393.73 377.07,393.09 377.76,393.09 378.46,391.72 379.16,393.85 379.86,392.30 380.55,392.53 381.25,395.10 381.95,393.51 382.65,394.24 383.34,391.42 384.04,394.13 384.74,394.21 385.44,393.05 386.13,396.14 386.83,394.75 387.53,392.64 388.23,392.90 388.92,396.17 389.62,392.64 390.32,393.72 391.02,394.67 391.72,392.82 392.41,395.34 393.11,396.08 393.81,393.43 394.51,396.27 395.20,392.46 395.90,395.40 396.60,396.98 397.30,396.27 397.99,396.09 398.69,396.62 399.39,397.04 400.09,395.81 400.78,395.73 401.48,395.17 402.18,394.90 402.88,397.92 403.57,396.80 404.27,397.92 404.97,397.85 405.67,396.61 406.36,396.67 407.06,396.81 407.76,399.49 408.46,395.87 409.16,396.62 409.85,395.86 410.55,396.39 411.25,396.82 411.95,397.18 412.64,397.64 413.34,396.89 414.04,399.42 414.74,397.08 415.43,398.36 416.13,396.87 416.83,398.35 417.53,400.55 418.22,397.26 418.92,399.76 419.62,398.71 420.32,398.26 421.01,398.36 421.71,398.57 422.41,398.09 423.11,398.32 423.80,399.52 424.50,397.28 425.20,399.39 425.90,398.43 426.60,397.52 427.29,399.77 427.99,398.09 428.69,397.56 429.39,398.53 430.08,399.23 430.78,401.05 431.48,400.10 432.18,400.75 432.87,399.24 433.57,399.30 434.27,400.17 434.97,401.57 435.66,399.72 436.36,399.74 437.06,400.62 437.76,400.49 438.45,399.46 439.15,400.36 439.85,399.26 440.55,399.16 441.24,399.70 441.94,399.73 442.64,400.86 443.34,402.13 444.04,404.58 444.73,402.28 445.43,402.28 446.13,402.29 446.83,400.81 447.52,401.86 448.22,400.92 448.92,402.17 449.62,402.84 450.31,401.63 451.01,403.48 451.71,404.10 452.41,402.60 453.10,403.07 453.80,400.77 454.50,402.71 455.20,404.82 455.89,402.86 456.59,401.72 457.29,402.03 457.99,402.62 458.68,404.97 459.38,403.40 460.08,403.65" fill="none" stroke="#a9cde6" stroke-width="2.3" stroke-linejoin="round" />
</g>
<line x1="247.80" y1="560.10" x2="250.80" y2="560.10" stroke="#000" stroke-width="1" />
<text transform="translate(244.80,562.70) scale(1.0,1.07)" font-size="9.4" text-anchor="end" font-weight="bold" fill="#000" >0</text>
<line x1="247.80" y1="523.72" x2="250.80" y2="523.72" stroke="#000" stroke-width="1" />
<text transform="translate(244.80,526.32) scale(1.0,1.07)" font-size="9.4" text-anchor="end" font-weight="bold" fill="#000" >20</text>
<line x1="247.80" y1="487.34" x2="250.80" y2="487.34" stroke="#000" stroke-width="1" />
<text transform="translate(244.80,489.94) scale(1.0,1.07)" font-size="9.4" text-anchor="end" font-weight="bold" fill="#000" >40</text>
<line x1="247.80" y1="450.96" x2="250.80" y2="450.96" stroke="#000" stroke-width="1" />
<text transform="translate(244.80,453.56) scale(1.0,1.07)" font-size="9.4" text-anchor="end" font-weight="bold" fill="#000" >60</text>
<line x1="247.80" y1="414.58" x2="250.80" y2="414.58" stroke="#000" stroke-width="1" />
<text transform="translate(244.80,417.18) scale(1.0,1.07)" font-size="9.4" text-anchor="end" font-weight="bold" fill="#000" >80</text>
<line x1="247.80" y1="378.20" x2="250.80" y2="378.20" stroke="#000" stroke-width="1" />
<text transform="translate(244.80,380.80) scale(1.0,1.07)" font-size="9.4" text-anchor="end" font-weight="bold" fill="#000" >100</text>
<line x1="248.80" y1="541.91" x2="250.80" y2="541.91" stroke="#000" stroke-width="1" />
<line x1="248.80" y1="505.53" x2="250.80" y2="505.53" stroke="#000" stroke-width="1" />
<line x1="248.80" y1="469.15" x2="250.80" y2="469.15" stroke="#000" stroke-width="1" />
<line x1="248.80" y1="432.77" x2="250.80" y2="432.77" stroke="#000" stroke-width="1" />
<line x1="248.80" y1="396.39" x2="250.80" y2="396.39" stroke="#000" stroke-width="1" />
<line x1="250.80" y1="560.10" x2="250.80" y2="563.10" stroke="#000" stroke-width="1" />
<text transform="translate(250.80,573.60) scale(1.0,1.07)" font-size="9.3" text-anchor="middle" font-weight="bold" fill="#000" >0</text>
<line x1="285.68" y1="560.10" x2="285.68" y2="563.10" stroke="#000" stroke-width="1" />
<text transform="translate(285.68,573.60) scale(1.0,1.07)" font-size="9.3" text-anchor="middle" font-weight="bold" fill="#000" >2</text>
<line x1="320.56" y1="560.10" x2="320.56" y2="563.10" stroke="#000" stroke-width="1" />
<text transform="translate(320.56,573.60) scale(1.0,1.07)" font-size="9.3" text-anchor="middle" font-weight="bold" fill="#000" >4</text>
<line x1="355.44" y1="560.10" x2="355.44" y2="563.10" stroke="#000" stroke-width="1" />
<text transform="translate(355.44,573.60) scale(1.0,1.07)" font-size="9.3" text-anchor="middle" font-weight="bold" fill="#000" >6</text>
<line x1="390.32" y1="560.10" x2="390.32" y2="563.10" stroke="#000" stroke-width="1" />
<text transform="translate(390.32,573.60) scale(1.0,1.07)" font-size="9.3" text-anchor="middle" font-weight="bold" fill="#000" >8</text>
<line x1="425.20" y1="560.10" x2="425.20" y2="563.10" stroke="#000" stroke-width="1" />
<text transform="translate(425.20,573.60) scale(1.0,1.07)" font-size="9.3" text-anchor="middle" font-weight="bold" fill="#000" >10</text>
<line x1="460.08" y1="560.10" x2="460.08" y2="563.10" stroke="#000" stroke-width="1" />
<text transform="translate(460.08,573.60) scale(1.0,1.07)" font-size="9.3" text-anchor="middle" font-weight="bold" fill="#000" >12</text>
<line x1="268.24" y1="560.10" x2="268.24" y2="562.10" stroke="#000" stroke-width="1" />
<line x1="303.12" y1="560.10" x2="303.12" y2="562.10" stroke="#000" stroke-width="1" />
<line x1="338.00" y1="560.10" x2="338.00" y2="562.10" stroke="#000" stroke-width="1" />
<line x1="372.88" y1="560.10" x2="372.88" y2="562.10" stroke="#000" stroke-width="1" />
<line x1="407.76" y1="560.10" x2="407.76" y2="562.10" stroke="#000" stroke-width="1" />
<line x1="442.64" y1="560.10" x2="442.64" y2="562.10" stroke="#000" stroke-width="1" />
<text transform="translate(356.00,591.00) scale(1.0,1.07)" font-size="10.2" text-anchor="middle" font-weight="bold" fill="#000" >Running time (h)</text>
<text x="0" y="0" font-size="10.2" text-anchor="middle" font-weight="bold" fill="#000" transform="translate(225.50,468.50) rotate(-90)">Normalized flux (%)</text>
<line x1="268.24" y1="379.00" x2="268.24" y2="475.00" stroke="#777" stroke-width="0.6" stroke-dasharray="1,1"/>
<text transform="translate(295.50,401.00) scale(1.0,1.07)" font-size="8.6" text-anchor="middle" font-weight="bold" fill="#000" >98.5%</text>
<text transform="translate(284.30,464.80) scale(1.0,1.07)" font-size="8.8" text-anchor="middle" font-weight="bold" fill="#000" >62%</text>
<text transform="translate(263.50,493.70) scale(1.0,1.07)" font-size="8.8" text-anchor="middle" font-weight="bold" fill="#000" >47%</text>
<line x1="283.00" y1="395.00" x2="270.00" y2="385.50" stroke="#555" stroke-width="0.7" />
<line x1="278.00" y1="456.00" x2="270.50" y2="446.50" stroke="#555" stroke-width="0.7" />
<line x1="262.00" y1="484.00" x2="267.50" y2="475.50" stroke="#555" stroke-width="0.7" />
<line x1="251.70" y1="505.80" x2="260.70" y2="505.80" stroke="#8fdcbf" stroke-width="1.2" />
<polygon points="256.20,502.81 253.21,505.80 256.20,508.79 259.19,505.80" fill="#8fdcbf"/>
<text transform="translate(265.90,509.00) scale(1.0,1.07)" font-size="8.9" text-anchor="start" font-weight="bold" fill="#000" >CNTs-PVDF<tspan dy="2.5" font-size="5.8">30</tspan><tspan dy="-2.5">&#160; 0 V</tspan></text>
<line x1="251.70" y1="517.85" x2="260.70" y2="517.85" stroke="#f7b081" stroke-width="1.2" />
<polygon points="256.20,514.86 253.21,517.85 256.20,520.84 259.19,517.85" fill="#f7b081"/>
<text transform="translate(265.90,521.05) scale(1.0,1.07)" font-size="8.9" text-anchor="start" font-weight="bold" fill="#000" >CNTs-PVDF<tspan dy="2.5" font-size="5.8">30</tspan><tspan dy="-2.5"> -1.35 V</tspan></text>
<line x1="251.70" y1="529.90" x2="260.70" y2="529.90" stroke="#8a9bd8" stroke-width="1.2" />
<polygon points="256.20,526.91 253.21,529.90 256.20,532.89 259.19,529.90" fill="#8a9bd8"/>
<text transform="translate(265.90,533.10) scale(1.0,1.07)" font-size="8.9" text-anchor="start" font-weight="bold" fill="#000" >CNTs-PVDF<tspan dy="2.5" font-size="5.8">40</tspan><tspan dy="-2.5"> -1.35 V</tspan></text>
<line x1="251.70" y1="541.95" x2="260.70" y2="541.95" stroke="#b8e27c" stroke-width="1.2" />
<polygon points="256.20,538.96 253.21,541.95 256.20,544.94 259.19,541.95" fill="#b8e27c"/>
<text transform="translate(265.90,545.15) scale(1.0,1.07)" font-size="8.9" text-anchor="start" font-weight="bold" fill="#000" >CNTs-PVDF<tspan dy="2.5" font-size="5.8">50</tspan><tspan dy="-2.5"> -1.35 V</tspan></text>
<line x1="251.70" y1="554.00" x2="260.70" y2="554.00" stroke="#d08fd6" stroke-width="1.2" />
<polygon points="256.20,551.01 253.21,554.00 256.20,556.99 259.19,554.00" fill="#d08fd6"/>
<text transform="translate(265.90,557.20) scale(1.0,1.07)" font-size="8.9" text-anchor="start" font-weight="bold" fill="#000" >CNTs-PVDF<tspan dy="2.5" font-size="5.8">60</tspan><tspan dy="-2.5"> -1.35 V</tspan></text>
<line x1="354.50" y1="529.90" x2="363.50" y2="529.90" stroke="#d6ad79" stroke-width="1.2" />
<polygon points="359.00,526.91 356.01,529.90 359.00,532.89 361.99,529.90" fill="#d6ad79"/>
<text transform="translate(368.60,533.10) scale(1.0,1.07)" font-size="8.9" text-anchor="start" font-weight="bold" fill="#000" >CNTs-PVDF<tspan dy="2.5" font-size="5.8">75</tspan><tspan dy="-2.5"> -1.35 V</tspan></text>
<line x1="354.50" y1="541.95" x2="363.50" y2="541.95" stroke="#e66fc6" stroke-width="1.2" />
<polygon points="359.00,538.96 356.01,541.95 359.00,544.94 361.99,541.95" fill="#e66fc6"/>
<text transform="translate(368.60,545.15) scale(1.0,1.07)" font-size="8.9" text-anchor="start" font-weight="bold" fill="#000" >CNTs-PVDF<tspan dy="2.5" font-size="5.8">85</tspan><tspan dy="-2.5"> -1.35 V</tspan></text>
<line x1="354.50" y1="554.00" x2="363.50" y2="554.00" stroke="#a9cde6" stroke-width="1.2" />
<polygon points="359.00,551.01 356.01,554.00 359.00,556.99 361.99,554.00" fill="#a9cde6"/>
<text transform="translate(368.60,557.20) scale(1.0,1.07)" font-size="8.9" text-anchor="start" font-weight="bold" fill="#000" >CNTs-PVDF<tspan dy="2.5" font-size="5.8">100</tspan><tspan dy="-2.5"> -1.35 V</tspan></text>
<text transform="translate(469.60,372.80) scale(1.0,1.07)" font-size="20.5" text-anchor="start" font-weight="bold" fill="#000" >i</text>
<rect x="509.50" y="378.50" width="170.90" height="181.70" fill="none" stroke="#111" stroke-width="1.25"/>
<line x1="506.30" y1="378.40" x2="509.50" y2="378.40" stroke="#000" stroke-width="1" />
<text transform="translate(504.20,381.10) scale(1.0,1.07)" font-size="9.4" text-anchor="end" font-weight="bold" fill="#000" >&#8722;20</text>
<line x1="506.30" y1="404.08" x2="509.50" y2="404.08" stroke="#000" stroke-width="1" />
<text transform="translate(504.20,406.78) scale(1.0,1.07)" font-size="9.4" text-anchor="end" font-weight="bold" fill="#000" >&#8722;16</text>
<line x1="506.30" y1="429.76" x2="509.50" y2="429.76" stroke="#000" stroke-width="1" />
<text transform="translate(504.20,432.46) scale(1.0,1.07)" font-size="9.4" text-anchor="end" font-weight="bold" fill="#000" >&#8722;12</text>
<line x1="506.30" y1="455.44" x2="509.50" y2="455.44" stroke="#000" stroke-width="1" />
<text transform="translate(504.20,458.14) scale(1.0,1.07)" font-size="9.4" text-anchor="end" font-weight="bold" fill="#000" >&#8722;8</text>
<line x1="506.30" y1="481.12" x2="509.50" y2="481.12" stroke="#000" stroke-width="1" />
<text transform="translate(504.20,483.82) scale(1.0,1.07)" font-size="9.4" text-anchor="end" font-weight="bold" fill="#000" >&#8722;4</text>
<line x1="506.30" y1="506.80" x2="509.50" y2="506.80" stroke="#000" stroke-width="1" />
<text transform="translate(504.20,509.50) scale(1.0,1.07)" font-size="9.4" text-anchor="end" font-weight="bold" fill="#000" >0</text>
<line x1="506.30" y1="560.20" x2="509.50" y2="560.20" stroke="#000" stroke-width="1" />
<text transform="translate(504.20,562.90) scale(1.0,1.07)" font-size="9.4" text-anchor="end" font-weight="bold" fill="#000" >&#8722;1</text>
<line x1="507.50" y1="391.24" x2="509.50" y2="391.24" stroke="#000" stroke-width="1" />
<line x1="507.50" y1="416.92" x2="509.50" y2="416.92" stroke="#000" stroke-width="1" />
<line x1="507.50" y1="442.60" x2="509.50" y2="442.60" stroke="#000" stroke-width="1" />
<line x1="507.50" y1="468.28" x2="509.50" y2="468.28" stroke="#000" stroke-width="1" />
<line x1="507.50" y1="493.96" x2="509.50" y2="493.96" stroke="#000" stroke-width="1" />
<line x1="507.50" y1="533.45" x2="509.50" y2="533.45" stroke="#000" stroke-width="1" />
<defs><pattern id="hx0" width="3.2" height="3.2" patternUnits="userSpaceOnUse" patternTransform="rotate(45)"><rect width="3.2" height="3.2" fill="#a3dec3"/><line x1="0" y1="0" x2="0" y2="3.2" stroke="#333" stroke-width="0.55"/><line x1="0" y1="0" x2="3.2" y2="0" stroke="#333" stroke-width="0.55"/></pattern><pattern id="hx1" width="3.2" height="3.2" patternUnits="userSpaceOnUse" patternTransform="rotate(45)"><rect width="3.2" height="3.2" fill="#8fa0d9"/><line x1="0" y1="0" x2="0" y2="3.2" stroke="#333" stroke-width="0.55"/><line x1="0" y1="0" x2="3.2" y2="0" stroke="#333" stroke-width="0.55"/></pattern><pattern id="hx2" width="3.2" height="3.2" patternUnits="userSpaceOnUse" patternTransform="rotate(45)"><rect width="3.2" height="3.2" fill="#d8b584"/><line x1="0" y1="0" x2="0" y2="3.2" stroke="#333" stroke-width="0.55"/><line x1="0" y1="0" x2="3.2" y2="0" stroke="#333" stroke-width="0.55"/></pattern><pattern id="hx3" width="3.2" height="3.2" patternUnits="userSpaceOnUse" patternTransform="rotate(45)"><rect width="3.2" height="3.2" fill="#c4e57e"/><line x1="0" y1="0" x2="0" y2="3.2" stroke="#333" stroke-width="0.55"/><line x1="0" y1="0" x2="3.2" y2="0" stroke="#333" stroke-width="0.55"/></pattern><pattern id="hx4" width="3.2" height="3.2" patternUnits="userSpaceOnUse" patternTransform="rotate(45)"><rect width="3.2" height="3.2" fill="#f8b68c"/><line x1="0" y1="0" x2="0" y2="3.2" stroke="#333" stroke-width="0.55"/><line x1="0" y1="0" x2="3.2" y2="0" stroke="#333" stroke-width="0.55"/></pattern><pattern id="hx5" width="3.2" height="3.2" patternUnits="userSpaceOnUse" patternTransform="rotate(45)"><rect width="3.2" height="3.2" fill="#e47bc8"/><line x1="0" y1="0" x2="0" y2="3.2" stroke="#333" stroke-width="0.55"/><line x1="0" y1="0" x2="3.2" y2="0" stroke="#333" stroke-width="0.55"/></pattern><pattern id="hx6" width="3.2" height="3.2" patternUnits="userSpaceOnUse" patternTransform="rotate(45)"><rect width="3.2" height="3.2" fill="#a9cfe6"/><line x1="0" y1="0" x2="0" y2="3.2" stroke="#333" stroke-width="0.55"/><line x1="0" y1="0" x2="3.2" y2="0" stroke="#333" stroke-width="0.55"/></pattern></defs>
<rect x="515.20" y="496.59" width="12.60" height="10.21" fill="#a3dec3" />
<rect x="515.20" y="506.80" width="12.60" height="10.19" fill="url(#hx0)" />
<text transform="translate(520.00,494.19) scale(1.0,1.07)" font-size="8.7" text-anchor="middle" font-weight="bold" fill="#000" >&#8722;1.59</text>
<text transform="translate(521.50,525.89) scale(0.83,1.07)" font-size="8.8" text-anchor="middle" font-weight="bold" fill="#000" >&#8722;0.196</text>
<line x1="521.50" y1="560.20" x2="521.50" y2="563.20" stroke="#000" stroke-width="1" />
<text transform="translate(521.50,572.80) scale(1.0,1.07)" font-size="9.4" text-anchor="middle" font-weight="bold" fill="#000" >30</text>
<rect x="539.62" y="480.16" width="12.60" height="26.64" fill="#8fa0d9" />
<rect x="539.62" y="506.80" width="12.60" height="8.58" fill="url(#hx1)" />
<text transform="translate(544.42,477.76) scale(1.0,1.07)" font-size="8.7" text-anchor="middle" font-weight="bold" fill="#000" >&#8722;4.15</text>
<text transform="translate(545.92,524.28) scale(0.83,1.07)" font-size="8.8" text-anchor="middle" font-weight="bold" fill="#000" >&#8722;0.165</text>
<line x1="545.92" y1="560.20" x2="545.92" y2="563.20" stroke="#000" stroke-width="1" />
<text transform="translate(545.92,572.80) scale(1.0,1.07)" font-size="9.4" text-anchor="middle" font-weight="bold" fill="#000" >40</text>
<rect x="564.04" y="461.15" width="12.60" height="45.65" fill="#d8b584" />
<rect x="564.04" y="506.80" width="12.60" height="8.16" fill="url(#hx2)" />
<text transform="translate(568.84,458.75) scale(1.0,1.07)" font-size="8.7" text-anchor="middle" font-weight="bold" fill="#000" >&#8722;7.11</text>
<text transform="translate(570.34,523.86) scale(0.83,1.07)" font-size="8.8" text-anchor="middle" font-weight="bold" fill="#000" >&#8722;0.157</text>
<line x1="570.34" y1="560.20" x2="570.34" y2="563.20" stroke="#000" stroke-width="1" />
<text transform="translate(570.34,572.80) scale(1.0,1.07)" font-size="9.4" text-anchor="middle" font-weight="bold" fill="#000" >50</text>
<rect x="588.46" y="451.01" width="12.60" height="55.79" fill="#c4e57e" />
<rect x="588.46" y="506.80" width="12.60" height="8.94" fill="url(#hx3)" />
<text transform="translate(593.26,448.61) scale(1.0,1.07)" font-size="8.7" text-anchor="middle" font-weight="bold" fill="#000" >&#8722;8.69</text>
<text transform="translate(594.76,524.64) scale(0.83,1.07)" font-size="8.8" text-anchor="middle" font-weight="bold" fill="#000" >&#8722;0.172</text>
<line x1="594.76" y1="560.20" x2="594.76" y2="563.20" stroke="#000" stroke-width="1" />
<text transform="translate(594.76,572.80) scale(1.0,1.07)" font-size="9.4" text-anchor="middle" font-weight="bold" fill="#000" >60</text>
<rect x="612.88" y="424.62" width="12.60" height="82.18" fill="#f8b68c" />
<rect x="612.88" y="506.80" width="12.60" height="8.74" fill="url(#hx4)" />
<text transform="translate(617.68,422.22) scale(1.0,1.07)" font-size="8.7" text-anchor="middle" font-weight="bold" fill="#000" >&#8722;12.80</text>
<text transform="translate(619.18,524.44) scale(0.83,1.07)" font-size="8.8" text-anchor="middle" font-weight="bold" fill="#000" >&#8722;0.168</text>
<line x1="619.18" y1="560.20" x2="619.18" y2="563.20" stroke="#000" stroke-width="1" />
<text transform="translate(619.18,572.80) scale(1.0,1.07)" font-size="9.4" text-anchor="middle" font-weight="bold" fill="#000" >75</text>
<rect x="637.30" y="401.64" width="12.60" height="105.16" fill="#e47bc8" />
<rect x="637.30" y="506.80" width="12.60" height="9.41" fill="url(#hx5)" />
<text transform="translate(642.10,399.24) scale(1.0,1.07)" font-size="8.7" text-anchor="middle" font-weight="bold" fill="#000" >&#8722;16.38</text>
<text transform="translate(643.60,525.11) scale(0.83,1.07)" font-size="8.8" text-anchor="middle" font-weight="bold" fill="#000" >&#8722;0.181</text>
<line x1="643.60" y1="560.20" x2="643.60" y2="563.20" stroke="#000" stroke-width="1" />
<text transform="translate(643.60,572.80) scale(1.0,1.07)" font-size="9.4" text-anchor="middle" font-weight="bold" fill="#000" >85</text>
<rect x="661.72" y="392.78" width="12.60" height="114.02" fill="#a9cfe6" />
<rect x="661.72" y="506.80" width="12.60" height="8.06" fill="url(#hx6)" />
<text transform="translate(666.52,390.38) scale(1.0,1.07)" font-size="8.7" text-anchor="middle" font-weight="bold" fill="#000" >&#8722;17.76</text>
<text transform="translate(668.02,523.76) scale(0.83,1.07)" font-size="8.8" text-anchor="middle" font-weight="bold" fill="#000" >&#8722;0.155</text>
<line x1="668.02" y1="560.20" x2="668.02" y2="563.20" stroke="#000" stroke-width="1" />
<text transform="translate(668.02,572.80) scale(1.0,1.07)" font-size="9.4" text-anchor="middle" font-weight="bold" fill="#000" >100</text>
<line x1="509.50" y1="506.80" x2="680.40" y2="506.80" stroke="#222" stroke-width="1.5" />
<text transform="translate(512.50,390.30) scale(1.0,1.07)" font-size="8.8" text-anchor="start" font-weight="bold" fill="#000" >CNTs-PVDF<tspan dy="2.5" font-size="6.3">X</tspan><tspan dy="-2.5"> -1.35 V</tspan></text>
<text transform="translate(512.50,554.20) scale(1.0,1.07)" font-size="8.8" text-anchor="start" font-weight="bold" fill="#000" >CNTs-PVDF<tspan dy="2.5" font-size="6.3">X</tspan><tspan dy="-2.5"> 0 V</tspan></text>
<text transform="translate(593.70,589.50) scale(1.0,1.07)" font-size="10.2" text-anchor="middle" font-weight="bold" fill="#000" >CNTs-PVDF<tspan dy="2.5" font-size="7">X</tspan></text>
<text x="0" y="0" font-size="10.2" text-anchor="middle" font-weight="bold" fill="#000" transform="translate(487.20,466.00) rotate(-90)">Surface charge density (mC m<tspan dy="-3" font-size="6.8">-2</tspan><tspan dy="3">)</tspan></text>
<text transform="translate(16.50,598.20) scale(1.0,1.07)" font-size="21" text-anchor="start" font-weight="bold" fill="#000" >g</text>
<rect x="36.20" y="648.60" width="643.50" height="4.00" fill="#d9d9d9" />
<rect x="36.20" y="702.00" width="643.50" height="4.00" fill="#d9d9d9" />
<rect x="36.20" y="755.20" width="643.50" height="4.00" fill="#d9d9d9" />
<rect x="36.20" y="808.50" width="643.50" height="4.00" fill="#d9d9d9" />
<polyline points="35.70,611.53 37.27,611.32 38.85,611.72 40.42,611.77 41.99,612.05 43.57,611.62 45.14,612.45 46.71,612.31 48.28,612.07 49.86,611.84 51.43,612.14 53.00,612.15 54.58,611.94 56.15,613.12 57.72,612.36 59.30,612.45 60.87,612.21 62.44,613.26 64.01,611.91 65.59,613.31 67.16,613.39 68.73,613.42 70.31,613.73 71.88,613.51 73.45,613.84 75.03,614.26 76.60,614.99 78.17,614.58 79.75,614.75 81.32,614.89 82.89,615.30 84.46,615.28 86.04,615.49 87.61,615.68 89.18,615.76 90.76,616.84 92.33,615.75 93.90,616.38 95.48,616.45 97.05,617.33 98.62,617.30 100.20,616.69 101.77,617.39 103.34,617.62 104.91,617.62 106.49,618.11 108.06,617.73 109.63,618.71 111.21,618.46 112.78,618.75 114.35,619.10 115.93,619.32 117.50,619.61 119.07,619.99 120.64,619.69 122.22,619.53 123.79,619.94 125.36,619.62 126.94,620.84 128.51,621.06 130.08,620.93 131.66,621.01 133.23,620.57 134.80,621.50 136.38,621.65 137.95,621.33 139.52,621.95 141.09,621.43 142.67,621.82 144.24,621.69 145.81,621.96 147.39,621.84 148.96,621.49 150.53,621.98 152.11,621.70 153.68,622.57 155.25,622.15 156.83,621.95 158.40,622.83 159.97,622.75 161.54,623.01 163.12,622.60 164.69,623.06 166.26,623.53 167.84,623.56 169.41,623.11 170.98,623.21 172.56,623.39 174.13,623.33 175.70,623.11 177.27,623.74 178.85,623.27 180.42,624.00 181.99,622.60 183.57,623.88 185.14,624.27 186.71,624.27 188.29,624.86 189.86,623.94 191.43,623.88 193.01,624.06 194.58,624.55 196.15,624.11 197.72,625.08 199.30,624.82 200.87,624.65 202.44,624.79 204.02,625.34 205.59,625.32 207.16,624.88 208.74,625.38 210.31,626.09 211.88,624.95 213.46,625.84 215.03,625.49 216.60,625.44 218.17,625.59 219.75,625.90 221.32,626.12 222.89,625.91 224.47,626.36 226.04,626.25 227.61,626.57 229.19,626.75 230.76,626.54 232.33,626.11 233.90,626.76 235.48,626.75 237.05,626.60 238.62,627.49 240.20,626.88 241.77,627.38 243.34,627.32 244.92,626.83 246.49,626.91 248.06,626.83 249.64,627.88 251.21,628.08 252.78,627.55 254.35,627.82 255.93,628.85 257.50,627.64 259.07,627.89 260.65,627.91 262.22,627.56 263.79,628.04 265.37,628.58 266.94,629.30 268.51,628.77 270.09,629.09 271.66,628.97 273.23,628.97 274.80,629.31 276.38,629.32 277.95,629.29 279.52,629.27 281.10,629.04 282.67,629.96 284.24,629.98 285.82,628.98 287.39,629.87 288.96,629.91 290.53,630.63 292.11,629.85 293.68,629.88 295.25,630.12 296.83,631.17 298.40,630.84 299.97,630.83 301.55,630.79 303.12,630.53 304.69,630.75 306.27,631.76 307.84,631.30 309.41,631.29 310.98,631.21 312.56,631.42 314.13,631.02 315.70,631.83 317.28,632.07 318.85,631.99 320.42,632.17 322.00,632.44 323.57,632.22 325.14,632.33 326.71,633.02 328.29,632.67 329.86,632.89 331.43,632.30 333.01,632.75 334.58,632.99 336.15,633.12 337.73,632.79 339.30,633.90 340.87,633.62 342.45,633.09 344.02,633.93 345.59,634.18 347.16,633.85 348.74,634.00 350.31,633.68 351.88,634.19 353.46,633.43 355.03,633.83 356.60,634.24 358.18,633.88 359.75,634.30 361.32,634.02 362.90,634.45 364.47,633.76 366.04,634.07 367.61,634.67 369.19,634.38 370.76,634.69 372.33,635.17 373.91,634.73 375.48,634.67 377.05,635.13 378.63,634.43 380.20,634.16 381.77,635.37 383.34,635.37 384.92,635.21 386.49,635.03 388.06,635.55 389.64,635.45 391.21,634.97 392.78,635.75 394.36,635.47 395.93,636.00 397.50,635.61 399.08,635.86 400.65,635.29 402.22,635.81 403.79,636.05 405.37,636.06 406.94,635.54 408.51,635.76 410.09,636.19 411.66,636.69 413.23,636.26 414.81,635.91 416.38,636.31 417.95,636.92 419.53,636.37 421.10,636.64 422.67,636.61 424.24,636.74 425.82,637.05 427.39,637.11 428.96,636.55 430.54,636.77 432.11,637.34 433.68,637.66 435.26,636.76 436.83,637.00 438.40,637.20 439.97,637.48 441.55,636.74 443.12,637.95 444.69,637.63 446.27,637.37 447.84,637.48 449.41,637.50 450.99,638.22 452.56,637.55 454.13,637.47 455.71,638.11 457.28,637.65 458.85,638.17 460.42,638.12 462.00,638.19 463.57,638.31 465.14,638.27 466.72,637.95 468.29,637.97 469.86,638.27 471.44,638.36 473.01,639.03 474.58,638.74 476.16,638.57 477.73,638.77 479.30,639.02 480.87,639.24 482.45,638.65 484.02,638.83 485.59,640.05 487.17,638.20 488.74,639.02 490.31,639.23 491.89,638.96 493.46,639.22 495.03,638.90 496.60,639.68 498.18,639.27 499.75,639.38 501.32,640.32 502.90,639.05 504.47,639.97 506.04,640.36 507.62,639.98 509.19,639.66 510.76,640.42 512.34,640.21 513.91,640.35 515.48,640.34 517.05,641.23 518.63,639.92 520.20,640.79 521.77,640.28 523.35,640.57 524.92,641.28 526.49,640.74 528.07,641.11 529.64,640.89 531.21,641.12 532.78,641.00 534.36,641.06 535.93,641.00 537.50,640.94 539.08,641.54 540.65,640.81 542.22,640.63 543.80,641.29 545.37,640.74 546.94,641.05 548.52,641.12 550.09,641.78 551.66,641.25 553.23,642.44 554.81,642.46 556.38,641.66 557.95,641.35 559.53,641.87 561.10,642.42 562.67,642.60 564.25,642.10 565.82,642.13 567.39,642.83 568.97,642.55 570.54,642.68 572.11,642.92 573.68,643.66 575.26,643.33 576.83,643.08 578.40,642.55 579.98,642.81 581.55,643.55 583.12,643.88 584.70,643.53 586.27,643.95 587.84,643.86 589.41,643.76 590.99,644.01 592.56,643.91 594.13,643.71 595.71,644.94 597.28,644.07 598.85,645.40 600.43,645.12 602.00,644.52 603.57,645.40 605.15,645.44 606.72,645.23 608.29,645.70 609.86,645.66 611.44,645.61 613.01,645.87 614.58,646.10 616.16,646.25 617.73,646.51 619.30,646.04 620.88,645.28 622.45,646.61 624.02,647.14 625.60,646.05 627.17,646.44 628.74,647.07 630.31,647.29 631.89,647.28 633.46,647.22 635.03,647.81 636.61,647.49 638.18,648.44 639.75,648.16 641.33,648.27 642.90,648.19 644.47,648.19 646.04,648.37 647.62,648.34 649.19,648.08 650.76,647.73 652.34,648.86 653.91,648.72 655.48,649.07 657.06,649.03 658.63,649.39 660.20,649.47 661.78,649.33 663.35,649.07 664.92,649.62" fill="none" stroke="#e87ac4" stroke-width="3.0" stroke-linejoin="round" />
<polyline points="36.03,612.39 36.39,617.94 36.76,621.78 37.12,623.35 37.48,624.25 37.85,625.36 38.21,627.06 38.57,628.24 38.94,628.10 39.30,627.75 39.66,628.91 40.03,628.54 40.39,630.93 40.75,629.97 41.12,631.52 41.48,632.58 41.84,631.45 42.21,631.34 42.57,631.65 42.93,631.41 43.30,632.50 43.66,634.68 44.02,632.58 44.39,632.70 44.75,634.02 45.11,634.33 45.48,634.24 45.84,634.51 46.20,635.73 46.57,634.31 46.93,634.00 47.29,635.16 47.66,635.75 48.02,638.67 48.38,635.93 48.75,636.12 49.11,636.26 49.47,636.75 49.84,637.80 50.20,637.21 50.56,637.62 50.93,637.71 51.29,637.32 51.65,637.98 52.02,638.68 52.38,639.34 52.74,640.23 53.11,637.65 53.47,639.45 53.83,638.60 54.20,639.37 54.56,639.78 54.92,639.69 55.29,640.23 55.65,639.26 56.01,641.08 56.38,641.12 56.74,641.22 57.10,641.10 57.47,640.45 57.83,642.39 58.19,643.95 58.56,641.91 58.92,641.95 59.28,642.76 59.65,642.92 60.01,642.62 60.37,644.05 60.74,644.30 61.10,645.09 61.46,644.14 61.83,644.86 62.19,644.57 62.55,645.66 62.92,646.68 63.28,644.51 63.64,645.38 64.01,645.15 64.37,645.29 64.73,647.89 65.10,646.26 65.46,648.11 65.82,649.17 66.19,648.68 66.55,648.57 66.91,647.02 67.28,648.91 67.64,649.18 68.00,648.99 68.37,649.35 68.73,650.03" fill="none" stroke="#5a96e8" stroke-width="3.4" stroke-linejoin="round" />
<polyline points="36.03,663.09 36.45,674.18 36.87,676.73 37.29,678.34 37.71,678.75 38.13,679.56 38.55,680.23 38.97,681.09 39.39,680.69 39.81,682.21 40.23,684.10 40.65,684.12 41.07,685.31 41.49,685.49 41.91,685.90 42.33,684.74 42.75,687.74 43.17,688.18 43.59,687.50 44.01,689.10 44.43,689.64 44.85,689.13 45.28,690.72 45.70,689.37 46.12,690.43 46.54,691.59 46.96,691.54 47.38,692.18 47.80,690.76 48.22,692.11 48.64,692.31 49.06,693.35 49.48,691.71 49.90,693.22 50.32,693.99 50.74,692.52 51.16,693.70 51.58,694.54 52.00,693.75 52.42,695.12 52.84,695.06 53.26,694.46 53.68,696.24 54.10,695.56 54.52,695.54 54.94,695.28 55.36,696.44 55.78,696.58 56.20,696.02 56.62,696.56 57.04,695.82 57.46,696.09 57.88,695.95 58.30,696.02 58.72,697.08 59.14,696.59 59.56,696.22 59.98,695.50 60.40,696.29 60.82,696.56 61.24,695.09 61.66,697.09 62.08,695.78 62.50,696.47 62.92,698.05 63.34,697.31 63.76,696.84 64.18,698.51 64.60,696.67 65.03,698.33 65.45,697.75 65.87,698.43 66.29,698.11 66.71,699.17 67.13,697.54 67.55,699.53 67.97,697.80 68.39,699.58 68.81,700.32 69.23,699.30 69.65,700.12 70.07,700.72 70.49,701.72 70.91,701.29 71.33,701.47 71.75,702.31 72.17,702.89 72.59,702.97 73.01,703.34 73.43,702.00 73.85,702.46" fill="none" stroke="#6ccf98" stroke-width="3.4" stroke-linejoin="round" />
<polyline points="36.03,718.59 36.51,726.09 36.99,730.71 37.47,731.07 37.95,732.73 38.42,733.21 38.90,733.12 39.38,734.94 39.86,735.87 40.34,735.44 40.82,737.28 41.30,738.08 41.78,739.60 42.26,738.79 42.74,739.78 43.21,740.59 43.69,740.82 44.17,740.04 44.65,741.56 45.13,741.99 45.61,742.15 46.09,742.56 46.57,742.27 47.05,743.62 47.52,744.10 48.00,744.71 48.48,744.43 48.96,745.94 49.44,745.71 49.92,746.83 50.40,745.91 50.88,746.20 51.36,746.40 51.84,746.86 52.31,747.31 52.79,746.68 53.27,748.79 53.75,748.08 54.23,746.20 54.71,747.47 55.19,746.71 55.67,746.59 56.15,748.17 56.62,749.22 57.10,748.35 57.58,749.57 58.06,749.02 58.54,749.09 59.02,748.28 59.50,749.83 59.98,750.04 60.46,750.26 60.93,748.40 61.41,750.41 61.89,749.77 62.37,751.17 62.85,750.99 63.33,748.70 63.81,751.58 64.29,750.62 64.77,750.73 65.25,750.85 65.72,750.63 66.20,751.73 66.68,750.49 67.16,751.51 67.64,752.04 68.12,751.60 68.60,752.03 69.08,752.36 69.56,751.97 70.03,753.19 70.51,752.41 70.99,753.18 71.47,755.05 71.95,752.46 72.43,753.54 72.91,753.86 73.39,754.11 73.87,755.19 74.35,755.17 74.82,754.02 75.30,754.79 75.78,753.94 76.26,753.67 76.74,755.84 77.22,756.97 77.70,755.10 78.18,755.95 78.66,755.47 79.13,756.85" fill="none" stroke="#48b6c8" stroke-width="3.4" stroke-linejoin="round" />
<polyline points="36.03,771.05 36.60,773.94 37.18,774.09 37.75,777.36 38.32,778.37 38.89,781.49 39.47,783.00 40.04,782.85 40.61,783.42 41.18,786.87 41.76,786.19 42.33,786.25 42.90,786.67 43.47,788.32 44.05,789.75 44.62,789.72 45.19,791.12 45.76,793.45 46.34,793.25 46.91,791.95 47.48,793.36 48.05,792.72 48.63,793.00 49.20,796.06 49.77,794.56 50.34,796.27 50.92,794.74 51.49,797.53 52.06,795.59 52.63,797.23 53.21,797.39 53.78,797.60 54.35,798.70 54.92,798.46 55.50,796.26 56.07,799.01 56.64,799.98 57.21,798.04 57.79,799.32 58.36,800.31 58.93,800.48 59.50,802.18 60.08,801.81 60.65,802.49 61.22,800.79 61.79,801.50 62.37,802.51 62.94,803.74 63.51,804.43 64.08,803.97 64.66,804.60 65.23,803.99 65.80,805.55 66.37,804.48 66.95,804.95 67.52,805.87 68.09,805.35 68.66,806.49 69.24,806.39 69.81,806.89 70.38,804.91 70.95,807.60 71.53,806.54 72.10,807.55 72.67,807.44 73.24,806.44 73.82,807.40 74.39,807.51 74.96,809.22 75.53,808.17 76.11,806.34 76.68,807.33 77.25,810.50 77.82,809.42 78.40,808.61 78.97,809.64 79.54,808.44 80.11,809.28 80.69,807.39 81.26,807.50 81.83,807.66 82.40,809.41 82.98,808.39 83.55,807.71 84.12,809.34 84.69,808.70 85.27,809.49 85.84,808.61 86.41,807.62 86.98,808.84 87.56,807.07" fill="none" stroke="#c0bb42" stroke-width="3.4" stroke-linejoin="round" />
<rect x="35.70" y="610.40" width="644.20" height="214.20" fill="none" stroke="#111" stroke-width="1.25"/>
<line x1="32.40" y1="610.50" x2="35.70" y2="610.50" stroke="#000" stroke-width="1" />
<text transform="translate(29.40,613.50) scale(1.0,1.07)" font-size="9.0" text-anchor="end" font-weight="bold" fill="#000" >100</text>
<line x1="32.40" y1="621.98" x2="35.70" y2="621.98" stroke="#000" stroke-width="1" />
<text transform="translate(29.40,624.98) scale(1.0,1.07)" font-size="9.0" text-anchor="end" font-weight="bold" fill="#000" >85</text>
<line x1="32.40" y1="633.45" x2="35.70" y2="633.45" stroke="#000" stroke-width="1" />
<text transform="translate(29.40,636.45) scale(1.0,1.07)" font-size="9.0" text-anchor="end" font-weight="bold" fill="#000" >70</text>
<line x1="32.40" y1="644.92" x2="35.70" y2="644.92" stroke="#000" stroke-width="1" />
<text transform="translate(29.40,647.92) scale(1.0,1.07)" font-size="9.0" text-anchor="end" font-weight="bold" fill="#000" >55</text>
<line x1="32.40" y1="656.40" x2="35.70" y2="656.40" stroke="#000" stroke-width="1" />
<text transform="translate(29.40,659.40) scale(1.0,1.07)" font-size="9.0" text-anchor="end" font-weight="bold" fill="#000" >40</text>
<line x1="32.40" y1="663.90" x2="35.70" y2="663.90" stroke="#000" stroke-width="1" />
<text transform="translate(29.40,666.90) scale(1.0,1.07)" font-size="9.0" text-anchor="end" font-weight="bold" fill="#000" >100</text>
<line x1="32.40" y1="675.38" x2="35.70" y2="675.38" stroke="#000" stroke-width="1" />
<text transform="translate(29.40,678.38) scale(1.0,1.07)" font-size="9.0" text-anchor="end" font-weight="bold" fill="#000" >85</text>
<line x1="32.40" y1="686.85" x2="35.70" y2="686.85" stroke="#000" stroke-width="1" />
<text transform="translate(29.40,689.85) scale(1.0,1.07)" font-size="9.0" text-anchor="end" font-weight="bold" fill="#000" >70</text>
<line x1="32.40" y1="698.32" x2="35.70" y2="698.32" stroke="#000" stroke-width="1" />
<text transform="translate(29.40,701.32) scale(1.0,1.07)" font-size="9.0" text-anchor="end" font-weight="bold" fill="#000" >55</text>
<line x1="32.40" y1="709.80" x2="35.70" y2="709.80" stroke="#000" stroke-width="1" />
<text transform="translate(29.40,712.80) scale(1.0,1.07)" font-size="9.0" text-anchor="end" font-weight="bold" fill="#000" >40</text>
<line x1="32.40" y1="717.10" x2="35.70" y2="717.10" stroke="#000" stroke-width="1" />
<text transform="translate(29.40,720.10) scale(1.0,1.07)" font-size="9.0" text-anchor="end" font-weight="bold" fill="#000" >100</text>
<line x1="32.40" y1="728.58" x2="35.70" y2="728.58" stroke="#000" stroke-width="1" />
<text transform="translate(29.40,731.58) scale(1.0,1.07)" font-size="9.0" text-anchor="end" font-weight="bold" fill="#000" >85</text>
<line x1="32.40" y1="740.05" x2="35.70" y2="740.05" stroke="#000" stroke-width="1" />
<text transform="translate(29.40,743.05) scale(1.0,1.07)" font-size="9.0" text-anchor="end" font-weight="bold" fill="#000" >70</text>
<line x1="32.40" y1="751.52" x2="35.70" y2="751.52" stroke="#000" stroke-width="1" />
<text transform="translate(29.40,754.52) scale(1.0,1.07)" font-size="9.0" text-anchor="end" font-weight="bold" fill="#000" >55</text>
<line x1="32.40" y1="763.00" x2="35.70" y2="763.00" stroke="#000" stroke-width="1" />
<text transform="translate(29.40,766.00) scale(1.0,1.07)" font-size="9.0" text-anchor="end" font-weight="bold" fill="#000" >40</text>
<line x1="32.40" y1="770.40" x2="35.70" y2="770.40" stroke="#000" stroke-width="1" />
<text transform="translate(29.40,773.40) scale(1.0,1.07)" font-size="9.0" text-anchor="end" font-weight="bold" fill="#000" >100</text>
<line x1="32.40" y1="781.88" x2="35.70" y2="781.88" stroke="#000" stroke-width="1" />
<text transform="translate(29.40,784.88) scale(1.0,1.07)" font-size="9.0" text-anchor="end" font-weight="bold" fill="#000" >85</text>
<line x1="32.40" y1="793.35" x2="35.70" y2="793.35" stroke="#000" stroke-width="1" />
<text transform="translate(29.40,796.35) scale(1.0,1.07)" font-size="9.0" text-anchor="end" font-weight="bold" fill="#000" >70</text>
<line x1="32.40" y1="804.82" x2="35.70" y2="804.82" stroke="#000" stroke-width="1" />
<text transform="translate(29.40,807.82) scale(1.0,1.07)" font-size="9.0" text-anchor="end" font-weight="bold" fill="#000" >55</text>
<line x1="32.40" y1="816.30" x2="35.70" y2="816.30" stroke="#000" stroke-width="1" />
<text transform="translate(29.40,819.30) scale(1.0,1.07)" font-size="9.0" text-anchor="end" font-weight="bold" fill="#000" >40</text>
<line x1="35.70" y1="824.60" x2="35.70" y2="827.80" stroke="#000" stroke-width="1" />
<text transform="translate(35.70,838.60) scale(1.0,1.07)" font-size="10.0" text-anchor="middle" font-weight="bold" fill="#000" >0</text>
<line x1="85.25" y1="824.60" x2="85.25" y2="827.80" stroke="#000" stroke-width="1" />
<text transform="translate(85.25,838.60) scale(1.0,1.07)" font-size="10.0" text-anchor="middle" font-weight="bold" fill="#000" >3</text>
<line x1="134.79" y1="824.60" x2="134.79" y2="827.80" stroke="#000" stroke-width="1" />
<text transform="translate(134.79,838.60) scale(1.0,1.07)" font-size="10.0" text-anchor="middle" font-weight="bold" fill="#000" >6</text>
<line x1="184.33" y1="824.60" x2="184.33" y2="827.80" stroke="#000" stroke-width="1" />
<text transform="translate(184.33,838.60) scale(1.0,1.07)" font-size="10.0" text-anchor="middle" font-weight="bold" fill="#000" >9</text>
<line x1="233.88" y1="824.60" x2="233.88" y2="827.80" stroke="#000" stroke-width="1" />
<text transform="translate(233.88,838.60) scale(1.0,1.07)" font-size="10.0" text-anchor="middle" font-weight="bold" fill="#000" >12</text>
<line x1="283.43" y1="824.60" x2="283.43" y2="827.80" stroke="#000" stroke-width="1" />
<text transform="translate(283.43,838.60) scale(1.0,1.07)" font-size="10.0" text-anchor="middle" font-weight="bold" fill="#000" >15</text>
<line x1="332.97" y1="824.60" x2="332.97" y2="827.80" stroke="#000" stroke-width="1" />
<text transform="translate(332.97,838.60) scale(1.0,1.07)" font-size="10.0" text-anchor="middle" font-weight="bold" fill="#000" >18</text>
<line x1="382.51" y1="824.60" x2="382.51" y2="827.80" stroke="#000" stroke-width="1" />
<text transform="translate(382.51,838.60) scale(1.0,1.07)" font-size="10.0" text-anchor="middle" font-weight="bold" fill="#000" >21</text>
<line x1="432.06" y1="824.60" x2="432.06" y2="827.80" stroke="#000" stroke-width="1" />
<text transform="translate(432.06,838.60) scale(1.0,1.07)" font-size="10.0" text-anchor="middle" font-weight="bold" fill="#000" >24</text>
<line x1="481.61" y1="824.60" x2="481.61" y2="827.80" stroke="#000" stroke-width="1" />
<text transform="translate(481.61,838.60) scale(1.0,1.07)" font-size="10.0" text-anchor="middle" font-weight="bold" fill="#000" >27</text>
<line x1="531.15" y1="824.60" x2="531.15" y2="827.80" stroke="#000" stroke-width="1" />
<text transform="translate(531.15,838.60) scale(1.0,1.07)" font-size="10.0" text-anchor="middle" font-weight="bold" fill="#000" >30</text>
<line x1="580.70" y1="824.60" x2="580.70" y2="827.80" stroke="#000" stroke-width="1" />
<text transform="translate(580.70,838.60) scale(1.0,1.07)" font-size="10.0" text-anchor="middle" font-weight="bold" fill="#000" >33</text>
<line x1="630.24" y1="824.60" x2="630.24" y2="827.80" stroke="#000" stroke-width="1" />
<text transform="translate(630.24,838.60) scale(1.0,1.07)" font-size="10.0" text-anchor="middle" font-weight="bold" fill="#000" >36</text>
<line x1="679.79" y1="824.60" x2="679.79" y2="827.80" stroke="#000" stroke-width="1" />
<text transform="translate(679.79,838.60) scale(1.0,1.07)" font-size="10.0" text-anchor="middle" font-weight="bold" fill="#000" >39</text>
<line x1="60.47" y1="824.60" x2="60.47" y2="826.60" stroke="#000" stroke-width="1" />
<line x1="110.02" y1="824.60" x2="110.02" y2="826.60" stroke="#000" stroke-width="1" />
<line x1="159.56" y1="824.60" x2="159.56" y2="826.60" stroke="#000" stroke-width="1" />
<line x1="209.11" y1="824.60" x2="209.11" y2="826.60" stroke="#000" stroke-width="1" />
<line x1="258.65" y1="824.60" x2="258.65" y2="826.60" stroke="#000" stroke-width="1" />
<line x1="308.20" y1="824.60" x2="308.20" y2="826.60" stroke="#000" stroke-width="1" />
<line x1="357.74" y1="824.60" x2="357.74" y2="826.60" stroke="#000" stroke-width="1" />
<line x1="407.29" y1="824.60" x2="407.29" y2="826.60" stroke="#000" stroke-width="1" />
<line x1="456.83" y1="824.60" x2="456.83" y2="826.60" stroke="#000" stroke-width="1" />
<line x1="506.38" y1="824.60" x2="506.38" y2="826.60" stroke="#000" stroke-width="1" />
<line x1="555.92" y1="824.60" x2="555.92" y2="826.60" stroke="#000" stroke-width="1" />
<line x1="605.47" y1="824.60" x2="605.47" y2="826.60" stroke="#000" stroke-width="1" />
<line x1="655.01" y1="824.60" x2="655.01" y2="826.60" stroke="#000" stroke-width="1" />
<text transform="translate(357.00,855.00) scale(1.0,1.07)" font-size="10.2" text-anchor="middle" font-weight="bold" fill="#000" >Running time (h)</text>
<text x="0" y="0" font-size="10.2" text-anchor="middle" font-weight="bold" fill="#000" transform="translate(12.60,717.00) rotate(-90)">Normalized flux (%)</text>
<line x1="70.40" y1="625.40" x2="70.40" y2="652.60" stroke="#8c8c8c" stroke-width="1.1" />
<line x1="72.40" y1="641.50" x2="667.00" y2="641.50" stroke="#8c8c8c" stroke-width="1" />
<polygon points="71.9,641.5 77.4,639.3 77.4,643.7" fill="#8c8c8c"/>
<polygon points="668.5,641.5 663,639.3 663,643.7" fill="#8c8c8c"/>
<line x1="75.50" y1="678.70" x2="75.50" y2="705.80" stroke="#8c8c8c" stroke-width="1.1" />
<line x1="77.50" y1="695.50" x2="667.00" y2="695.50" stroke="#8c8c8c" stroke-width="1" />
<polygon points="77.0,695.5 82.5,693.3 82.5,697.7" fill="#8c8c8c"/>
<polygon points="668.5,695.5 663,693.3 663,697.7" fill="#8c8c8c"/>
<line x1="80.50" y1="732.60" x2="80.50" y2="759.10" stroke="#8c8c8c" stroke-width="1.1" />
<line x1="82.50" y1="747.30" x2="667.00" y2="747.30" stroke="#8c8c8c" stroke-width="1" />
<polygon points="82.0,747.3 87.5,745.0999999999999 87.5,749.5" fill="#8c8c8c"/>
<polygon points="668.5,747.3 663,745.0999999999999 663,749.5" fill="#8c8c8c"/>
<line x1="88.30" y1="785.60" x2="88.30" y2="812.10" stroke="#8c8c8c" stroke-width="1.1" />
<line x1="90.30" y1="803.50" x2="667.00" y2="803.50" stroke="#8c8c8c" stroke-width="1" />
<polygon points="89.8,803.5 95.3,801.3 95.3,805.7" fill="#8c8c8c"/>
<polygon points="668.5,803.5 663,801.3 663,805.7" fill="#8c8c8c"/>
<line x1="669.80" y1="635.00" x2="669.80" y2="819.00" stroke="#8c8c8c" stroke-width="1.2" />
<text transform="translate(166.00,639.10) scale(1.0,1.07)" font-size="8.9" text-anchor="middle" font-weight="bold" fill="#3b82e0" >Extended by 19 times</text>
<text transform="translate(203.20,691.50) scale(1.0,1.07)" font-size="8.9" text-anchor="middle" font-weight="bold" fill="#2a9a30" >Extended by 16.5 times</text>
<text transform="translate(231.60,744.30) scale(1.0,1.07)" font-size="8.9" text-anchor="middle" font-weight="bold" fill="#45b2cc" >Extended by 15 times</text>
<text transform="translate(265.60,800.20) scale(1.0,1.07)" font-size="8.9" text-anchor="middle" font-weight="bold" fill="#bdb53a" >Extended by 12.6 times</text>
<text transform="translate(71.40,663.30) scale(1.0,1.07)" font-size="9.7" text-anchor="middle" font-weight="bold" fill="#000" >~2.0 hours</text>
<text transform="translate(77.00,716.30) scale(1.0,1.07)" font-size="9.7" text-anchor="middle" font-weight="bold" fill="#000" >~2.3 hours</text>
<text transform="translate(81.60,769.70) scale(1.0,1.07)" font-size="9.7" text-anchor="middle" font-weight="bold" fill="#000" >~2.5 hours</text>
<text transform="translate(89.40,822.60) scale(1.0,1.07)" font-size="9.7" text-anchor="middle" font-weight="bold" fill="#000" >~3.0 hours</text>
<text transform="translate(667.30,661.00) scale(1.0,1.07)" font-size="8.8" text-anchor="end" font-weight="bold" fill="#000" >~38 hours</text>
<line x1="290.20" y1="619.00" x2="309.20" y2="619.00" stroke="#e87ac4" stroke-width="1.1" />
<circle cx="299" cy="619" r="2.3" fill="#e87ac4"/>
<text transform="translate(314.50,622.20) scale(1.0,1.07)" font-size="9.0" text-anchor="start" font-weight="bold" fill="#000" >CNTs-PVDF<tspan dy="2.5" font-size="5.8">85</tspan><tspan dy="-2.5"> (-1.35 V vs. Ag/AgCl)</tspan></text>
<line x1="463.00" y1="619.00" x2="485.00" y2="619.00" stroke="#5a96e8" stroke-width="1.1" />
<circle cx="473.8" cy="619" r="2.3" fill="#5a96e8"/>
<text transform="translate(485.70,622.20) scale(1.0,1.07)" font-size="8.9" text-anchor="start" font-weight="bold" fill="#000" >CM1</text>
<line x1="517.00" y1="619.00" x2="537.50" y2="619.00" stroke="#6ccf98" stroke-width="1.1" />
<circle cx="528" cy="619" r="2.3" fill="#6ccf98"/>
<text transform="translate(540.60,622.20) scale(1.0,1.07)" font-size="8.9" text-anchor="start" font-weight="bold" fill="#000" >CM2</text>
<line x1="572.00" y1="619.00" x2="590.80" y2="619.00" stroke="#48b6c8" stroke-width="1.1" />
<circle cx="581.4" cy="619" r="2.3" fill="#48b6c8"/>
<text transform="translate(594.00,622.20) scale(1.0,1.07)" font-size="8.9" text-anchor="start" font-weight="bold" fill="#000" >CM3</text>
<line x1="625.40" y1="619.00" x2="644.20" y2="619.00" stroke="#c0bb42" stroke-width="1.1" />
<circle cx="635.4" cy="619" r="2.3" fill="#c0bb42"/>
<text transform="translate(648.30,622.20) scale(1.0,1.07)" font-size="8.9" text-anchor="start" font-weight="bold" fill="#000" >CM4</text>
</svg></body></html>
